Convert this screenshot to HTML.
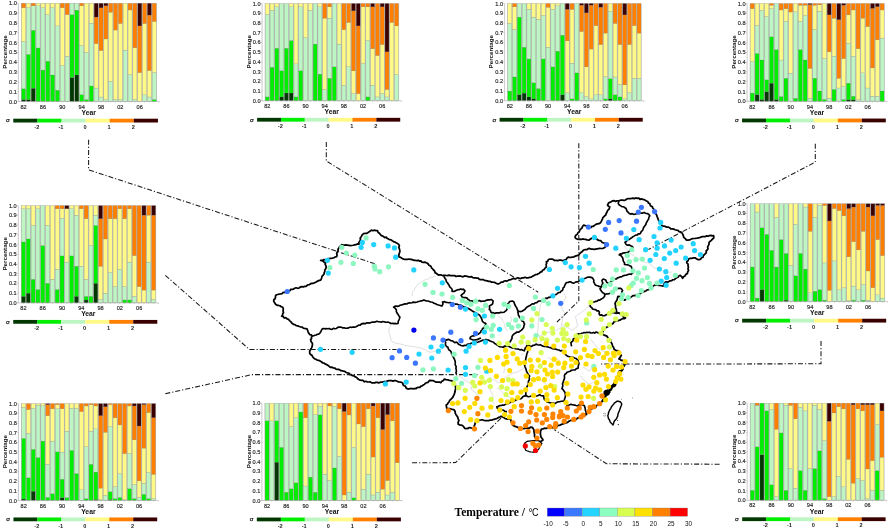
<!DOCTYPE html>
<html><head><meta charset="utf-8"><title>Temperature</title>
<style>html,body{margin:0;padding:0;background:#fff;width:890px;height:532px;overflow:hidden}svg{display:block;will-change:transform;filter:blur(0.3px)}</style>
</head><body>
<svg width="890" height="532" viewBox="0 0 890 532">
<rect width="890" height="532" fill="#fff"/>
<polygon points="273.7,301.1 273.83,299.71 275.05,298.76 275.47,297.49 275.45,296.04 276.2,294.9 277.63,294.5 279.05,294.05 280.54,293.86 282.02,293.61 283.25,292.47 284.8,292.5 285.83,291.5 287.42,291.79 288.48,290.86 289.86,290.67 290.77,289.37 292.2,289.29 293.56,289.05 294.7,288.3 296.1,287.76 297.68,288.28 299.13,287.99 300.41,286.79 301.86,286.54 303.4,286.8 304.65,286.41 306.04,286.38 307.07,285.36 308.25,284.76 309.56,284.53 310.65,283.69 311.96,283.45 313.3,283.3 314.51,282.7 315.76,282.23 316.88,281.43 318.12,280.89 319.34,280.35 320.7,280.1 321.29,278.85 321.74,277.54 322.11,276.19 323.2,275.2 324.03,274.09 324.22,272.74 324.79,271.54 324.8,270.12 325.6,269 326.14,267.45 326,265.9 325.18,264.35 325.6,262.8 324.29,262.34 323.26,261.33 322.03,260.72 320.7,260.3 322.23,260.49 323.55,259.65 325.07,259.81 326.47,259.35 327.82,258.67 329.3,258.6 330.81,258.29 332.37,258.21 333.84,257.77 335.22,257.01 336.7,256.6 337.06,255.14 336.72,253.55 337.2,252.11 338.06,250.74 338,249.2 338.85,248.02 339.57,246.72 340.82,245.86 341.7,244.7 343.1,245.04 344.51,245.12 345.95,244.91 347.36,245.09 348.77,245.28 350.16,245.69 351.6,245.5 353.08,245.26 354.54,244.86 356.04,244.71 357.43,243.95 359,244.2 358.81,242.58 359.82,241.19 360.42,239.73 360.2,238.1 361.12,236.92 361.77,235.57 362.7,234.4 363.8,233.56 365.18,233.4 366.62,233.39 367.77,232.68 368.9,231.9 370.17,231.09 371.4,230.2 372.89,230.72 374.47,230.16 375.97,230.59 377.5,230.7 378.03,232.22 379.28,233.2 380.31,234.35 381.2,235.6 382.54,235.89 383.65,236.7 384.72,237.64 386.36,237.2 387.27,238.51 388.49,239.07 389.7,239.67 391.1,239.8 392.22,240.76 393.43,241.56 394.84,242.02 396.07,242.79 397.39,243.4 398.6,244.2 399.38,245.66 398.8,247.38 399.42,248.86 399.8,250.4 399.82,252.01 399.19,253.5 398.92,255.05 398.6,256.6 399.9,257.08 401.13,257.7 402.26,258.51 403.5,259.1 404.83,259.34 406.18,259.44 407.54,259.38 408.92,259.02 410.25,259.35 411.6,259.4 412.91,259.96 414.23,260.37 415.58,260.41 416.93,260.52 418.3,260.3 419.42,261.09 420.87,260.97 421.88,262.04 423.18,262.33 424.65,262.18 425.91,262.58 427.15,263.04 428.2,264 428.87,265.19 430.17,265.82 431.17,266.72 431.63,268.09 432.74,268.89 433.5,270 434.71,271.17 435.1,272.8 436.44,273.26 437.35,274.36 438.5,275.1 439.82,274.81 441.11,274.99 442.39,275.55 443.7,275.34 445.01,275.26 446.3,275.5 447.6,275.6 449.03,275.15 450.41,275.63 451.8,275.74 453.22,275.56 454.62,275.55 455.98,276.49 457.4,276.14 458.8,276.2 460.23,275.96 461.62,276.47 463.02,276.77 464.48,275.97 465.89,276.05 467.3,276.26 468.67,276.97 470.1,276.8 471.53,276.69 472.78,277.54 474.14,277.77 475.53,277.89 476.9,278.1 478.27,278.18 479.33,279.35 480.67,279.53 482.04,279.6 483.41,279.66 484.57,280.49 485.9,280.7 487.28,280.89 488.6,281.38 490.02,281.41 491.31,282.04 492.7,282.2 494.36,282.28 495.77,283.06 497.2,283.8 498.72,283.78 500.02,283.19 501.15,282.1 502.7,282.17 503.9,281.3 505.21,280.76 506.74,281.09 508.05,280.54 509.32,279.85 510.7,279.6 512.12,279.01 513.53,278.42 515.21,279.03 516.6,278.3 517.94,277.69 519.38,278.45 520.76,278.51 522.1,277.9 523.59,277.84 525.03,277.27 526.59,277.9 528.08,277.89 529.54,277.46 531,277.1 532.2,276.55 533.34,275.86 534.53,275.28 535.66,274.58 537.08,274.49 538.17,273.69 539.4,273.2 540.42,272.16 541.8,271.7 542.61,270.25 544.18,269.53 545.01,268.09 546.3,267.1 546.3,265.75 546.11,264.4 546.71,263.05 546.3,261.7 547.79,261.16 548.45,259.47 550,259 551.64,259 553.19,259.46 554.62,260.5 556.3,260.3 557.8,260.63 559.3,260.16 560.8,260.04 562.3,260.57 563.8,260.4 565.19,259.88 566.42,259.14 567.23,257.78 568.5,257.1 570.35,257.52 572.2,257.1 573.83,256.83 575.33,256.15 576.9,255.7 578.6,255.19 579.7,253.8 580.46,252.66 581.81,252.11 582.6,251 583.83,250 585.26,249.51 586.97,249.69 588.2,248.7 589.7,248.46 591.14,249.14 592.63,249.05 594.1,249.39 595.6,249.1 597.01,248.81 598.43,248.63 599.85,248.42 601.3,248.5 603.12,248.33 604.7,247.4 605.88,246.33 606.9,245.1 606.04,243.95 604.86,243.28 603.5,242.9 602.17,242.46 601.33,241.32 600.2,240.6 598.83,240.39 597.63,239.85 596.7,238.8 595.33,238.96 594.26,237.81 592.9,237.9 591.47,238.4 590.18,239.12 589.1,240.2 587.21,239.92 585.4,239.3 584.08,239.17 582.76,238.99 581.44,239.43 580.12,239.22 578.8,239.3 577.06,239.09 575.5,238.3 575,236.9 575.85,235.2 577.4,234.1 577.95,232.7 579.3,231.79 579.7,230.3 580.71,229.07 581.97,228.03 582.51,226.45 583.5,225.2 585.4,225.6 586.88,225.84 588.1,226.85 589.48,227.37 591,227.5 591.89,226.34 593.43,226.26 594.5,225.4 595.84,224.41 597.35,223.87 599,223.7 600.45,222.85 601.3,221.4 602.4,219.2 602.75,217.78 603.7,216.77 604.7,215.8 605.88,214.96 606.09,213.49 606.9,212.4 607.32,211.03 608.13,209.93 609.2,209 609.7,206.8 608.43,206.18 607.5,205.1 608.6,202.8 610.42,202.19 612,201.1 613.67,200.56 615.43,201.35 617.1,200.8 619.3,200.5 620.89,200.22 622.5,200.2 624.05,200.38 625.48,200 626.77,199.02 628.2,198.66 629.7,198.6 631.24,198.53 632.77,198.08 634.32,198.65 635.85,197.93 637.4,198.4 638.83,198.11 639.99,199.4 641.46,198.9 642.74,199.46 644.1,199.6 645.27,200.33 646.5,200.99 647.79,201.54 648.4,203.1 649.8,203.5 650.06,204.88 650.76,205.98 652.26,206.57 652.6,207.9 653.6,208.86 653.96,210.24 654.8,211.3 655.18,213.24 656.5,214.7 657.06,216.37 657.7,218 658.28,219.59 659.07,221.08 660,222.5 660.96,223.49 661.43,224.79 662.2,225.9 663.75,226.1 665.27,226.43 666.7,227.1 668.23,227.08 669.57,227.72 670.75,228.88 672.3,228.8 673.74,229.14 675.1,229.76 676.53,230.15 678,230.4 679.08,231.64 680.73,231.96 682,232.9 682.8,234.32 683.38,235.83 683.8,237.4 685.29,238.61 686.5,240.1 688.07,240.17 689.58,239.92 691,239.2 692.4,238.73 693.85,238.5 695.33,238.47 696.78,238.25 698.2,237.9 699.66,237.72 701.03,237.06 702.42,236.54 703.91,236.5 705.4,236.5 706.72,235.88 708.14,236.26 709.45,235.58 710.82,235.44 712.25,235.9 713.6,235.6 713.83,236.95 713.6,238.3 712.23,239.2 711.31,240.56 709.87,241.39 709,242.8 709.01,244.33 708.28,245.68 707.61,247.04 708.01,248.67 707.2,250 706.16,250.98 706.32,252.56 705.4,253.6 704.35,254.63 703.36,255.7 703,257.2 701.6,257.71 700.71,258.96 699.4,259.6 697.78,259.56 696.4,258.68 695.03,257.81 693.4,257.8 691.64,258.32 689.8,258.4 688.49,259.09 688.08,260.68 686.8,261.4 686.77,262.92 688.1,264.06 688,265.6 688.4,267.21 687.96,268.92 688.6,270.5 687.69,271.88 687.4,273.5 685.88,274.38 685,275.9 683.53,276.83 682.6,278.3 681.61,276.63 680.2,275.3 678.88,275.93 678,277.19 676.6,277.7 675.41,278.51 674.35,279.52 672.8,279.75 671.7,280.7 670.16,280.82 668.75,281.57 667.29,282.07 665.7,281.9 664.46,283.05 663.81,284.53 663.3,286.1 661.51,285.75 659.7,285.5 658.4,285.35 657.13,284.91 655.8,285.25 654.5,285.1 653.34,286.12 652.14,287.11 650.8,287.9 649.76,288.83 648.72,289.75 647.19,289.86 646.1,290.7 644.57,291.42 642.94,291.89 641.4,292.6 640.24,293.59 638.77,293.83 637.52,294.6 636.18,295.15 634.79,295.56 633.21,295.52 632,296.4 630.66,297.39 629.2,298.2 627.84,298.8 626.4,299.2 624.5,300.1 623.4,299.17 621.98,298.69 620.66,298.07 619.8,296.8 617.9,296.4 617.42,298.24 617,300.1 616.05,301.5 615.1,302.9 615.14,304.22 615.57,305.49 615.5,306.83 615.65,308.14 616.38,309.36 616.31,310.7 616.5,312 617.71,312.58 619.04,312.93 620.14,313.71 621.3,314.4 622.31,315.35 623.11,316.54 624.15,317.45 625.5,318 624.17,318.67 622.65,318.71 621.3,319.3 619.82,320.18 618.21,320.56 616.5,320.5 615.29,321.39 613.85,321.97 613.12,323.5 611.7,324.1 610.32,324.6 609.03,325.24 608.13,326.53 606.8,327.1 605.45,328.15 604.13,329.23 603.2,330.7 602.73,332.25 602,333.7 603.1,334.5 604.28,335.13 605.55,335.59 606.8,336.1 607.76,337.58 608.96,338.81 610.5,339.7 610.47,341.35 611.32,342.72 612.19,344.1 612.3,345.7 613.15,346.78 613.78,347.96 614.1,349.3 615.27,349.97 616.37,350.75 617.92,350.66 618.9,351.7 619.53,353.04 620.3,354.3 621.3,355.4 620.64,356.69 619.69,357.79 618.9,359 620.26,359.27 621.19,360.43 622.73,360.35 623.7,361.4 623.93,362.95 625.1,364 623.9,365.8 623,366.85 622.57,368.14 622.33,369.51 621.5,370.6 620.35,371.73 619.56,373.05 619.6,374.84 618.5,376 617.59,377.31 616.89,378.71 616.6,380.3 615.65,381.4 614.82,382.58 614.2,383.9 613.45,385.13 612.21,386.04 611.8,387.5 610.2,388.68 609.4,390.5 608.28,391.5 607,392.3 606.19,393.41 606.07,394.79 605.5,396 604.6,398.3 603.69,400.03 602.2,401.3 601.34,402.44 600.49,403.59 599.2,404.3 597.68,404.86 596.4,405.74 595.7,407.41 594.2,408 592.56,408.5 591.04,409.29 589.4,409.8 588.5,411.3 587,412.2 586.39,413.52 585.63,414.75 584.6,415.8 583.07,416.02 581.89,417.28 580.39,417.56 578.86,417.78 577.4,418.2 576.44,419.27 574.94,419.27 573.8,420 572.17,420.29 570.51,420.44 569,421.2 567.95,422.12 566.71,422.68 565.4,423.1 563.54,423.66 561.7,424.3 559.98,425.14 558.1,425.5 556.84,426.43 555.88,427.71 554.5,428.5 552.76,427.71 550.9,427.3 549.22,427.39 547.62,427.77 546.1,428.5 544.44,428.18 542.89,428.85 541.3,429.1 541.04,430.4 540.38,431.62 540.5,433 540.37,434.37 540.76,435.68 541,437 542.11,438.43 543,440 541.61,440.96 540,441.5 538.31,441.14 537,440 536.45,438.49 534.98,437.56 534.5,436 534.6,434.47 534.22,432.99 534,431.5 533.91,429.91 533.13,428.59 532.3,427.3 530.78,427.02 529.5,428.16 528,428 526.67,428.12 525.34,428.17 524.04,428.58 522.7,428.5 521.07,428.1 519.4,427.85 517.8,427.3 516.01,426.67 514.2,426.1 512.57,424.94 511.8,423.1 511.14,421.27 510.6,419.4 509.19,419.23 507.77,419.16 506.38,418.83 505,418.5 503.81,417.52 502.43,416.92 501,416.4 499.8,417.01 498.53,417.45 497.4,418.2 495.64,418.93 493.8,419.4 492.05,420.02 490.2,420 488.67,420.74 487.03,420.64 485.4,420.6 483.78,420.29 482.18,419.78 480.5,420 478.97,420.46 477.79,421.54 476.18,421.86 475.1,423.1 474.84,424.61 474.14,426.03 474.3,427.62 473.9,429.1 472.5,428.25 470.9,427.9 469.35,427.52 467.92,428.41 466.44,428.71 464.9,428.5 463.8,426.92 462.5,425.5 461.11,425.07 459.66,424.85 458.3,424.3 458.06,422.36 458.9,420.6 458.18,418.84 457.7,417 456.83,415.85 456.01,414.66 455.3,413.4 455.08,411.47 454.1,409.8 452.66,409.47 451.22,409.07 449.79,408.65 448.3,408.57 446.8,408.6 446.49,406.8 446.2,405 447.34,404.24 448.1,403.1 449.13,401.68 449.9,400.1 451.02,399.22 452,398.2 452.9,397.1 453.41,395.85 454.1,394.7 454.64,393.13 455.04,391.54 455.3,389.9 455.71,388.4 455.46,386.93 455.46,385.46 455,384 454.18,382.56 452.9,381.5 451.21,380.57 449.3,380.3 447.69,379.79 445.99,379.66 444.4,379.1 443.38,380.48 441.84,381.34 440.8,382.7 439.38,382 437.81,382.05 436.22,382.18 434.8,381.5 433.29,380.74 431.6,380.72 430,380.3 428.9,381.13 428.06,382.31 426.64,382.69 425.38,383.28 424.47,384.37 423.3,385.1 422.17,385.84 420.82,386.15 419.94,387.37 418.5,387.49 417.08,387.66 416.1,388.7 414.6,388.49 413.1,388.81 411.6,388.49 410.1,388.58 408.6,389.02 407.1,388.7 405.94,387.86 405.59,386.32 404.16,385.72 403.08,384.81 402.79,383.21 401.6,382.4 400.17,382.02 398.68,381.82 397.28,381.31 395.9,380.71 394.4,380.6 392.99,381.06 391.51,380.63 390.06,380.67 388.62,380.65 387.2,381.1 385.81,381.61 384.3,381.5 382.93,382.17 381.43,382.07 380,382.4 378.68,382.88 377.27,382.33 375.91,382.37 374.6,382.9 373.14,382.91 371.68,382.84 370.34,381.85 368.87,381.95 367.4,382 366.05,381.27 364.39,381.78 363.19,380.49 361.67,380.43 360.2,380.2 358.74,379.47 357.46,378.46 356.31,377.26 354.8,376.6 353.74,375.72 352.25,375.71 351.26,374.68 349.84,374.53 349.03,373.13 347.6,373 346.28,372.54 345.17,371.55 343.79,371.22 342.44,370.83 341,370.67 339.81,369.89 338.5,369.4 337.1,369.4 335.81,369.01 334.71,368.02 333.31,368 332.15,367.21 330.7,367.36 329.5,366.7 328.28,365.6 326.93,364.7 325.33,364.18 324.1,363.1 322.55,362.78 321.35,361.8 320.05,361.01 318.7,360.3 317.15,360.02 315.85,359.26 314.43,358.71 313.3,357.6 312.48,356.41 311.83,355.08 310.36,354.42 309.7,353.1 309.65,351.18 310.6,349.5 311.41,348.08 312.12,346.63 312.4,345 312.43,343.49 311.62,342.26 310.89,341 310.6,339.6 311.53,338.57 311.42,337.01 312.4,336 311.33,334.93 309.73,334.56 308.8,333.3 308.1,331.84 307.59,330.3 307,328.8 305.7,328.57 304.38,328.43 303.14,328 302.06,327.02 300.7,327 299.23,326.5 297.81,325.84 296.21,325.68 294.94,324.62 293.4,324.3 291.92,323.08 290.7,321.6 289.56,320.62 288.57,319.44 287.1,318.9 285.99,317.74 284.18,318 283.2,316.58 281.7,316.2 282.65,315.14 282.72,313.65 283.5,312.5 283.15,311.17 283.14,309.79 283.28,308.37 282.6,307.1 281.22,306.75 280.03,305.8 278.64,305.48 277.2,305.3 275.58,304.22 274.5,302.6" fill="#fff"/>
<polyline points="412.2,296 412.2,293.7 412.68,292.17 413.57,290.84 414.47,289.51 415,288 415.94,287.04 416.78,286 417.44,284.82 418.3,283.8 419.55,283.32 420.59,282.5 421.57,281.57 422.84,281.13 424,280.5 425.21,279.63 426.8,279.62 428.14,279.05 429.31,278.07 430.7,277.6 431.99,277.07 433.4,276.98 434.62,276.2 436,276" fill="none" stroke="#c2c2c2" stroke-width="0.55" stroke-linejoin="round"/>
<polyline points="391.1,323.4 390.57,324.86 390.34,326.43 389.35,327.74 388.9,329.23 388.7,330.8 389.05,332.09 389.24,333.43 389.87,334.65 390,336 390.56,337.52 390.88,339.1 391.1,340.7 392.33,341.58 393.8,342.06 395,343 396.56,343.69 398.33,343.44 399.9,344.1 401.48,344.27 403.02,344.57 404.43,345.41 406,345.6 407.4,345.71 408.77,345.98 410.17,346.08 411.52,346.5 412.93,346.53 414.3,346.8 415.77,346.9 417.16,347.35 418.6,347.57 420,348 421.35,348.11 422.49,348.97 423.79,349.25 425.1,349.5 426.27,350.32 427.41,351.18 428.81,351.61 430,352.4 431.3,351.99 432.64,351.7 433.96,351.36 435.3,351.1 436.63,350.86 437.81,350.07 439.19,350.03 440.5,349.7 441.85,348.82 443.11,347.81 444.5,347" fill="none" stroke="#c2c2c2" stroke-width="0.55" stroke-linejoin="round"/>
<polyline points="542.9,300 542.52,301.31 541.63,302.36 541.31,303.7 540.5,304.8 540.11,306.22 539.95,307.67 539.86,309.13 539.46,310.55 539.3,312 539.13,313.46 539.38,314.95 538.92,316.38 538.74,317.83 538.7,319.3 538.57,320.74 538.2,322.16 538.18,323.61 538.31,325.07 538.1,326.5 538.06,328.13 537.89,329.74 537.4,331.3 537.83,332.98 538.54,334.55 539.3,336.1 539.83,337.73 540.54,339.29 541.1,340.9 540.02,341.8 539.07,342.85 537.86,343.58 536.8,344.5" fill="none" stroke="#c2c2c2" stroke-width="0.55" stroke-linejoin="round"/>
<polyline points="563.9,293.6 564.42,294.99 565.53,295.98 566.3,297.2 565.42,298.32 564.66,299.51 564.22,300.91 563.3,302 562.75,303.49 561.64,304.63 560.9,306 561.74,307.08 562.17,308.36 562.46,309.72 563.3,310.8 563.99,312.16 565.1,313.2 564.68,314.53 564.06,315.74 563.32,316.89 562.5,318 562.02,319.49 562.33,321.1 561.94,322.61 561.5,324.1 561.47,325.95 560.9,327.7 559.82,328.53 558.49,328.89 557.4,329.7 556.1,330.1 554.62,330.61 553.05,330.84 551.56,331.3 550.1,331.9 548.62,332.41 547.04,332.61 545.59,333.2 544.1,333.7 542.61,334.09 541.37,335.06 539.9,335.5" fill="none" stroke="#c2c2c2" stroke-width="0.55" stroke-linejoin="round"/>
<polyline points="561.5,324.1 562.45,325.1 563.61,325.77 564.79,326.41 566,327 567.48,327.45 568.85,328.13 570.14,329 571.51,329.68 573,330.1 573.98,328.8 575.25,327.82 576.78,327.16 577.8,325.9 577.2,324.67 577.22,323.27 576.66,322.03 576.53,320.67 576.33,319.34 575.8,318.09 575.4,316.8 576.55,315.84 577.73,314.9 579.05,314.17 580.2,313.2 581.45,312.37 582.56,311.35 583.79,310.48 585,309.6 586.22,308.42 587.4,307.2 588.14,306.03 588.96,304.93 590,304" fill="none" stroke="#c2c2c2" stroke-width="0.55" stroke-linejoin="round"/>
<polyline points="589.8,339.7 590.88,340.54 592.2,340.9 593.09,342.04 593.63,343.41 594.6,344.5 595.58,345.92 597.09,346.81 598.2,348.1 599.35,349.22 600.8,349.94 602,351 603.39,351.11 604.69,351.56 606,352" fill="none" stroke="#c2c2c2" stroke-width="0.55" stroke-linejoin="round"/>
<polyline points="497.7,315.3 498.82,316.22 499.94,317.13 501.3,317.7 502.2,318.75 502.22,320.24 502.9,321.4 503.7,322.5 504.43,323.91 504.36,325.56 505,327 505.48,328.43 506.53,329.57 507,331" fill="none" stroke="#c2c2c2" stroke-width="0.55" stroke-linejoin="round"/>
<polyline points="510.9,316.5 511.28,317.98 511.24,319.51 511.5,321 510.69,322.22 510.4,323.63 510,325" fill="none" stroke="#c2c2c2" stroke-width="0.55" stroke-linejoin="round"/>
<polyline points="456.3,374.7 457.74,375.14 458.85,376.25 460.15,376.96 461.6,377.4 462.96,378.64 464.2,380 465.54,380.53 466.83,381.14 468,382 469.21,382.6 470.18,383.49 471.21,384.31 472.1,385.3 471.43,386.52 471.44,387.97 470.8,389.2 472.22,389.89 473.23,391.18 474.7,391.8 475.84,393.36 477.4,394.5 478.49,395.5 479.23,396.76 480,398" fill="none" stroke="#c2c2c2" stroke-width="0.55" stroke-linejoin="round"/>
<polyline points="489.2,377.4 490.59,377.91 491.86,378.67 493.16,379.38 494.5,380 495.95,380.63 497.1,381.73 498.4,382.6 499.89,382.24 501.1,381.3 502.43,380.03 503.7,378.7 505.01,377.84 506.41,377.14 507.6,376.1 508.91,375.17 510.18,374.17 511.6,373.4 512.96,373.31 514.14,372.52 515.57,372.69 516.8,372.1 518.24,371.69 519.46,370.83 520.78,370.16 522.1,369.5 523.34,368.41 524.78,367.64 526.3,367" fill="none" stroke="#c2c2c2" stroke-width="0.55" stroke-linejoin="round"/>
<polyline points="487.9,386.6 488.51,388.07 489.7,389.16 490.5,390.5 490.97,391.93 492.01,393.07 492.54,394.47 493.2,395.8 492.95,397.24 492.37,398.59 492,400 492.93,401.2 493.39,402.64 494,404" fill="none" stroke="#c2c2c2" stroke-width="0.55" stroke-linejoin="round"/>
<polyline points="503.7,365.5 503.92,366.9 504.76,368.1 505,369.5 504.06,371.14 503.7,373" fill="none" stroke="#c2c2c2" stroke-width="0.55" stroke-linejoin="round"/>
<polyline points="520.8,355 522.14,354.24 523.5,353.5" fill="none" stroke="#c2c2c2" stroke-width="0.55" stroke-linejoin="round"/>
<polyline points="583,367 584.38,367.53 585.26,368.81 586.6,369.4 588.23,370.34 590,371 590.72,369.31 592,368 593.52,367.03 595,366" fill="none" stroke="#c2c2c2" stroke-width="0.55" stroke-linejoin="round"/>
<polyline points="580,376 581.13,376.87 582.2,377.8 582.92,379.08 584,380 585.08,380.85 585.84,382.01 587.02,382.76 587.8,383.9 589.27,383.93 590.63,383.42 592,383 593.27,382.2 594.53,381.39 596,381" fill="none" stroke="#c2c2c2" stroke-width="0.55" stroke-linejoin="round"/>
<polyline points="548,357 549.17,358.22 550.79,358.83 552,360 553.21,359.09 554.55,358.42 556,358 557.23,359.14 558.52,360.2 560,361" fill="none" stroke="#c2c2c2" stroke-width="0.55" stroke-linejoin="round"/>
<polyline points="540,380 541.13,380.94 542.46,381.56 543.67,382.38 545,383 546.04,384.07 546.41,385.55 547.11,386.84 548,388 547.35,389.34 546.68,390.67 546,392" fill="none" stroke="#c2c2c2" stroke-width="0.55" stroke-linejoin="round"/>
<polyline points="497,388 498.36,388.86 499.65,389.82 500.79,390.95 502,392 503.17,392.83 504.05,393.95 505.19,394.81 506,396 507.49,396.52 508.99,397.04 510.53,397.4 512,398" fill="none" stroke="#c2c2c2" stroke-width="0.55" stroke-linejoin="round"/>
<polyline points="624,246 624.68,247.28 625.78,248.28 626.63,249.44 627.28,250.75 628,252 629.15,252.91 630.57,253.38 631.61,254.48 633,255 634.2,256.06 635.5,257 636.7,258.06 638,259 639.18,259.64 640.39,260.21 641.5,261 642.74,261.52 644,262 645.5,262.51 647.11,262.67 648.56,263.31 650,264 651.41,264.8 652.33,266.21 653.55,267.25 655,268 656.28,268.42 657.43,269.17 658.86,269.22 660,270 661.42,270.73 663.1,270.71 664.43,271.71 666,272 667.5,272.1 669,272.26 670.5,272.19 672,272" fill="none" stroke="#c2c2c2" stroke-width="0.55" stroke-linejoin="round"/>
<polygon points="273.7,301.1 273.83,299.71 275.05,298.76 275.47,297.49 275.45,296.04 276.2,294.9 277.63,294.5 279.05,294.05 280.54,293.86 282.02,293.61 283.25,292.47 284.8,292.5 285.83,291.5 287.42,291.79 288.48,290.86 289.86,290.67 290.77,289.37 292.2,289.29 293.56,289.05 294.7,288.3 296.1,287.76 297.68,288.28 299.13,287.99 300.41,286.79 301.86,286.54 303.4,286.8 304.65,286.41 306.04,286.38 307.07,285.36 308.25,284.76 309.56,284.53 310.65,283.69 311.96,283.45 313.3,283.3 314.51,282.7 315.76,282.23 316.88,281.43 318.12,280.89 319.34,280.35 320.7,280.1 321.29,278.85 321.74,277.54 322.11,276.19 323.2,275.2 324.03,274.09 324.22,272.74 324.79,271.54 324.8,270.12 325.6,269 326.14,267.45 326,265.9 325.18,264.35 325.6,262.8 324.29,262.34 323.26,261.33 322.03,260.72 320.7,260.3 322.23,260.49 323.55,259.65 325.07,259.81 326.47,259.35 327.82,258.67 329.3,258.6 330.81,258.29 332.37,258.21 333.84,257.77 335.22,257.01 336.7,256.6 337.06,255.14 336.72,253.55 337.2,252.11 338.06,250.74 338,249.2 338.85,248.02 339.57,246.72 340.82,245.86 341.7,244.7 343.1,245.04 344.51,245.12 345.95,244.91 347.36,245.09 348.77,245.28 350.16,245.69 351.6,245.5 353.08,245.26 354.54,244.86 356.04,244.71 357.43,243.95 359,244.2 358.81,242.58 359.82,241.19 360.42,239.73 360.2,238.1 361.12,236.92 361.77,235.57 362.7,234.4 363.8,233.56 365.18,233.4 366.62,233.39 367.77,232.68 368.9,231.9 370.17,231.09 371.4,230.2 372.89,230.72 374.47,230.16 375.97,230.59 377.5,230.7 378.03,232.22 379.28,233.2 380.31,234.35 381.2,235.6 382.54,235.89 383.65,236.7 384.72,237.64 386.36,237.2 387.27,238.51 388.49,239.07 389.7,239.67 391.1,239.8 392.22,240.76 393.43,241.56 394.84,242.02 396.07,242.79 397.39,243.4 398.6,244.2 399.38,245.66 398.8,247.38 399.42,248.86 399.8,250.4 399.82,252.01 399.19,253.5 398.92,255.05 398.6,256.6 399.9,257.08 401.13,257.7 402.26,258.51 403.5,259.1 404.83,259.34 406.18,259.44 407.54,259.38 408.92,259.02 410.25,259.35 411.6,259.4 412.91,259.96 414.23,260.37 415.58,260.41 416.93,260.52 418.3,260.3 419.42,261.09 420.87,260.97 421.88,262.04 423.18,262.33 424.65,262.18 425.91,262.58 427.15,263.04 428.2,264 428.87,265.19 430.17,265.82 431.17,266.72 431.63,268.09 432.74,268.89 433.5,270 434.71,271.17 435.1,272.8 436.44,273.26 437.35,274.36 438.5,275.1 439.82,274.81 441.11,274.99 442.39,275.55 443.7,275.34 445.01,275.26 446.3,275.5 447.6,275.6 449.03,275.15 450.41,275.63 451.8,275.74 453.22,275.56 454.62,275.55 455.98,276.49 457.4,276.14 458.8,276.2 460.23,275.96 461.62,276.47 463.02,276.77 464.48,275.97 465.89,276.05 467.3,276.26 468.67,276.97 470.1,276.8 471.53,276.69 472.78,277.54 474.14,277.77 475.53,277.89 476.9,278.1 478.27,278.18 479.33,279.35 480.67,279.53 482.04,279.6 483.41,279.66 484.57,280.49 485.9,280.7 487.28,280.89 488.6,281.38 490.02,281.41 491.31,282.04 492.7,282.2 494.36,282.28 495.77,283.06 497.2,283.8 498.72,283.78 500.02,283.19 501.15,282.1 502.7,282.17 503.9,281.3 505.21,280.76 506.74,281.09 508.05,280.54 509.32,279.85 510.7,279.6 512.12,279.01 513.53,278.42 515.21,279.03 516.6,278.3 517.94,277.69 519.38,278.45 520.76,278.51 522.1,277.9 523.59,277.84 525.03,277.27 526.59,277.9 528.08,277.89 529.54,277.46 531,277.1 532.2,276.55 533.34,275.86 534.53,275.28 535.66,274.58 537.08,274.49 538.17,273.69 539.4,273.2 540.42,272.16 541.8,271.7 542.61,270.25 544.18,269.53 545.01,268.09 546.3,267.1 546.3,265.75 546.11,264.4 546.71,263.05 546.3,261.7 547.79,261.16 548.45,259.47 550,259 551.64,259 553.19,259.46 554.62,260.5 556.3,260.3 557.8,260.63 559.3,260.16 560.8,260.04 562.3,260.57 563.8,260.4 565.19,259.88 566.42,259.14 567.23,257.78 568.5,257.1 570.35,257.52 572.2,257.1 573.83,256.83 575.33,256.15 576.9,255.7 578.6,255.19 579.7,253.8 580.46,252.66 581.81,252.11 582.6,251 583.83,250 585.26,249.51 586.97,249.69 588.2,248.7 589.7,248.46 591.14,249.14 592.63,249.05 594.1,249.39 595.6,249.1 597.01,248.81 598.43,248.63 599.85,248.42 601.3,248.5 603.12,248.33 604.7,247.4 605.88,246.33 606.9,245.1 606.04,243.95 604.86,243.28 603.5,242.9 602.17,242.46 601.33,241.32 600.2,240.6 598.83,240.39 597.63,239.85 596.7,238.8 595.33,238.96 594.26,237.81 592.9,237.9 591.47,238.4 590.18,239.12 589.1,240.2 587.21,239.92 585.4,239.3 584.08,239.17 582.76,238.99 581.44,239.43 580.12,239.22 578.8,239.3 577.06,239.09 575.5,238.3 575,236.9 575.85,235.2 577.4,234.1 577.95,232.7 579.3,231.79 579.7,230.3 580.71,229.07 581.97,228.03 582.51,226.45 583.5,225.2 585.4,225.6 586.88,225.84 588.1,226.85 589.48,227.37 591,227.5 591.89,226.34 593.43,226.26 594.5,225.4 595.84,224.41 597.35,223.87 599,223.7 600.45,222.85 601.3,221.4 602.4,219.2 602.75,217.78 603.7,216.77 604.7,215.8 605.88,214.96 606.09,213.49 606.9,212.4 607.32,211.03 608.13,209.93 609.2,209 609.7,206.8 608.43,206.18 607.5,205.1 608.6,202.8 610.42,202.19 612,201.1 613.67,200.56 615.43,201.35 617.1,200.8 619.3,200.5 620.89,200.22 622.5,200.2 624.05,200.38 625.48,200 626.77,199.02 628.2,198.66 629.7,198.6 631.24,198.53 632.77,198.08 634.32,198.65 635.85,197.93 637.4,198.4 638.83,198.11 639.99,199.4 641.46,198.9 642.74,199.46 644.1,199.6 645.27,200.33 646.5,200.99 647.79,201.54 648.4,203.1 649.8,203.5 650.06,204.88 650.76,205.98 652.26,206.57 652.6,207.9 653.6,208.86 653.96,210.24 654.8,211.3 655.18,213.24 656.5,214.7 657.06,216.37 657.7,218 658.28,219.59 659.07,221.08 660,222.5 660.96,223.49 661.43,224.79 662.2,225.9 663.75,226.1 665.27,226.43 666.7,227.1 668.23,227.08 669.57,227.72 670.75,228.88 672.3,228.8 673.74,229.14 675.1,229.76 676.53,230.15 678,230.4 679.08,231.64 680.73,231.96 682,232.9 682.8,234.32 683.38,235.83 683.8,237.4 685.29,238.61 686.5,240.1 688.07,240.17 689.58,239.92 691,239.2 692.4,238.73 693.85,238.5 695.33,238.47 696.78,238.25 698.2,237.9 699.66,237.72 701.03,237.06 702.42,236.54 703.91,236.5 705.4,236.5 706.72,235.88 708.14,236.26 709.45,235.58 710.82,235.44 712.25,235.9 713.6,235.6 713.83,236.95 713.6,238.3 712.23,239.2 711.31,240.56 709.87,241.39 709,242.8 709.01,244.33 708.28,245.68 707.61,247.04 708.01,248.67 707.2,250 706.16,250.98 706.32,252.56 705.4,253.6 704.35,254.63 703.36,255.7 703,257.2 701.6,257.71 700.71,258.96 699.4,259.6 697.78,259.56 696.4,258.68 695.03,257.81 693.4,257.8 691.64,258.32 689.8,258.4 688.49,259.09 688.08,260.68 686.8,261.4 686.77,262.92 688.1,264.06 688,265.6 688.4,267.21 687.96,268.92 688.6,270.5 687.69,271.88 687.4,273.5 685.88,274.38 685,275.9 683.53,276.83 682.6,278.3 681.61,276.63 680.2,275.3 678.88,275.93 678,277.19 676.6,277.7 675.41,278.51 674.35,279.52 672.8,279.75 671.7,280.7 670.16,280.82 668.75,281.57 667.29,282.07 665.7,281.9 664.46,283.05 663.81,284.53 663.3,286.1 661.51,285.75 659.7,285.5 658.4,285.35 657.13,284.91 655.8,285.25 654.5,285.1 653.34,286.12 652.14,287.11 650.8,287.9 649.76,288.83 648.72,289.75 647.19,289.86 646.1,290.7 644.57,291.42 642.94,291.89 641.4,292.6 640.24,293.59 638.77,293.83 637.52,294.6 636.18,295.15 634.79,295.56 633.21,295.52 632,296.4 630.66,297.39 629.2,298.2 627.84,298.8 626.4,299.2 624.5,300.1 623.4,299.17 621.98,298.69 620.66,298.07 619.8,296.8 617.9,296.4 617.42,298.24 617,300.1 616.05,301.5 615.1,302.9 615.14,304.22 615.57,305.49 615.5,306.83 615.65,308.14 616.38,309.36 616.31,310.7 616.5,312 617.71,312.58 619.04,312.93 620.14,313.71 621.3,314.4 622.31,315.35 623.11,316.54 624.15,317.45 625.5,318 624.17,318.67 622.65,318.71 621.3,319.3 619.82,320.18 618.21,320.56 616.5,320.5 615.29,321.39 613.85,321.97 613.12,323.5 611.7,324.1 610.32,324.6 609.03,325.24 608.13,326.53 606.8,327.1 605.45,328.15 604.13,329.23 603.2,330.7 602.73,332.25 602,333.7 603.1,334.5 604.28,335.13 605.55,335.59 606.8,336.1 607.76,337.58 608.96,338.81 610.5,339.7 610.47,341.35 611.32,342.72 612.19,344.1 612.3,345.7 613.15,346.78 613.78,347.96 614.1,349.3 615.27,349.97 616.37,350.75 617.92,350.66 618.9,351.7 619.53,353.04 620.3,354.3 621.3,355.4 620.64,356.69 619.69,357.79 618.9,359 620.26,359.27 621.19,360.43 622.73,360.35 623.7,361.4 623.93,362.95 625.1,364 623.9,365.8 623,366.85 622.57,368.14 622.33,369.51 621.5,370.6 620.35,371.73 619.56,373.05 619.6,374.84 618.5,376 617.59,377.31 616.89,378.71 616.6,380.3 615.65,381.4 614.82,382.58 614.2,383.9 613.45,385.13 612.21,386.04 611.8,387.5 610.2,388.68 609.4,390.5 608.28,391.5 607,392.3 606.19,393.41 606.07,394.79 605.5,396 604.6,398.3 603.69,400.03 602.2,401.3 601.34,402.44 600.49,403.59 599.2,404.3 597.68,404.86 596.4,405.74 595.7,407.41 594.2,408 592.56,408.5 591.04,409.29 589.4,409.8 588.5,411.3 587,412.2 586.39,413.52 585.63,414.75 584.6,415.8 583.07,416.02 581.89,417.28 580.39,417.56 578.86,417.78 577.4,418.2 576.44,419.27 574.94,419.27 573.8,420 572.17,420.29 570.51,420.44 569,421.2 567.95,422.12 566.71,422.68 565.4,423.1 563.54,423.66 561.7,424.3 559.98,425.14 558.1,425.5 556.84,426.43 555.88,427.71 554.5,428.5 552.76,427.71 550.9,427.3 549.22,427.39 547.62,427.77 546.1,428.5 544.44,428.18 542.89,428.85 541.3,429.1 541.04,430.4 540.38,431.62 540.5,433 540.37,434.37 540.76,435.68 541,437 542.11,438.43 543,440 541.61,440.96 540,441.5 538.31,441.14 537,440 536.45,438.49 534.98,437.56 534.5,436 534.6,434.47 534.22,432.99 534,431.5 533.91,429.91 533.13,428.59 532.3,427.3 530.78,427.02 529.5,428.16 528,428 526.67,428.12 525.34,428.17 524.04,428.58 522.7,428.5 521.07,428.1 519.4,427.85 517.8,427.3 516.01,426.67 514.2,426.1 512.57,424.94 511.8,423.1 511.14,421.27 510.6,419.4 509.19,419.23 507.77,419.16 506.38,418.83 505,418.5 503.81,417.52 502.43,416.92 501,416.4 499.8,417.01 498.53,417.45 497.4,418.2 495.64,418.93 493.8,419.4 492.05,420.02 490.2,420 488.67,420.74 487.03,420.64 485.4,420.6 483.78,420.29 482.18,419.78 480.5,420 478.97,420.46 477.79,421.54 476.18,421.86 475.1,423.1 474.84,424.61 474.14,426.03 474.3,427.62 473.9,429.1 472.5,428.25 470.9,427.9 469.35,427.52 467.92,428.41 466.44,428.71 464.9,428.5 463.8,426.92 462.5,425.5 461.11,425.07 459.66,424.85 458.3,424.3 458.06,422.36 458.9,420.6 458.18,418.84 457.7,417 456.83,415.85 456.01,414.66 455.3,413.4 455.08,411.47 454.1,409.8 452.66,409.47 451.22,409.07 449.79,408.65 448.3,408.57 446.8,408.6 446.49,406.8 446.2,405 447.34,404.24 448.1,403.1 449.13,401.68 449.9,400.1 451.02,399.22 452,398.2 452.9,397.1 453.41,395.85 454.1,394.7 454.64,393.13 455.04,391.54 455.3,389.9 455.71,388.4 455.46,386.93 455.46,385.46 455,384 454.18,382.56 452.9,381.5 451.21,380.57 449.3,380.3 447.69,379.79 445.99,379.66 444.4,379.1 443.38,380.48 441.84,381.34 440.8,382.7 439.38,382 437.81,382.05 436.22,382.18 434.8,381.5 433.29,380.74 431.6,380.72 430,380.3 428.9,381.13 428.06,382.31 426.64,382.69 425.38,383.28 424.47,384.37 423.3,385.1 422.17,385.84 420.82,386.15 419.94,387.37 418.5,387.49 417.08,387.66 416.1,388.7 414.6,388.49 413.1,388.81 411.6,388.49 410.1,388.58 408.6,389.02 407.1,388.7 405.94,387.86 405.59,386.32 404.16,385.72 403.08,384.81 402.79,383.21 401.6,382.4 400.17,382.02 398.68,381.82 397.28,381.31 395.9,380.71 394.4,380.6 392.99,381.06 391.51,380.63 390.06,380.67 388.62,380.65 387.2,381.1 385.81,381.61 384.3,381.5 382.93,382.17 381.43,382.07 380,382.4 378.68,382.88 377.27,382.33 375.91,382.37 374.6,382.9 373.14,382.91 371.68,382.84 370.34,381.85 368.87,381.95 367.4,382 366.05,381.27 364.39,381.78 363.19,380.49 361.67,380.43 360.2,380.2 358.74,379.47 357.46,378.46 356.31,377.26 354.8,376.6 353.74,375.72 352.25,375.71 351.26,374.68 349.84,374.53 349.03,373.13 347.6,373 346.28,372.54 345.17,371.55 343.79,371.22 342.44,370.83 341,370.67 339.81,369.89 338.5,369.4 337.1,369.4 335.81,369.01 334.71,368.02 333.31,368 332.15,367.21 330.7,367.36 329.5,366.7 328.28,365.6 326.93,364.7 325.33,364.18 324.1,363.1 322.55,362.78 321.35,361.8 320.05,361.01 318.7,360.3 317.15,360.02 315.85,359.26 314.43,358.71 313.3,357.6 312.48,356.41 311.83,355.08 310.36,354.42 309.7,353.1 309.65,351.18 310.6,349.5 311.41,348.08 312.12,346.63 312.4,345 312.43,343.49 311.62,342.26 310.89,341 310.6,339.6 311.53,338.57 311.42,337.01 312.4,336 311.33,334.93 309.73,334.56 308.8,333.3 308.1,331.84 307.59,330.3 307,328.8 305.7,328.57 304.38,328.43 303.14,328 302.06,327.02 300.7,327 299.23,326.5 297.81,325.84 296.21,325.68 294.94,324.62 293.4,324.3 291.92,323.08 290.7,321.6 289.56,320.62 288.57,319.44 287.1,318.9 285.99,317.74 284.18,318 283.2,316.58 281.7,316.2 282.65,315.14 282.72,313.65 283.5,312.5 283.15,311.17 283.14,309.79 283.28,308.37 282.6,307.1 281.22,306.75 280.03,305.8 278.64,305.48 277.2,305.3 275.58,304.22 274.5,302.6" fill="none" stroke="#000" stroke-width="1.75" stroke-linejoin="round"/>
<polygon points="528,441.1 526.65,441.67 525.45,442.48 524.4,443.5 524.46,445.28 524,447 525.02,448.44 525.6,450.1 526.76,450.74 528,451.13 529.24,451.55 530.5,451.9 532.11,451.99 533.69,452.36 535.3,452.5 536.55,451.35 537.73,450.13 538.9,448.9 539.47,447.45 540.36,446.18 541.09,444.82 541.9,443.5 540.54,442.15 539,441 537.52,440.58 536.02,440.48 534.5,440.6 533,440.5 531.34,440.73 529.68,441.04" fill="#fff" stroke="#000" stroke-width="1.2" stroke-linejoin="round"/>
<polygon points="618.3,401.3 620.6,402 621.7,403.9 621.45,405.25 620.9,406.5 620.33,407.99 619.8,409.5 619.37,410.8 618.74,412.01 618.3,413.3 617.86,414.55 617.82,415.91 617.2,417.1 616.5,418.76 615.3,420.1 614.38,421.09 613.8,422.3 613.54,423.69 613,425 611.9,423.8 610.83,422.8 610,421.6 609.52,419.97 608.5,418.6 608.13,417.1 607.8,415.6 608.35,414.15 608.5,412.6 609.24,411.04 610,409.5 610.84,408.31 611.36,406.92 612.3,405.8 613.47,404.35 614.5,402.8 615.77,402.23 616.8,401.3" fill="#fff" stroke="#000" stroke-width="1.45" stroke-linejoin="round"/>
<polyline points="312.4,336 313.68,335.72 314.9,335.2 316.2,335 317.35,334.25 318.7,334.2 319.89,333.04 320.8,331.7 321.54,330.24 322.3,328.8 323.65,328.43 325,328.82 326.35,328.61 327.7,328.8 329.14,328.52 330.58,329.3 332.02,329.35 333.46,328.3 334.9,328.8 336.28,328.55 337.35,327.7 338.5,327 339.98,327.11 341.46,327.25 342.85,327.91 344.35,327.91 345.8,328.2 347.27,328.16 348.71,327.9 350.05,327.08 351.61,327.53 353,327 354.57,327.15 356.01,326.78 357.35,326.04 358.64,325.07 360.2,325.2 361.16,324.11 362.42,323.64 363.8,323.4 365.3,323.7 366.65,322.82 368.1,322.71 369.61,323.11 371,322.5 372.41,322.12 373.89,322.19 375.31,321.89 376.7,321.31 378.2,321.6 379.63,321.79 381.05,322.18 382.55,321.52 383.98,321.7 385.4,322.1 386.88,322.27 388.41,322.12 389.78,322.88 391.18,323.48 392.7,323.4 394.05,323.57 395.4,323.44 396.75,323.79 398.1,323.4 398.18,321.51 399,319.8 399.52,318.47 399.9,317.1 398.89,315.95 398.19,314.57 397.2,313.4 396.34,311.7 396.3,309.8 395.16,308.24 393.6,307.1 394.74,306.31 396.02,306.03 397.47,306.35 398.78,306.13 399.9,305.3 401.23,304.94 402.58,304.63 403.89,304.16 405.25,303.91 406.68,303.99 407.93,303.23 409.26,302.88 410.7,303 411.98,302.7 413.2,302.12 414.59,302.39 415.91,302.32 417.19,302.01 418.41,301.44 419.7,301.2 421,300.83 422.34,300.73 423.59,300.06 425,300.4 426.44,301.03 428.05,301.02 429.5,301.6 431.07,301.98 432.66,302.3 434,303.3 435.52,303.81 436.97,304.52 438.5,305 440.24,305.44 441.9,306.1 443,303.8 442.5,302.1 444.7,301.6 445.93,302.36 447.32,302.52 448.7,302.7 450.24,302.62 451.7,303.13 453.2,303.3 454.59,304.11 456.19,304.05 457.7,304.4 459.16,305.07 460.87,305.08 462.2,306.1 463.7,306.66 465.21,307.19 466.7,307.8 468.45,308.55 470.1,309.5 471.28,310.16 472.32,311.05 473.5,311.7 475.18,312.59 476.9,313.4 478.04,314.32 479.4,314.98 480.3,316.2 481.21,317.87 482,319.6 482.35,321.26 483.6,322.4 485.9,323.6 485.44,325.03 484.8,326.4 484,327.87 482.5,328.6 482.21,330.03 480.97,330.83 480.66,332.25 479.5,333.1 478.1,334.3 476.3,334.7 474.87,335.64 473.18,335.81 471.6,336.3 470.35,337.2 470,338.7 471.31,339.18 472.62,339.66 473.9,340.2 475.22,339.86 476.57,339.67 477.9,339.4 479.42,338.6 481,337.9" fill="none" stroke="#000" stroke-width="1.65" stroke-linejoin="round"/>
<polyline points="443.6,276.2 444.41,277.3 445.08,278.5 445.9,279.6 446.33,281.51 447.6,283 448.7,284.7 449.8,286.9 450.98,288.02 452.1,289.2 452.1,291.4 454.3,291.4 456,290.56 457.7,289.7 459.11,289.67 460.47,289.1 461.9,289.34 463.3,289.2 465,290.9 463.9,293.1 462.41,294.14 461.1,295.4 462.2,297.1 463.85,297.67 465.6,297.6 467.02,298.09 467.9,299.3 469.13,299.98 470.1,301 471.88,300.86 473.5,301.6 475.05,301.74 476.53,301.41 478,301 479.5,300.5 481,301.53 482.5,301 484.29,301.2 485.9,300.4 488.2,299.9 489.87,299.87 491.5,299.5 493.2,301 492.82,302.38 492.7,303.8 491,305 489.3,306.1 489.68,307.8 489.3,309.5 490.48,310.34 490.74,311.78 491.5,312.9 493.27,312.67 494.9,313.4 496.36,312.89 497.87,312.78 499.4,312.9 500.83,312.19 502.39,312.46 503.9,312.3 505.01,311.4 506.2,310.6 507.11,309.02 507.3,307.2 507.62,305.5 507.9,303.8 508.87,302.79 509.6,301.6 511,301.3 512.4,301 514.1,302.1 514.38,303.6 515,305 515.81,306.48 516.75,307.89 517.3,309.5 518.03,310.91 519.5,311.5 521.03,311.59 522.35,310.99 523.6,310.2 524.94,309.4 525.87,308.09 527.01,307.04 528.4,306.3 530,305.5 531.21,304.64 532.42,303.78 534.08,303.81 535.22,302.8 536.75,302.59 537.9,301.6 539.17,300.96 540.72,301.03 542,300.4 542.98,299.01 544.5,299 545.68,298.17 547.27,298.34 548.39,297.35 549.9,297.33 551,296.3 552.28,295.64 553.48,294.75 555.04,294.76 556.43,294.35 557.54,293.28 558.8,292.54 560.3,292.4 560.93,291.23 562.27,290.58 562.87,289.39 563.08,287.91 564.2,287.1 564.61,285.81 565.12,284.58 565.73,283.41 566.8,282.5 568.23,282.47 569.5,281.8 570.92,281.93 572.08,282.79 573.4,283.2 574.7,282.65 575.93,281.88 577.47,281.94 578.7,281.2 579.87,280.38 581.35,280.48 582.6,279.9 583.83,278.76 585.43,278.29 586.9,277.6 588.24,277.04 589.7,277.1 592,277.6 593.16,278.86 593.9,280.4 593.64,281.89 594.4,283.2 595.09,284.56 596.3,285.5 597.77,285.8 599.1,286.5 600.57,286.67 601.9,286 602.1,284.49 602.9,283.2 602.29,281.84 601.9,280.4 603.3,279 605.7,279.9 606.6,282.3 608.5,283.2 610.12,282.57 611.3,281.3 612.65,280.67 613.61,279.39 615.1,279 616.52,279.04 617.46,277.77 618.8,277.6 619.97,276.85 621.44,276.88 622.6,276.1 623.82,275.62 625.08,275.28 626.4,275.2 627.88,274.44 629.45,274.16 631.1,274.3 632.9,272.9 632.69,271.61 632.02,270.43 632,269.1 631.66,267.67 631.1,266.3 629.59,265.73 628.2,264.9 626.34,264.7 624.5,264.4 624.48,262.83 623.5,261.6 623.18,260.34 622.98,259.05 622.6,257.8 621.1,255.7 619.2,254.8 620.2,253.8 621.66,253.97 622.94,253.01 624.34,252.75 625.8,252.9 627.24,252.67 628.43,251.94 629.5,251 630.53,250.09 631.66,249.37 633,249 632.9,247.4 631.91,246.34 630.6,245.7 629.22,244.83 627.51,245.22 626.1,244.5 625,242.3 626.46,241.49 627.2,240 629.09,239.53 630.6,238.3 631.8,237.66 632.82,236.76 634,236.1 635.57,235.14 637.4,235 638.25,233.81 639.95,233.89 640.8,232.7 641.29,231.41 642.46,230.56 643,229.3 643.61,227.53 644.7,226 645.87,224.46 646.4,222.6 647.22,221.52 647.68,220.21 648.6,219.2 648.86,217.38 649.8,215.8 648.82,214.48 647.5,213.5 645.65,213.4 644.1,212.4 642.67,213.06 641.08,213.07 639.6,213.5 638.05,213.32 636.58,213.78 635.1,214.1 633.6,214.34 632.1,213.64 630.6,214.1 629.26,213.51 628.3,212.4 627.1,211.36 626.61,209.92 626.1,208.5 624.91,207.7 623.8,206.8 621.94,206.66 620.4,205.6 619.05,204.75 618.2,203.4 618.62,201.9 619.3,200.5" fill="none" stroke="#000" stroke-width="1.65" stroke-linejoin="round"/>
<polyline points="601.9,286 600.97,287.42 600,288.8 600.81,290.34 601.9,291.7 602.7,292.76 604.04,293.29 604.7,294.5 604.76,296.06 603.8,297.3 602.48,298.36 601,299.2 599.84,300.06 598.31,300.16 597.2,301.1 595.74,301.35 594.4,302 593.11,302.19 591.85,302.54 590.6,302.9 590.22,304.73 590.2,306.6 591.68,307.52 592.6,309 594.12,309.41 595.71,309.6 596.97,310.85 598.6,310.9 599.47,312.17 599.06,313.8 599.8,315.1 601.46,314.84 602.97,315.7 604.6,315.7 605.72,314.94 606.95,314.41 608.2,313.9 609.77,313.97 611.1,312.78 612.61,312.53 614.2,312.7 615.74,313.35 617.4,313.11 619,313.3" fill="none" stroke="#000" stroke-width="1.65" stroke-linejoin="round"/>
<polyline points="604.7,294.5 606.21,293.91 607.88,294.03 609.4,293.5 610.75,293.08 612.1,292.65 613.2,291.7 614.26,290.46 615.55,289.53 617,288.8 618.81,288.21 620.7,288.4 621.88,289.36 622.6,290.7 621.81,291.81 621.85,293.31 620.89,294.35 620.65,295.71 619.8,296.8" fill="none" stroke="#000" stroke-width="1.65" stroke-linejoin="round"/>
<polyline points="456.5,374.3 455.92,372.82 456.42,371.23 456.22,369.71 455.9,368.2 456.23,366.65 455.35,365.23 455.18,363.73 455.3,362.2 454.94,360.51 454.26,358.94 453.5,357.4 452.66,356.17 452.4,354.67 451.48,353.49 451.21,351.99 450.3,350.8 449.08,349.99 448.27,348.83 447.94,347.28 446.58,346.58 445.8,345.4 445.32,344.09 445.68,342.64 445.27,341.33 444.9,340" fill="none" stroke="#000" stroke-width="1.65" stroke-linejoin="round"/>
<polyline points="445.3,339.5 446.72,340.14 448.28,339.23 449.7,339.9 450.92,340.77 452.53,340.83 453.7,341.8 454.84,342.71 456.46,342.09 457.6,343 458.49,344.17 459.75,344.83 461,345.5 462.91,345.84 464.8,345.4 466.24,345.54 467.29,344.35 468.61,344.07 470.01,344.08 471.16,343.24 472.44,342.84 473.8,342.7 475.17,342.05 476.78,342.36 478.22,342.02 479.64,341.58 481,340.9 482.51,340.11 484.34,340.35 485.8,339.4 487.06,339.89 488.43,340.08 489.6,340.79 490.87,341.24 492.1,341.8 493.61,342.21 494.58,343.46 495.96,344.07 497.1,345.06 498.4,345.8 499.82,346.75 501.48,346.95 503.1,347.3 504.35,346.44 505.9,346.11 507,345 508.39,344.39 508.99,342.99 510,342 511.1,340 512.02,338.43 512,336.6 512.83,335.03 514.12,333.92 515.6,333 516.96,332.03 518.79,332.18 520.1,331.1 521.45,330.05 522.67,328.87 523.7,327.5 523.92,325.69 524.6,324 523.88,322.9 523.52,321.57 522.07,320.94 521.37,319.83 521,318.5 519.71,317.64 519.17,316.19 518.3,315 518.21,313.06 517.4,311.3" fill="none" stroke="#000" stroke-width="1.65" stroke-linejoin="round"/>
<polyline points="503.1,347.3 504.62,346.22 506.3,345.4 507.88,346.08 509.47,346.72 511,347.5 512.54,347.82 514.07,348.15 515.53,348.79 517.1,349 518.6,349.1 519.94,349.86 521.55,349.56 522.91,350.23 524.3,350.8 524.8,349.4 525.27,347.98 526.52,346.96 526.75,345.43 527.6,344.2 528.74,345.24 529.95,346.17 531.5,346.5 532.87,345.43 534.71,345.21 536,344 537.31,344.73 538.75,344.98 540.34,344.7 541.61,345.55 542.96,346.13 544.4,346.4 545.91,346.54 547.39,346.83 548.83,347.28 550.3,347.58 551.7,348.2 553.06,348.87 554.62,348.76 556.04,349.2 557.42,349.79 558.9,350 560.38,350.88 562.16,350.58 563.7,351.2 564.92,352.2 564.86,354.01 566.1,355 567.14,355.93 568.36,356.49 569.7,356.8 571.29,357.22 572.97,357.32 574.5,358 575.91,358.48 577.02,359.42 578.1,360.4 578.34,361.79 578.97,363.13 578.7,364.6 578.18,366.36 578.1,368.2 576.41,368.57 575.09,369.9 573.3,370 571.57,370.25 570.1,371.21 568.5,371.8 567.04,372.25 566.12,373.49 564.9,374.3 564.38,375.86 564.55,377.51 564.3,379.1 563.58,380.66 563.1,382.3 562.5,383.9 562.82,385.57 562.49,387.15 561.9,388.7 563.13,389.71 563.98,391.03 564.9,392.3 565.34,394.08 565.5,395.9 565.06,397.49 564.53,399.06 564.3,400.7 562.82,401.11 561.3,401.3 559.53,401.8 557.7,401.9 556.19,402.79 554.7,403.7 553.37,403.01 551.94,402.99 550.5,403.1 548.7,402.34 546.8,401.9 545.85,400.45 544.4,399.5 543.8,397.75 543.8,395.9 542.28,395.92 540.88,395.53 539.6,394.7 538.1,395.5 536.53,396.02 534.8,395.9 533.18,395.96 531.54,395.84 530,396.5 528.32,396.72 526.76,395.9 525.1,395.9 523.57,396.26 522.4,397.2 521.47,398.55 520,399 518.28,399.1 516.6,399.5 515.51,400.27 514.34,400.87 513.22,401.57 511.79,401.57 510.42,401.7 509.57,403.05 508.36,403.53 507,403.7 505.54,404.27 504.15,405.09 502.51,405.09 501,405.5 499.53,405.66 498.21,406.34 496.8,406.7 497.4,408.6 499.08,408.58 500.62,409.04 502,410 503.35,410.08 504.44,410.98 505.61,411.65 507,411.6" fill="none" stroke="#000" stroke-width="1.65" stroke-linejoin="round"/>
<polyline points="571.5,346.4 571.22,344.55 570.9,342.7 572.03,341.7 573.03,340.59 573.28,338.97 574.57,338.07 575.37,336.83 576.19,335.6 576.9,334.3 578.7,333.87 580.5,334.3 581.51,333.23 582.91,332.99 584.2,332.5 585.52,332.77 586.84,332.23 588.16,332.5 589.48,332.3 590.8,332.88 592.12,332.99 593.44,332.39 594.76,333.05 596.08,332.02 597.4,332.5 598.86,333.17 600.38,333.57 602,333.5" fill="none" stroke="#000" stroke-width="1.65" stroke-linejoin="round"/>
<polyline points="527.6,344.2 528.25,346.05 528.2,348 527.73,349.29 527.78,350.71 527.62,352.07 527.01,353.34 526.71,354.67 526.4,356 526.06,357.47 525.72,358.93 525.57,360.44 525.22,361.9 524.6,363.3 524.64,365.18 525.1,367 525.88,368.74 526.3,370.6 526.99,372.08 527.73,373.52 528.51,374.94 529.7,376.1 528.96,377.29 529.47,378.73 529.21,380.01 528.42,381.19 528.33,382.51 528.48,383.88 527.9,385.1 527.24,386.25 526.57,387.4 526.13,388.64 526,390 526.08,391.52 525.77,392.98 525.86,394.51 525.1,395.9" fill="none" stroke="#000" stroke-width="1.65" stroke-linejoin="round"/>
<polyline points="566.1,405.5 567.75,405.29 569.38,405 570.9,404.3 572.17,404.62 573.45,404.91 574.75,405.09 576,405.5 577.56,405.88 578.97,404.94 580.5,405 582.4,404.87 584.2,405.5 584.86,407.07 585.26,408.7 585.4,410.4 585.98,411.95 586.45,413.54 586.6,415.2" fill="none" stroke="#000" stroke-width="1.65" stroke-linejoin="round"/>
<polyline points="624.5,364.5 623.9,365.8 622.93,366.81 622.92,368.31 622.42,369.56 621.5,370.6 620.36,371.73 620.47,373.56 619.28,374.67 618.5,376 617.79,377.4 617.09,378.8 616.6,380.3 616.21,381.78 614.85,382.6 614.2,383.9 613.4,385.1 612.19,386.03 611.8,387.5 611.12,389.41 609.4,390.5 607.82,390.89 607,392.3 606.92,393.71 605.59,394.6 605.5,396 604.6,398.3 603.39,399.79 602.2,401.3" fill="none" stroke="#000" stroke-width="2.3" stroke-linejoin="round"/>
<path d="M603.5 391.5 Q605 389 608 389.5 Q611 390 610.5 392.5 Q609.5 395.5 607 396 Q604.5 396 603.5 394 Z" fill="#000"/>
<path d="M611.5 386.5 Q612.5 383 615 382.3 Q617 382.8 616.5 385 Q615.5 387.5 613 387.8 Z" fill="#000"/>
<path d="M617.2 374 L618.5 370.5 L620.5 370 L619.5 373.5 Z" fill="#000"/>
<g fill="#000"><circle cx="617.6" cy="420.5" r="0.5"/><circle cx="618.3" cy="424.6" r="0.6"/><circle cx="621.5" cy="399.3" r="0.4"/><circle cx="632.6" cy="397.9" r="0.4"/></g>
<path d="M603 414 q1 -1.5 2.5 -0.5 q-1 1.2 0.5 2.2 q-1.5 1 -3 -0.3" fill="none" stroke="#666" stroke-width="0.5"/>
<polyline points="88.6,139.7 88.6,169.8 375.5,264" fill="none" stroke="#1a1a1a" stroke-width="1.05" stroke-dasharray="5,2,1.2,2"/>
<polyline points="326.3,142.1 326.3,161 538.2,292.2" fill="none" stroke="#1a1a1a" stroke-width="1.05" stroke-dasharray="5,2,1.2,2"/>
<polyline points="578.8,143.2 578.8,300.9 557,322" fill="none" stroke="#1a1a1a" stroke-width="1.05" stroke-dasharray="5,2,1.2,2"/>
<polyline points="815.3,143.7 815.3,162.1 648.4,249.5" fill="none" stroke="#1a1a1a" stroke-width="1.05" stroke-dasharray="5,2,1.2,2"/>
<polyline points="165.3,275.3 249.5,349.5 396.5,349.5" fill="none" stroke="#1a1a1a" stroke-width="1.05" stroke-dasharray="5,2,1.2,2"/>
<polyline points="821,341 821,363.8 599.5,364.1" fill="none" stroke="#1a1a1a" stroke-width="1.05" stroke-dasharray="5,2,1.2,2"/>
<polyline points="165.3,393.7 252.1,374.6 478,374.6" fill="none" stroke="#1a1a1a" stroke-width="1.05" stroke-dasharray="5,2,1.2,2"/>
<polyline points="412.1,462.8 455.6,462.6 501,418.2" fill="none" stroke="#1a1a1a" stroke-width="1.05" stroke-dasharray="5,2,1.2,2"/>
<polyline points="719.6,464.2 606.5,463.8 554.5,429.7" fill="none" stroke="#1a1a1a" stroke-width="1.05" stroke-dasharray="5,2,1.2,2"/>
<g fill="#22d3ff"><circle cx="327.4" cy="260.3" r="2.6"/><circle cx="328.3" cy="273.1" r="2.6"/><circle cx="362.4" cy="242.4" r="2.6"/><circle cx="361.1" cy="247.3" r="2.6"/><circle cx="373.7" cy="244.6" r="2.6"/><circle cx="388.1" cy="245.9" r="2.6"/><circle cx="394.5" cy="247.9" r="2.6"/><circle cx="395.7" cy="257.2" r="2.6"/><circle cx="413.8" cy="269.9" r="2.6"/><circle cx="442.3" cy="282.8" r="2.6"/><circle cx="549.4" cy="269.5" r="2.6"/><circle cx="565.3" cy="262.6" r="2.6"/><circle cx="571.1" cy="266.8" r="2.6"/><circle cx="579.4" cy="267.5" r="2.6"/><circle cx="585.5" cy="256.3" r="2.6"/><circle cx="589.1" cy="263.2" r="2.6"/><circle cx="582.1" cy="280.1" r="2.6"/><circle cx="557.5" cy="288.3" r="2.6"/><circle cx="633.8" cy="229.6" r="2.6"/><circle cx="660.7" cy="222.4" r="2.6"/><circle cx="660" cy="228" r="2.6"/><circle cx="594.5" cy="237.4" r="2.6"/><circle cx="626.4" cy="238.3" r="2.6"/><circle cx="639.1" cy="239.7" r="2.6"/><circle cx="654" cy="236.5" r="2.6"/><circle cx="615.8" cy="248.2" r="2.6"/><circle cx="657.1" cy="242.8" r="2.6"/><circle cx="671.2" cy="240.1" r="2.6"/><circle cx="693.2" cy="243.7" r="2.6"/><circle cx="664.5" cy="245.9" r="2.6"/><circle cx="657.1" cy="248.2" r="2.6"/><circle cx="645.6" cy="249.7" r="2.6"/><circle cx="681.1" cy="247" r="2.6"/><circle cx="675.7" cy="250.6" r="2.6"/><circle cx="669.7" cy="253.1" r="2.6"/><circle cx="694.6" cy="250.6" r="2.6"/><circle cx="700.4" cy="254.5" r="2.6"/><circle cx="655.8" cy="254.5" r="2.6"/><circle cx="664.3" cy="258.5" r="2.6"/><circle cx="685.6" cy="258.1" r="2.6"/><circle cx="650.1" cy="260.3" r="2.6"/><circle cx="676.2" cy="263.2" r="2.6"/><circle cx="659.4" cy="269" r="2.6"/><circle cx="665.8" cy="271.7" r="2.6"/><circle cx="666.7" cy="277.6" r="2.6"/><circle cx="661.2" cy="281.2" r="2.6"/><circle cx="666.1" cy="285.2" r="2.6"/><circle cx="320.5" cy="349.3" r="2.6"/><circle cx="352.1" cy="352.3" r="2.6"/><circle cx="419" cy="354.1" r="2.6"/><circle cx="385.4" cy="383.9" r="2.6"/><circle cx="406.2" cy="382.1" r="2.6"/><circle cx="465.5" cy="309.1" r="2.6"/><circle cx="475.5" cy="314.5" r="2.6"/><circle cx="484.4" cy="316" r="2.6"/><circle cx="499.6" cy="329.3" r="2.6"/><circle cx="484.4" cy="331.9" r="2.6"/><circle cx="442" cy="346.1" r="2.6"/><circle cx="431" cy="347" r="2.6"/><circle cx="438.4" cy="351.2" r="2.6"/><circle cx="469.1" cy="346.6" r="2.6"/><circle cx="474.3" cy="343" r="2.6"/><circle cx="485.4" cy="342.1" r="2.6"/><circle cx="466.1" cy="351.2" r="2.6"/><circle cx="552.9" cy="295.8" r="2.6"/><circle cx="431.8" cy="358" r="2.6"/><circle cx="448.1" cy="370" r="2.6"/><circle cx="465.5" cy="367.6" r="2.6"/><circle cx="486.8" cy="371.2" r="2.6"/><circle cx="465.5" cy="374.3" r="2.6"/></g>
<g fill="#8cf7be"><circle cx="329.9" cy="267.5" r="2.6"/><circle cx="341.8" cy="247.3" r="2.6"/><circle cx="346.3" cy="253.1" r="2.6"/><circle cx="354.8" cy="255.1" r="2.6"/><circle cx="340.9" cy="262.3" r="2.6"/><circle cx="353.3" cy="263.5" r="2.6"/><circle cx="366.1" cy="237.9" r="2.6"/><circle cx="374.3" cy="266.2" r="2.6"/><circle cx="375" cy="269" r="2.6"/><circle cx="379.7" cy="271.7" r="2.6"/><circle cx="388.5" cy="266.8" r="2.6"/><circle cx="425.1" cy="284.3" r="2.6"/><circle cx="509.4" cy="285.5" r="2.6"/><circle cx="631.8" cy="249.7" r="2.6"/><circle cx="627.3" cy="255.4" r="2.6"/><circle cx="636" cy="259.6" r="2.6"/><circle cx="642.3" cy="259" r="2.6"/><circle cx="629.3" cy="261.7" r="2.6"/><circle cx="644.5" cy="268.1" r="2.6"/><circle cx="632.9" cy="270.8" r="2.6"/><circle cx="623.4" cy="269.9" r="2.6"/><circle cx="616.2" cy="269.9" r="2.6"/><circle cx="593.2" cy="269.5" r="2.6"/><circle cx="675.3" cy="275.3" r="2.6"/><circle cx="638.3" cy="272.9" r="2.6"/><circle cx="636.5" cy="278.3" r="2.6"/><circle cx="647.4" cy="277.6" r="2.6"/><circle cx="642" cy="280.7" r="2.6"/><circle cx="633.3" cy="283" r="2.6"/><circle cx="631.1" cy="285.5" r="2.6"/><circle cx="649.5" cy="283.4" r="2.6"/><circle cx="657.1" cy="283" r="2.6"/><circle cx="612.5" cy="278.9" r="2.6"/><circle cx="610.2" cy="284.3" r="2.6"/><circle cx="604.8" cy="286.1" r="2.6"/><circle cx="615.3" cy="288.8" r="2.6"/><circle cx="651" cy="287.9" r="2.6"/><circle cx="641.4" cy="290.7" r="2.6"/><circle cx="423" cy="369.8" r="2.6"/><circle cx="433" cy="292.4" r="2.6"/><circle cx="442" cy="294" r="2.6"/><circle cx="452.6" cy="297.3" r="2.6"/><circle cx="462.3" cy="300.4" r="2.6"/><circle cx="466.7" cy="302.8" r="2.6"/><circle cx="470.9" cy="304.2" r="2.6"/><circle cx="475.7" cy="301.2" r="2.6"/><circle cx="477.9" cy="308.8" r="2.6"/><circle cx="482.3" cy="310.3" r="2.6"/><circle cx="485.6" cy="305.4" r="2.6"/><circle cx="476.1" cy="319.6" r="2.6"/><circle cx="492.6" cy="316" r="2.6"/><circle cx="504" cy="304.2" r="2.6"/><circle cx="508.5" cy="306.4" r="2.6"/><circle cx="486.6" cy="327.1" r="2.6"/><circle cx="493.2" cy="325.3" r="2.6"/><circle cx="491.4" cy="329.3" r="2.6"/><circle cx="492.3" cy="335.8" r="2.6"/><circle cx="508.5" cy="324.5" r="2.6"/><circle cx="511.8" cy="327.7" r="2.6"/><circle cx="515.7" cy="320.1" r="2.6"/><circle cx="518.4" cy="326.1" r="2.6"/><circle cx="522.4" cy="318.1" r="2.6"/><circle cx="454.1" cy="354.2" r="2.6"/><circle cx="535.4" cy="297" r="2.6"/><circle cx="543.5" cy="300.4" r="2.6"/><circle cx="548.3" cy="303.6" r="2.6"/><circle cx="533.6" cy="308.4" r="2.6"/><circle cx="542" cy="319.6" r="2.6"/><circle cx="531.8" cy="325.9" r="2.6"/><circle cx="536" cy="335.5" r="2.6"/><circle cx="586.6" cy="322.9" r="2.6"/><circle cx="612.4" cy="292.2" r="2.6"/><circle cx="622.5" cy="294.8" r="2.6"/><circle cx="621.6" cy="298.5" r="2.6"/><circle cx="628.2" cy="297.7" r="2.6"/><circle cx="638.1" cy="295.5" r="2.6"/><circle cx="433.4" cy="368.8" r="2.6"/><circle cx="477.9" cy="367.3" r="2.6"/><circle cx="474.5" cy="375.5" r="2.6"/><circle cx="455.9" cy="378.5" r="2.6"/><circle cx="461.5" cy="383.3" r="2.6"/><circle cx="593.8" cy="366.4" r="2.6"/></g>
<g fill="#3a76ff"><circle cx="287.2" cy="291.5" r="2.6"/><circle cx="588.4" cy="227.1" r="2.6"/><circle cx="641.4" cy="207.3" r="2.6"/><circle cx="638.3" cy="212.1" r="2.6"/><circle cx="654.6" cy="211.6" r="2.6"/><circle cx="608.6" cy="222.4" r="2.6"/><circle cx="619.2" cy="220.6" r="2.6"/><circle cx="636.5" cy="221.2" r="2.6"/><circle cx="605.3" cy="229.3" r="2.6"/><circle cx="621" cy="232.9" r="2.6"/><circle cx="606.6" cy="244.6" r="2.6"/><circle cx="399.5" cy="350.9" r="2.6"/><circle cx="392.1" cy="357.7" r="2.6"/><circle cx="406.7" cy="357.4" r="2.6"/><circle cx="415.4" cy="363.2" r="2.6"/><circle cx="452.3" cy="304.5" r="2.6"/><circle cx="460.4" cy="307.2" r="2.6"/><circle cx="475.5" cy="333.4" r="2.6"/><circle cx="450.8" cy="332.2" r="2.6"/><circle cx="433.4" cy="337.9" r="2.6"/><circle cx="443" cy="340.1" r="2.6"/><circle cx="461" cy="340.7" r="2.6"/><circle cx="560.7" cy="303.3" r="2.6"/></g>
<g fill="#d9fb55"><circle cx="628.8" cy="287.9" r="2.6"/><circle cx="499.2" cy="343.3" r="2.6"/><circle cx="507.6" cy="343.7" r="2.6"/><circle cx="514.2" cy="345.8" r="2.6"/><circle cx="521.2" cy="342.1" r="2.6"/><circle cx="522.7" cy="337" r="2.6"/><circle cx="528.1" cy="342.7" r="2.6"/><circle cx="537" cy="313.6" r="2.6"/><circle cx="531.8" cy="319.9" r="2.6"/><circle cx="546.2" cy="324.5" r="2.6"/><circle cx="552.3" cy="328.3" r="2.6"/><circle cx="552.9" cy="333.1" r="2.6"/><circle cx="544.2" cy="333.1" r="2.6"/><circle cx="542" cy="338.5" r="2.6"/><circle cx="535.1" cy="339.7" r="2.6"/><circle cx="546.8" cy="340.1" r="2.6"/><circle cx="557.4" cy="340.1" r="2.6"/><circle cx="563.1" cy="329.5" r="2.6"/><circle cx="561.9" cy="333.4" r="2.6"/><circle cx="566.1" cy="333.7" r="2.6"/><circle cx="567.1" cy="324.5" r="2.6"/><circle cx="563.7" cy="338.5" r="2.6"/><circle cx="568.3" cy="340.3" r="2.6"/><circle cx="576" cy="335.8" r="2.6"/><circle cx="580.5" cy="336.5" r="2.6"/><circle cx="586.6" cy="336.7" r="2.6"/><circle cx="541.1" cy="352.6" r="2.6"/><circle cx="590.8" cy="302.4" r="2.6"/><circle cx="589.2" cy="313.9" r="2.6"/><circle cx="586.3" cy="319.9" r="2.6"/><circle cx="601.2" cy="319.3" r="2.6"/><circle cx="609.4" cy="313.3" r="2.6"/><circle cx="612.8" cy="310.3" r="2.6"/><circle cx="619" cy="303.6" r="2.6"/><circle cx="622.4" cy="313.9" r="2.6"/><circle cx="626.3" cy="314.5" r="2.6"/><circle cx="615.7" cy="318.9" r="2.6"/><circle cx="609.4" cy="324.5" r="2.6"/><circle cx="603.6" cy="328.5" r="2.6"/><circle cx="601" cy="333.1" r="2.6"/><circle cx="608.8" cy="340.3" r="2.6"/><circle cx="609.4" cy="347" r="2.6"/><circle cx="480.5" cy="360.4" r="2.6"/><circle cx="453.8" cy="383.6" r="2.6"/><circle cx="458.6" cy="387.7" r="2.6"/><circle cx="465.3" cy="390.3" r="2.6"/><circle cx="472.7" cy="382.4" r="2.6"/><circle cx="474.8" cy="386" r="2.6"/><circle cx="481.7" cy="377.3" r="2.6"/><circle cx="484.4" cy="382.1" r="2.6"/><circle cx="489.3" cy="380.3" r="2.6"/><circle cx="490.4" cy="386.5" r="2.6"/><circle cx="508.5" cy="379.7" r="2.6"/><circle cx="513" cy="380.5" r="2.6"/><circle cx="501.6" cy="386.9" r="2.6"/><circle cx="507" cy="388.7" r="2.6"/><circle cx="506" cy="394.5" r="2.6"/><circle cx="491.1" cy="399.3" r="2.6"/><circle cx="540.2" cy="366.1" r="2.6"/><circle cx="554.7" cy="386.5" r="2.6"/><circle cx="593.5" cy="398.3" r="2.6"/></g>
<g fill="#0000ee"><circle cx="413.9" cy="330.1" r="2.6"/></g>
<g fill="#ffdc00"><circle cx="505.6" cy="350.2" r="2.6"/><circle cx="513" cy="353.6" r="2.6"/><circle cx="528.7" cy="348.5" r="2.6"/><circle cx="546.2" cy="343.7" r="2.6"/><circle cx="553.8" cy="346.1" r="2.6"/><circle cx="564.3" cy="346.1" r="2.6"/><circle cx="576.7" cy="340.1" r="2.6"/><circle cx="585.6" cy="341.5" r="2.6"/><circle cx="584.4" cy="349.4" r="2.6"/><circle cx="575.7" cy="351.8" r="2.6"/><circle cx="564.3" cy="352.1" r="2.6"/><circle cx="603.2" cy="347.6" r="2.6"/><circle cx="595" cy="350.6" r="2.6"/><circle cx="607" cy="353.3" r="2.6"/><circle cx="598.4" cy="353.5" r="2.6"/><circle cx="613.5" cy="353.2" r="2.6"/><circle cx="618.9" cy="352.9" r="2.6"/><circle cx="489.9" cy="360.4" r="2.6"/><circle cx="485.4" cy="368" r="2.6"/><circle cx="490.5" cy="370.6" r="2.6"/><circle cx="480" cy="382.9" r="2.6"/><circle cx="496.4" cy="376.3" r="2.6"/><circle cx="497.4" cy="357.4" r="2.6"/><circle cx="506.1" cy="356.4" r="2.6"/><circle cx="503.6" cy="364" r="2.6"/><circle cx="507" cy="362.2" r="2.6"/><circle cx="509.7" cy="370.6" r="2.6"/><circle cx="517.2" cy="358.9" r="2.6"/><circle cx="519.7" cy="363.2" r="2.6"/><circle cx="524.5" cy="362.5" r="2.6"/><circle cx="530.3" cy="360.1" r="2.6"/><circle cx="526.3" cy="376.1" r="2.6"/><circle cx="502.6" cy="380.5" r="2.6"/><circle cx="513" cy="383.9" r="2.6"/><circle cx="517.2" cy="383.9" r="2.6"/><circle cx="530.3" cy="384.5" r="2.6"/><circle cx="511.8" cy="392.5" r="2.6"/><circle cx="520.9" cy="392.1" r="2.6"/><circle cx="525.7" cy="389.7" r="2.6"/><circle cx="480" cy="391.7" r="2.6"/><circle cx="465.1" cy="398.3" r="2.6"/><circle cx="452.6" cy="403.5" r="2.6"/><circle cx="457.9" cy="402.9" r="2.6"/><circle cx="474.8" cy="403.4" r="2.6"/><circle cx="469.7" cy="407.3" r="2.6"/><circle cx="482" cy="408.2" r="2.6"/><circle cx="490.8" cy="407" r="2.6"/><circle cx="501" cy="400.5" r="2.6"/><circle cx="507.4" cy="401.9" r="2.6"/><circle cx="512.4" cy="400.1" r="2.6"/><circle cx="517.8" cy="397.7" r="2.6"/><circle cx="499.8" cy="410.1" r="2.6"/><circle cx="514.2" cy="406.7" r="2.6"/><circle cx="464.3" cy="411.6" r="2.6"/><circle cx="487.8" cy="414.9" r="2.6"/><circle cx="504.6" cy="414.6" r="2.6"/><circle cx="538.2" cy="360.1" r="2.6"/><circle cx="544.4" cy="362.5" r="2.6"/><circle cx="554.1" cy="359.2" r="2.6"/><circle cx="558.3" cy="363.2" r="2.6"/><circle cx="551.1" cy="365.2" r="2.6"/><circle cx="564.9" cy="363.2" r="2.6"/><circle cx="571.5" cy="359.2" r="2.6"/><circle cx="576" cy="362.5" r="2.6"/><circle cx="571.5" cy="366.1" r="2.6"/><circle cx="563.7" cy="367.6" r="2.6"/><circle cx="580.5" cy="357.6" r="2.6"/><circle cx="587.8" cy="355.6" r="2.6"/><circle cx="592" cy="356.4" r="2.6"/><circle cx="586" cy="364" r="2.6"/><circle cx="531.8" cy="366.4" r="2.6"/><circle cx="531.2" cy="370.6" r="2.6"/><circle cx="537" cy="371.8" r="2.6"/><circle cx="545" cy="370" r="2.6"/><circle cx="547.4" cy="374" r="2.6"/><circle cx="552.3" cy="372.1" r="2.6"/><circle cx="552.6" cy="376.4" r="2.6"/><circle cx="557.7" cy="372.1" r="2.6"/><circle cx="533.6" cy="379.7" r="2.6"/><circle cx="538.4" cy="378.5" r="2.6"/><circle cx="544.4" cy="379.7" r="2.6"/><circle cx="545.9" cy="387.5" r="2.6"/><circle cx="550.7" cy="385.7" r="2.6"/><circle cx="554.1" cy="390.1" r="2.6"/><circle cx="540.2" cy="391.1" r="2.6"/><circle cx="533.6" cy="395.3" r="2.6"/><circle cx="546.8" cy="394.7" r="2.6"/><circle cx="547.1" cy="399.8" r="2.6"/><circle cx="557.4" cy="397.7" r="2.6"/><circle cx="537.5" cy="401.3" r="2.6"/><circle cx="531.2" cy="401.9" r="2.6"/><circle cx="552.6" cy="405" r="2.6"/><circle cx="566.1" cy="402.5" r="2.6"/><circle cx="566.7" cy="383.3" r="2.6"/><circle cx="567.9" cy="394.1" r="2.6"/><circle cx="539.6" cy="409.2" r="2.6"/><circle cx="605.6" cy="399.8" r="2.6"/><circle cx="581.1" cy="397.1" r="2.6"/><circle cx="588.1" cy="396.5" r="2.6"/><circle cx="586" cy="389.3" r="2.6"/><circle cx="589" cy="386.9" r="2.6"/><circle cx="593.8" cy="391.1" r="2.6"/><circle cx="595.6" cy="388.1" r="2.6"/><circle cx="599.8" cy="389.9" r="2.6"/><circle cx="583" cy="385.1" r="2.6"/><circle cx="593.8" cy="377.3" r="2.6"/><circle cx="596.8" cy="382.7" r="2.6"/><circle cx="599.6" cy="374.9" r="2.6"/><circle cx="604.6" cy="374.3" r="2.6"/><circle cx="606.4" cy="379.1" r="2.6"/><circle cx="608.5" cy="386.5" r="2.6"/><circle cx="594.7" cy="369.7" r="2.6"/><circle cx="603.6" cy="357.4" r="2.6"/><circle cx="610.4" cy="359.8" r="2.6"/><circle cx="608.2" cy="366.1" r="2.6"/><circle cx="613" cy="370" r="2.6"/><circle cx="616.6" cy="366.4" r="2.6"/><circle cx="621.5" cy="367" r="2.6"/><circle cx="619.7" cy="373.7" r="2.6"/><circle cx="617.2" cy="377.9" r="2.6"/><circle cx="620.9" cy="379.1" r="2.6"/><circle cx="615.7" cy="381.5" r="2.6"/><circle cx="625.1" cy="361.6" r="2.6"/><circle cx="614.2" cy="355.6" r="2.6"/><circle cx="470.7" cy="419.7" r="2.6"/><circle cx="476.9" cy="420.6" r="2.6"/><circle cx="509.4" cy="417" r="2.6"/></g>
<g fill="#ff8400"><circle cx="476.9" cy="398.3" r="2.6"/><circle cx="521.5" cy="405.5" r="2.6"/><circle cx="521.5" cy="411" r="2.6"/><circle cx="510.9" cy="411.3" r="2.6"/><circle cx="448.3" cy="410.6" r="2.6"/><circle cx="477.9" cy="413.7" r="2.6"/><circle cx="546.8" cy="408" r="2.6"/><circle cx="531.6" cy="407.8" r="2.6"/><circle cx="536" cy="414.6" r="2.6"/><circle cx="544.4" cy="414.6" r="2.6"/><circle cx="552.9" cy="414" r="2.6"/><circle cx="560.7" cy="411.6" r="2.6"/><circle cx="559.5" cy="415.8" r="2.6"/><circle cx="567.3" cy="408" r="2.6"/><circle cx="576.3" cy="411" r="2.6"/><circle cx="579.3" cy="408" r="2.6"/><circle cx="581.5" cy="403.1" r="2.6"/><circle cx="583" cy="415.2" r="2.6"/><circle cx="589" cy="411.6" r="2.6"/><circle cx="590.2" cy="407.3" r="2.6"/><circle cx="593.8" cy="406.7" r="2.6"/><circle cx="599.6" cy="403.7" r="2.6"/><circle cx="602" cy="395.9" r="2.6"/><circle cx="474.5" cy="428.8" r="2.6"/><circle cx="513" cy="422.8" r="2.6"/><circle cx="520.5" cy="428.5" r="2.6"/><circle cx="525.7" cy="425.5" r="2.6"/><circle cx="528.7" cy="421.8" r="2.6"/><circle cx="528.1" cy="431.5" r="2.6"/><circle cx="530.2" cy="412.3" r="2.6"/><circle cx="536.7" cy="420" r="2.6"/><circle cx="542.3" cy="422.8" r="2.6"/><circle cx="546.7" cy="419.4" r="2.6"/><circle cx="552.7" cy="417.6" r="2.6"/><circle cx="559.3" cy="416.8" r="2.6"/><circle cx="563" cy="415.6" r="2.6"/><circle cx="567.5" cy="417" r="2.6"/><circle cx="564.2" cy="421.2" r="2.6"/><circle cx="555.7" cy="423.7" r="2.6"/><circle cx="549.7" cy="426.7" r="2.6"/><circle cx="555.1" cy="426.7" r="2.6"/><circle cx="537.4" cy="431.2" r="2.6"/><circle cx="537" cy="438" r="2.6"/><circle cx="532.9" cy="443.3" r="2.6"/><circle cx="538.9" cy="445" r="2.6"/><circle cx="535.3" cy="445.9" r="2.6"/><circle cx="573.8" cy="419.4" r="2.6"/><circle cx="581" cy="417" r="2.6"/></g>
<g fill="#f50000"><circle cx="525.3" cy="445.9" r="2.6"/><circle cx="535.5" cy="450.5" r="2.6"/></g>
<text x="454.5" y="516.2" font-family="'Liberation Serif', serif" font-weight="bold" font-size="11.6" fill="#000">Temperature / </text>
<text x="528.6" y="516" font-family="'Liberation Sans', sans-serif" font-size="10" fill="#000">°</text><text transform="translate(532.1 516.3) scale(0.78 1)" font-family="'Liberation Sans', sans-serif" font-size="11.6" fill="#000">C</text>
<rect x="547.2" y="508" width="17.55" height="8.2" fill="#0000ff" stroke="#888" stroke-width="0.35"/>
<rect x="564.75" y="508" width="17.55" height="8.2" fill="#3a78ff" stroke="#888" stroke-width="0.35"/>
<rect x="582.3" y="508" width="17.55" height="8.2" fill="#22d4ff" stroke="#888" stroke-width="0.35"/>
<rect x="599.85" y="508" width="17.55" height="8.2" fill="#8cffc0" stroke="#888" stroke-width="0.35"/>
<rect x="617.4" y="508" width="17.55" height="8.2" fill="#d8ff50" stroke="#888" stroke-width="0.35"/>
<rect x="634.95" y="508" width="17.55" height="8.2" fill="#ffe000" stroke="#888" stroke-width="0.35"/>
<rect x="652.5" y="508" width="17.55" height="8.2" fill="#ff8000" stroke="#888" stroke-width="0.35"/>
<rect x="670.05" y="508" width="17.55" height="8.2" fill="#ff0000" stroke="#888" stroke-width="0.35"/>
<g font-family="'Liberation Sans', sans-serif" font-size="6.4" fill="#111" text-anchor="middle"><text x="548.1" y="525.8">-10</text><text x="565.65" y="525.8">-5</text><text x="583.2" y="525.8">0</text><text x="600.75" y="525.8">5</text><text x="618.3" y="525.8">10</text><text x="635.85" y="525.8">15</text><text x="653.4" y="525.8">20</text><text x="670.95" y="525.8">25</text><text x="688.5" y="525.8">30</text></g>
<rect x="21" y="3.3" width="135.82" height="98.2" fill="#c4c4c4"/>
<rect x="21.6" y="99.54" width="3.94" height="1.96" fill="#003800" stroke="#7a7a7a" stroke-width="0.3" stroke-opacity="0.6"/>
<rect x="21.6" y="88.73" width="3.94" height="10.8" fill="#00ee00" stroke="#7a7a7a" stroke-width="0.3" stroke-opacity="0.6"/>
<rect x="21.6" y="41.6" width="3.94" height="47.14" fill="#bdf5c3" stroke="#7a7a7a" stroke-width="0.3" stroke-opacity="0.6"/>
<rect x="21.6" y="7.72" width="3.94" height="33.88" fill="#fffa87" stroke="#7a7a7a" stroke-width="0.3" stroke-opacity="0.6"/>
<rect x="21.6" y="3.3" width="3.94" height="4.42" fill="#ff8000" stroke="#7a7a7a" stroke-width="0.3" stroke-opacity="0.6"/>
<rect x="26.44" y="99.54" width="3.94" height="1.96" fill="#003800" stroke="#7a7a7a" stroke-width="0.3" stroke-opacity="0.6"/>
<rect x="26.44" y="54.36" width="3.94" height="45.17" fill="#00ee00" stroke="#7a7a7a" stroke-width="0.3" stroke-opacity="0.6"/>
<rect x="26.44" y="7.72" width="3.94" height="46.64" fill="#bdf5c3" stroke="#7a7a7a" stroke-width="0.3" stroke-opacity="0.6"/>
<rect x="26.44" y="3.3" width="3.94" height="4.42" fill="#fffa87" stroke="#7a7a7a" stroke-width="0.3" stroke-opacity="0.6"/>
<rect x="31.28" y="88.24" width="3.94" height="13.26" fill="#003800" stroke="#7a7a7a" stroke-width="0.3" stroke-opacity="0.6"/>
<rect x="31.28" y="30.31" width="3.94" height="57.94" fill="#00ee00" stroke="#7a7a7a" stroke-width="0.3" stroke-opacity="0.6"/>
<rect x="31.28" y="5.75" width="3.94" height="24.55" fill="#bdf5c3" stroke="#7a7a7a" stroke-width="0.3" stroke-opacity="0.6"/>
<rect x="31.28" y="3.3" width="3.94" height="2.45" fill="#ff8000" stroke="#7a7a7a" stroke-width="0.3" stroke-opacity="0.6"/>
<rect x="36.12" y="47.98" width="3.94" height="53.52" fill="#00ee00" stroke="#7a7a7a" stroke-width="0.3" stroke-opacity="0.6"/>
<rect x="36.12" y="5.75" width="3.94" height="42.23" fill="#bdf5c3" stroke="#7a7a7a" stroke-width="0.3" stroke-opacity="0.6"/>
<rect x="36.12" y="3.3" width="3.94" height="2.45" fill="#fffa87" stroke="#7a7a7a" stroke-width="0.3" stroke-opacity="0.6"/>
<rect x="40.96" y="70.08" width="3.94" height="31.42" fill="#00ee00" stroke="#7a7a7a" stroke-width="0.3" stroke-opacity="0.6"/>
<rect x="40.96" y="7.72" width="3.94" height="62.36" fill="#bdf5c3" stroke="#7a7a7a" stroke-width="0.3" stroke-opacity="0.6"/>
<rect x="40.96" y="3.3" width="3.94" height="4.42" fill="#fffa87" stroke="#7a7a7a" stroke-width="0.3" stroke-opacity="0.6"/>
<rect x="45.8" y="61.24" width="3.94" height="40.26" fill="#00ee00" stroke="#7a7a7a" stroke-width="0.3" stroke-opacity="0.6"/>
<rect x="45.8" y="14.59" width="3.94" height="46.64" fill="#bdf5c3" stroke="#7a7a7a" stroke-width="0.3" stroke-opacity="0.6"/>
<rect x="45.8" y="3.3" width="3.94" height="11.29" fill="#fffa87" stroke="#7a7a7a" stroke-width="0.3" stroke-opacity="0.6"/>
<rect x="50.64" y="74.99" width="3.94" height="26.51" fill="#00ee00" stroke="#7a7a7a" stroke-width="0.3" stroke-opacity="0.6"/>
<rect x="50.64" y="7.72" width="3.94" height="67.27" fill="#bdf5c3" stroke="#7a7a7a" stroke-width="0.3" stroke-opacity="0.6"/>
<rect x="50.64" y="3.3" width="3.94" height="4.42" fill="#fffa87" stroke="#7a7a7a" stroke-width="0.3" stroke-opacity="0.6"/>
<rect x="55.48" y="90.21" width="3.94" height="11.29" fill="#00ee00" stroke="#7a7a7a" stroke-width="0.3" stroke-opacity="0.6"/>
<rect x="55.48" y="25.89" width="3.94" height="64.32" fill="#bdf5c3" stroke="#7a7a7a" stroke-width="0.3" stroke-opacity="0.6"/>
<rect x="55.48" y="3.3" width="3.94" height="22.59" fill="#fffa87" stroke="#7a7a7a" stroke-width="0.3" stroke-opacity="0.6"/>
<rect x="60.32" y="65.66" width="3.94" height="35.84" fill="#bdf5c3" stroke="#7a7a7a" stroke-width="0.3" stroke-opacity="0.6"/>
<rect x="60.32" y="7.72" width="3.94" height="57.94" fill="#fffa87" stroke="#7a7a7a" stroke-width="0.3" stroke-opacity="0.6"/>
<rect x="60.32" y="3.3" width="3.94" height="4.42" fill="#ff8000" stroke="#7a7a7a" stroke-width="0.3" stroke-opacity="0.6"/>
<rect x="65.16" y="56.33" width="3.94" height="45.17" fill="#bdf5c3" stroke="#7a7a7a" stroke-width="0.3" stroke-opacity="0.6"/>
<rect x="65.16" y="14.59" width="3.94" height="41.73" fill="#fffa87" stroke="#7a7a7a" stroke-width="0.3" stroke-opacity="0.6"/>
<rect x="65.16" y="3.3" width="3.94" height="11.29" fill="#ff8000" stroke="#7a7a7a" stroke-width="0.3" stroke-opacity="0.6"/>
<rect x="70" y="77.44" width="3.94" height="24.06" fill="#003800" stroke="#7a7a7a" stroke-width="0.3" stroke-opacity="0.6"/>
<rect x="70" y="14.59" width="3.94" height="62.85" fill="#00ee00" stroke="#7a7a7a" stroke-width="0.3" stroke-opacity="0.6"/>
<rect x="70" y="3.3" width="3.94" height="11.29" fill="#bdf5c3" stroke="#7a7a7a" stroke-width="0.3" stroke-opacity="0.6"/>
<rect x="74.84" y="74.99" width="3.94" height="26.51" fill="#003800" stroke="#7a7a7a" stroke-width="0.3" stroke-opacity="0.6"/>
<rect x="74.84" y="10.17" width="3.94" height="64.81" fill="#00ee00" stroke="#7a7a7a" stroke-width="0.3" stroke-opacity="0.6"/>
<rect x="74.84" y="3.3" width="3.94" height="6.87" fill="#bdf5c3" stroke="#7a7a7a" stroke-width="0.3" stroke-opacity="0.6"/>
<rect x="79.68" y="94.63" width="3.94" height="6.87" fill="#00ee00" stroke="#7a7a7a" stroke-width="0.3" stroke-opacity="0.6"/>
<rect x="79.68" y="45.53" width="3.94" height="49.1" fill="#bdf5c3" stroke="#7a7a7a" stroke-width="0.3" stroke-opacity="0.6"/>
<rect x="79.68" y="5.75" width="3.94" height="39.77" fill="#fffa87" stroke="#7a7a7a" stroke-width="0.3" stroke-opacity="0.6"/>
<rect x="79.68" y="3.3" width="3.94" height="2.45" fill="#ff8000" stroke="#7a7a7a" stroke-width="0.3" stroke-opacity="0.6"/>
<rect x="84.52" y="99.54" width="3.94" height="1.96" fill="#00ee00" stroke="#7a7a7a" stroke-width="0.3" stroke-opacity="0.6"/>
<rect x="84.52" y="52.4" width="3.94" height="47.14" fill="#bdf5c3" stroke="#7a7a7a" stroke-width="0.3" stroke-opacity="0.6"/>
<rect x="84.52" y="3.3" width="3.94" height="49.1" fill="#fffa87" stroke="#7a7a7a" stroke-width="0.3" stroke-opacity="0.6"/>
<rect x="89.36" y="85.98" width="3.94" height="15.52" fill="#00ee00" stroke="#7a7a7a" stroke-width="0.3" stroke-opacity="0.6"/>
<rect x="89.36" y="23.23" width="3.94" height="62.75" fill="#bdf5c3" stroke="#7a7a7a" stroke-width="0.3" stroke-opacity="0.6"/>
<rect x="89.36" y="3.3" width="3.94" height="19.93" fill="#fffa87" stroke="#7a7a7a" stroke-width="0.3" stroke-opacity="0.6"/>
<rect x="94.2" y="88.05" width="3.94" height="13.45" fill="#bdf5c3" stroke="#7a7a7a" stroke-width="0.3" stroke-opacity="0.6"/>
<rect x="94.2" y="43.56" width="3.94" height="44.48" fill="#fffa87" stroke="#7a7a7a" stroke-width="0.3" stroke-opacity="0.6"/>
<rect x="94.2" y="17.05" width="3.94" height="26.51" fill="#ff8000" stroke="#7a7a7a" stroke-width="0.3" stroke-opacity="0.6"/>
<rect x="94.2" y="3.3" width="3.94" height="13.75" fill="#3a0000" stroke="#7a7a7a" stroke-width="0.3" stroke-opacity="0.6"/>
<rect x="99.04" y="96.98" width="3.94" height="4.52" fill="#bdf5c3" stroke="#7a7a7a" stroke-width="0.3" stroke-opacity="0.6"/>
<rect x="99.04" y="50.44" width="3.94" height="46.55" fill="#fffa87" stroke="#7a7a7a" stroke-width="0.3" stroke-opacity="0.6"/>
<rect x="99.04" y="7.82" width="3.94" height="42.62" fill="#ff8000" stroke="#7a7a7a" stroke-width="0.3" stroke-opacity="0.6"/>
<rect x="99.04" y="3.3" width="3.94" height="4.52" fill="#3a0000" stroke="#7a7a7a" stroke-width="0.3" stroke-opacity="0.6"/>
<rect x="103.88" y="99.54" width="3.94" height="1.96" fill="#bdf5c3" stroke="#7a7a7a" stroke-width="0.3" stroke-opacity="0.6"/>
<rect x="103.88" y="38.95" width="3.94" height="60.59" fill="#fffa87" stroke="#7a7a7a" stroke-width="0.3" stroke-opacity="0.6"/>
<rect x="103.88" y="5.75" width="3.94" height="33.19" fill="#ff8000" stroke="#7a7a7a" stroke-width="0.3" stroke-opacity="0.6"/>
<rect x="103.88" y="3.3" width="3.94" height="2.45" fill="#3a0000" stroke="#7a7a7a" stroke-width="0.3" stroke-opacity="0.6"/>
<rect x="108.72" y="81.37" width="3.94" height="20.13" fill="#bdf5c3" stroke="#7a7a7a" stroke-width="0.3" stroke-opacity="0.6"/>
<rect x="108.72" y="12.14" width="3.94" height="69.23" fill="#fffa87" stroke="#7a7a7a" stroke-width="0.3" stroke-opacity="0.6"/>
<rect x="108.72" y="3.3" width="3.94" height="8.84" fill="#ff8000" stroke="#7a7a7a" stroke-width="0.3" stroke-opacity="0.6"/>
<rect x="113.56" y="99.54" width="3.94" height="1.96" fill="#bdf5c3" stroke="#7a7a7a" stroke-width="0.3" stroke-opacity="0.6"/>
<rect x="113.56" y="30.01" width="3.94" height="69.53" fill="#fffa87" stroke="#7a7a7a" stroke-width="0.3" stroke-opacity="0.6"/>
<rect x="113.56" y="3.3" width="3.94" height="26.71" fill="#ff8000" stroke="#7a7a7a" stroke-width="0.3" stroke-opacity="0.6"/>
<rect x="118.4" y="99.54" width="3.94" height="1.96" fill="#bdf5c3" stroke="#7a7a7a" stroke-width="0.3" stroke-opacity="0.6"/>
<rect x="118.4" y="23.43" width="3.94" height="76.11" fill="#fffa87" stroke="#7a7a7a" stroke-width="0.3" stroke-opacity="0.6"/>
<rect x="118.4" y="3.3" width="3.94" height="20.13" fill="#ff8000" stroke="#7a7a7a" stroke-width="0.3" stroke-opacity="0.6"/>
<rect x="123.24" y="50.14" width="3.94" height="51.36" fill="#bdf5c3" stroke="#7a7a7a" stroke-width="0.3" stroke-opacity="0.6"/>
<rect x="123.24" y="3.3" width="3.94" height="46.84" fill="#fffa87" stroke="#7a7a7a" stroke-width="0.3" stroke-opacity="0.6"/>
<rect x="128.08" y="74.59" width="3.94" height="26.91" fill="#bdf5c3" stroke="#7a7a7a" stroke-width="0.3" stroke-opacity="0.6"/>
<rect x="128.08" y="9.98" width="3.94" height="64.62" fill="#fffa87" stroke="#7a7a7a" stroke-width="0.3" stroke-opacity="0.6"/>
<rect x="128.08" y="3.3" width="3.94" height="6.68" fill="#ff8000" stroke="#7a7a7a" stroke-width="0.3" stroke-opacity="0.6"/>
<rect x="132.92" y="99.54" width="3.94" height="1.96" fill="#bdf5c3" stroke="#7a7a7a" stroke-width="0.3" stroke-opacity="0.6"/>
<rect x="132.92" y="47.69" width="3.94" height="51.85" fill="#fffa87" stroke="#7a7a7a" stroke-width="0.3" stroke-opacity="0.6"/>
<rect x="132.92" y="3.3" width="3.94" height="44.39" fill="#ff8000" stroke="#7a7a7a" stroke-width="0.3" stroke-opacity="0.6"/>
<rect x="137.76" y="72.53" width="3.94" height="28.97" fill="#fffa87" stroke="#7a7a7a" stroke-width="0.3" stroke-opacity="0.6"/>
<rect x="137.76" y="25.89" width="3.94" height="46.65" fill="#ff8000" stroke="#7a7a7a" stroke-width="0.3" stroke-opacity="0.6"/>
<rect x="137.76" y="3.3" width="3.94" height="22.59" fill="#3a0000" stroke="#7a7a7a" stroke-width="0.3" stroke-opacity="0.6"/>
<rect x="142.6" y="94.82" width="3.94" height="6.68" fill="#bdf5c3" stroke="#7a7a7a" stroke-width="0.3" stroke-opacity="0.6"/>
<rect x="142.6" y="23.43" width="3.94" height="71.39" fill="#fffa87" stroke="#7a7a7a" stroke-width="0.3" stroke-opacity="0.6"/>
<rect x="142.6" y="3.3" width="3.94" height="20.13" fill="#ff8000" stroke="#7a7a7a" stroke-width="0.3" stroke-opacity="0.6"/>
<rect x="147.44" y="96.98" width="3.94" height="4.52" fill="#bdf5c3" stroke="#7a7a7a" stroke-width="0.3" stroke-opacity="0.6"/>
<rect x="147.44" y="70.47" width="3.94" height="26.51" fill="#fffa87" stroke="#7a7a7a" stroke-width="0.3" stroke-opacity="0.6"/>
<rect x="147.44" y="15.08" width="3.94" height="55.38" fill="#ff8000" stroke="#7a7a7a" stroke-width="0.3" stroke-opacity="0.6"/>
<rect x="147.44" y="3.3" width="3.94" height="11.78" fill="#3a0000" stroke="#7a7a7a" stroke-width="0.3" stroke-opacity="0.6"/>
<rect x="152.28" y="99.54" width="3.94" height="1.96" fill="#00ee00" stroke="#7a7a7a" stroke-width="0.3" stroke-opacity="0.6"/>
<rect x="152.28" y="72.53" width="3.94" height="27" fill="#bdf5c3" stroke="#7a7a7a" stroke-width="0.3" stroke-opacity="0.6"/>
<rect x="152.28" y="21.37" width="3.94" height="51.16" fill="#fffa87" stroke="#7a7a7a" stroke-width="0.3" stroke-opacity="0.6"/>
<rect x="152.28" y="3.3" width="3.94" height="18.07" fill="#ff8000" stroke="#7a7a7a" stroke-width="0.3" stroke-opacity="0.6"/>
<path d="M18.4 3.3V101.5H159.32" fill="none" stroke="#a8a8a8" stroke-width="0.6"/>
<path d="M17.1 101.5h1.3M17.1 91.68h1.3M17.1 81.86h1.3M17.1 72.04h1.3M17.1 62.22h1.3M17.1 52.4h1.3M17.1 42.58h1.3M17.1 32.76h1.3M17.1 22.94h1.3M17.1 13.12h1.3M17.1 3.3h1.3M23.57 101.5v1M28.41 101.5v1M33.25 101.5v1M38.09 101.5v1M42.93 101.5v1M47.77 101.5v1M52.61 101.5v1M57.45 101.5v1M62.29 101.5v1M67.13 101.5v1M71.97 101.5v1M76.81 101.5v1M81.65 101.5v1M86.49 101.5v1M91.33 101.5v1M96.17 101.5v1M101.01 101.5v1M105.85 101.5v1M110.69 101.5v1M115.53 101.5v1M120.37 101.5v1M125.21 101.5v1M130.05 101.5v1M134.89 101.5v1M139.73 101.5v1M144.57 101.5v1M149.41 101.5v1M154.25 101.5v1M159.32 101.5v1" stroke="#a8a8a8" stroke-width="0.5"/>
<g font-family="'Liberation Sans', sans-serif" font-size="5.6" fill="#222" stroke="#222" stroke-width="0.14" text-anchor="end"><text x="16.8" y="103.5">0.0</text><text x="16.8" y="93.68">0.1</text><text x="16.8" y="83.86">0.2</text><text x="16.8" y="74.04">0.3</text><text x="16.8" y="64.22">0.4</text><text x="16.8" y="54.4">0.5</text><text x="16.8" y="44.58">0.6</text><text x="16.8" y="34.76">0.7</text><text x="16.8" y="24.94">0.8</text><text x="16.8" y="15.12">0.9</text><text x="16.8" y="5.3">1.0</text></g>
<g font-family="'Liberation Sans', sans-serif" font-size="5.6" fill="#222" stroke="#222" stroke-width="0.14" text-anchor="middle"><text x="23.57" y="108.7">82</text><text x="42.93" y="108.7">86</text><text x="62.29" y="108.7">90</text><text x="81.65" y="108.7">94</text><text x="101.01" y="108.7">98</text><text x="120.37" y="108.7">02</text><text x="139.73" y="108.7">06</text></g>
<text font-family="'Liberation Sans', sans-serif" font-size="6.8" font-weight="bold" fill="#111" text-anchor="middle" x="88.7" y="114.9">Year</text>
<text font-family="'Liberation Sans', sans-serif" font-size="6.2" font-weight="bold" fill="#111" text-anchor="middle" transform="translate(7.1 52) rotate(-90)">Percentage</text>
<rect x="13.3" y="118.7" width="24.15" height="3.8" fill="#003800"/>
<rect x="37.4" y="118.7" width="24.15" height="3.8" fill="#00ee00"/>
<rect x="61.5" y="118.7" width="24.15" height="3.8" fill="#bdf5c3"/>
<rect x="85.6" y="118.7" width="24.15" height="3.8" fill="#fffa87"/>
<rect x="109.7" y="118.7" width="24.15" height="3.8" fill="#ff8000"/>
<rect x="133.8" y="118.7" width="24.15" height="3.8" fill="#3a0000"/>
<text font-family="'Liberation Sans', sans-serif" font-size="6.1" fill="#222" stroke="#222" stroke-width="0.25" x="8" y="122.4" text-anchor="middle">σ</text>
<g font-family="'Liberation Sans', sans-serif" font-size="5.6" font-weight="bold" fill="#222" text-anchor="middle"><text x="36.8" y="128.8">-2</text><text x="60.9" y="128.8">-1</text><text x="85" y="128.8">0</text><text x="109.1" y="128.8">1</text><text x="133.2" y="128.8">2</text></g>
<rect x="264.7" y="3.5" width="134.42" height="97.3" fill="#c4c4c4"/>
<rect x="265.3" y="96.91" width="3.89" height="3.89" fill="#00ee00" stroke="#7a7a7a" stroke-width="0.3" stroke-opacity="0.6"/>
<rect x="265.3" y="14.49" width="3.89" height="82.41" fill="#bdf5c3" stroke="#7a7a7a" stroke-width="0.3" stroke-opacity="0.6"/>
<rect x="265.3" y="3.5" width="3.89" height="10.99" fill="#fffa87" stroke="#7a7a7a" stroke-width="0.3" stroke-opacity="0.6"/>
<rect x="270.09" y="67.23" width="3.89" height="33.57" fill="#00ee00" stroke="#7a7a7a" stroke-width="0.3" stroke-opacity="0.6"/>
<rect x="270.09" y="10.31" width="3.89" height="56.92" fill="#bdf5c3" stroke="#7a7a7a" stroke-width="0.3" stroke-opacity="0.6"/>
<rect x="270.09" y="3.5" width="3.89" height="6.81" fill="#fffa87" stroke="#7a7a7a" stroke-width="0.3" stroke-opacity="0.6"/>
<rect x="274.88" y="48.26" width="3.89" height="52.54" fill="#00ee00" stroke="#7a7a7a" stroke-width="0.3" stroke-opacity="0.6"/>
<rect x="274.88" y="6.81" width="3.89" height="41.45" fill="#bdf5c3" stroke="#7a7a7a" stroke-width="0.3" stroke-opacity="0.6"/>
<rect x="274.88" y="3.5" width="3.89" height="3.31" fill="#fffa87" stroke="#7a7a7a" stroke-width="0.3" stroke-opacity="0.6"/>
<rect x="279.67" y="96.91" width="3.89" height="3.89" fill="#003800" stroke="#7a7a7a" stroke-width="0.3" stroke-opacity="0.6"/>
<rect x="279.67" y="70.64" width="3.89" height="26.27" fill="#00ee00" stroke="#7a7a7a" stroke-width="0.3" stroke-opacity="0.6"/>
<rect x="279.67" y="3.5" width="3.89" height="67.14" fill="#bdf5c3" stroke="#7a7a7a" stroke-width="0.3" stroke-opacity="0.6"/>
<rect x="284.46" y="93.02" width="3.89" height="7.78" fill="#003800" stroke="#7a7a7a" stroke-width="0.3" stroke-opacity="0.6"/>
<rect x="284.46" y="48.26" width="3.89" height="44.76" fill="#00ee00" stroke="#7a7a7a" stroke-width="0.3" stroke-opacity="0.6"/>
<rect x="284.46" y="3.5" width="3.89" height="44.76" fill="#bdf5c3" stroke="#7a7a7a" stroke-width="0.3" stroke-opacity="0.6"/>
<rect x="289.25" y="93.02" width="3.89" height="7.78" fill="#003800" stroke="#7a7a7a" stroke-width="0.3" stroke-opacity="0.6"/>
<rect x="289.25" y="40.47" width="3.89" height="52.54" fill="#00ee00" stroke="#7a7a7a" stroke-width="0.3" stroke-opacity="0.6"/>
<rect x="289.25" y="6.81" width="3.89" height="33.67" fill="#bdf5c3" stroke="#7a7a7a" stroke-width="0.3" stroke-opacity="0.6"/>
<rect x="289.25" y="3.5" width="3.89" height="3.31" fill="#fffa87" stroke="#7a7a7a" stroke-width="0.3" stroke-opacity="0.6"/>
<rect x="294.04" y="96.91" width="3.89" height="3.89" fill="#00ee00" stroke="#7a7a7a" stroke-width="0.3" stroke-opacity="0.6"/>
<rect x="294.04" y="63.83" width="3.89" height="33.08" fill="#bdf5c3" stroke="#7a7a7a" stroke-width="0.3" stroke-opacity="0.6"/>
<rect x="294.04" y="3.5" width="3.89" height="60.33" fill="#fffa87" stroke="#7a7a7a" stroke-width="0.3" stroke-opacity="0.6"/>
<rect x="298.83" y="70.64" width="3.89" height="30.16" fill="#00ee00" stroke="#7a7a7a" stroke-width="0.3" stroke-opacity="0.6"/>
<rect x="298.83" y="6.81" width="3.89" height="63.83" fill="#bdf5c3" stroke="#7a7a7a" stroke-width="0.3" stroke-opacity="0.6"/>
<rect x="298.83" y="3.5" width="3.89" height="3.31" fill="#fffa87" stroke="#7a7a7a" stroke-width="0.3" stroke-opacity="0.6"/>
<rect x="303.62" y="37.55" width="3.89" height="63.24" fill="#bdf5c3" stroke="#7a7a7a" stroke-width="0.3" stroke-opacity="0.6"/>
<rect x="303.62" y="3.5" width="3.89" height="34.05" fill="#fffa87" stroke="#7a7a7a" stroke-width="0.3" stroke-opacity="0.6"/>
<rect x="308.41" y="10.31" width="3.89" height="90.49" fill="#bdf5c3" stroke="#7a7a7a" stroke-width="0.3" stroke-opacity="0.6"/>
<rect x="308.41" y="3.5" width="3.89" height="6.81" fill="#fffa87" stroke="#7a7a7a" stroke-width="0.3" stroke-opacity="0.6"/>
<rect x="313.2" y="44.07" width="3.89" height="56.73" fill="#00ee00" stroke="#7a7a7a" stroke-width="0.3" stroke-opacity="0.6"/>
<rect x="313.2" y="3.5" width="3.89" height="40.57" fill="#bdf5c3" stroke="#7a7a7a" stroke-width="0.3" stroke-opacity="0.6"/>
<rect x="317.99" y="74.14" width="3.89" height="26.66" fill="#00ee00" stroke="#7a7a7a" stroke-width="0.3" stroke-opacity="0.6"/>
<rect x="317.99" y="6.81" width="3.89" height="67.33" fill="#bdf5c3" stroke="#7a7a7a" stroke-width="0.3" stroke-opacity="0.6"/>
<rect x="317.99" y="3.5" width="3.89" height="3.31" fill="#fffa87" stroke="#7a7a7a" stroke-width="0.3" stroke-opacity="0.6"/>
<rect x="322.78" y="89.42" width="3.89" height="11.38" fill="#bdf5c3" stroke="#7a7a7a" stroke-width="0.3" stroke-opacity="0.6"/>
<rect x="322.78" y="18.19" width="3.89" height="71.22" fill="#fffa87" stroke="#7a7a7a" stroke-width="0.3" stroke-opacity="0.6"/>
<rect x="322.78" y="3.5" width="3.89" height="14.69" fill="#ff8000" stroke="#7a7a7a" stroke-width="0.3" stroke-opacity="0.6"/>
<rect x="327.57" y="78.23" width="3.89" height="22.57" fill="#00ee00" stroke="#7a7a7a" stroke-width="0.3" stroke-opacity="0.6"/>
<rect x="327.57" y="18.19" width="3.89" height="60.03" fill="#bdf5c3" stroke="#7a7a7a" stroke-width="0.3" stroke-opacity="0.6"/>
<rect x="327.57" y="6.81" width="3.89" height="11.38" fill="#fffa87" stroke="#7a7a7a" stroke-width="0.3" stroke-opacity="0.6"/>
<rect x="327.57" y="3.5" width="3.89" height="3.31" fill="#ff8000" stroke="#7a7a7a" stroke-width="0.3" stroke-opacity="0.6"/>
<rect x="332.36" y="66.84" width="3.89" height="33.96" fill="#00ee00" stroke="#7a7a7a" stroke-width="0.3" stroke-opacity="0.6"/>
<rect x="332.36" y="3.5" width="3.89" height="63.34" fill="#bdf5c3" stroke="#7a7a7a" stroke-width="0.3" stroke-opacity="0.6"/>
<rect x="337.15" y="44.07" width="3.89" height="56.73" fill="#bdf5c3" stroke="#7a7a7a" stroke-width="0.3" stroke-opacity="0.6"/>
<rect x="337.15" y="3.5" width="3.89" height="40.57" fill="#fffa87" stroke="#7a7a7a" stroke-width="0.3" stroke-opacity="0.6"/>
<rect x="341.94" y="85.23" width="3.89" height="15.57" fill="#bdf5c3" stroke="#7a7a7a" stroke-width="0.3" stroke-opacity="0.6"/>
<rect x="341.94" y="29.58" width="3.89" height="55.66" fill="#fffa87" stroke="#7a7a7a" stroke-width="0.3" stroke-opacity="0.6"/>
<rect x="341.94" y="3.5" width="3.89" height="26.08" fill="#ff8000" stroke="#7a7a7a" stroke-width="0.3" stroke-opacity="0.6"/>
<rect x="346.73" y="66.84" width="3.89" height="33.96" fill="#bdf5c3" stroke="#7a7a7a" stroke-width="0.3" stroke-opacity="0.6"/>
<rect x="346.73" y="22.38" width="3.89" height="44.47" fill="#fffa87" stroke="#7a7a7a" stroke-width="0.3" stroke-opacity="0.6"/>
<rect x="346.73" y="3.5" width="3.89" height="18.88" fill="#ff8000" stroke="#7a7a7a" stroke-width="0.3" stroke-opacity="0.6"/>
<rect x="351.52" y="93.6" width="3.89" height="7.2" fill="#bdf5c3" stroke="#7a7a7a" stroke-width="0.3" stroke-opacity="0.6"/>
<rect x="351.52" y="70.83" width="3.89" height="22.77" fill="#fffa87" stroke="#7a7a7a" stroke-width="0.3" stroke-opacity="0.6"/>
<rect x="351.52" y="10.8" width="3.89" height="60.03" fill="#ff8000" stroke="#7a7a7a" stroke-width="0.3" stroke-opacity="0.6"/>
<rect x="351.52" y="3.5" width="3.89" height="7.3" fill="#3a0000" stroke="#7a7a7a" stroke-width="0.3" stroke-opacity="0.6"/>
<rect x="356.31" y="93.6" width="3.89" height="7.2" fill="#fffa87" stroke="#7a7a7a" stroke-width="0.3" stroke-opacity="0.6"/>
<rect x="356.31" y="25.88" width="3.89" height="67.72" fill="#ff8000" stroke="#7a7a7a" stroke-width="0.3" stroke-opacity="0.6"/>
<rect x="356.31" y="3.5" width="3.89" height="22.38" fill="#3a0000" stroke="#7a7a7a" stroke-width="0.3" stroke-opacity="0.6"/>
<rect x="361.1" y="63.53" width="3.89" height="37.27" fill="#bdf5c3" stroke="#7a7a7a" stroke-width="0.3" stroke-opacity="0.6"/>
<rect x="361.1" y="6.81" width="3.89" height="56.73" fill="#fffa87" stroke="#7a7a7a" stroke-width="0.3" stroke-opacity="0.6"/>
<rect x="361.1" y="3.5" width="3.89" height="3.31" fill="#ff8000" stroke="#7a7a7a" stroke-width="0.3" stroke-opacity="0.6"/>
<rect x="365.89" y="96.91" width="3.89" height="3.89" fill="#00ee00" stroke="#7a7a7a" stroke-width="0.3" stroke-opacity="0.6"/>
<rect x="365.89" y="40.47" width="3.89" height="56.43" fill="#bdf5c3" stroke="#7a7a7a" stroke-width="0.3" stroke-opacity="0.6"/>
<rect x="365.89" y="6.81" width="3.89" height="33.67" fill="#fffa87" stroke="#7a7a7a" stroke-width="0.3" stroke-opacity="0.6"/>
<rect x="365.89" y="3.5" width="3.89" height="3.31" fill="#ff8000" stroke="#7a7a7a" stroke-width="0.3" stroke-opacity="0.6"/>
<rect x="370.68" y="85.23" width="3.89" height="15.57" fill="#bdf5c3" stroke="#7a7a7a" stroke-width="0.3" stroke-opacity="0.6"/>
<rect x="370.68" y="48.65" width="3.89" height="36.58" fill="#fffa87" stroke="#7a7a7a" stroke-width="0.3" stroke-opacity="0.6"/>
<rect x="370.68" y="6.81" width="3.89" height="41.84" fill="#ff8000" stroke="#7a7a7a" stroke-width="0.3" stroke-opacity="0.6"/>
<rect x="370.68" y="3.5" width="3.89" height="3.31" fill="#3a0000" stroke="#7a7a7a" stroke-width="0.3" stroke-opacity="0.6"/>
<rect x="375.47" y="96.91" width="3.89" height="3.89" fill="#bdf5c3" stroke="#7a7a7a" stroke-width="0.3" stroke-opacity="0.6"/>
<rect x="375.47" y="55.46" width="3.89" height="41.45" fill="#fffa87" stroke="#7a7a7a" stroke-width="0.3" stroke-opacity="0.6"/>
<rect x="375.47" y="3.5" width="3.89" height="51.96" fill="#ff8000" stroke="#7a7a7a" stroke-width="0.3" stroke-opacity="0.6"/>
<rect x="380.26" y="93.6" width="3.89" height="7.2" fill="#bdf5c3" stroke="#7a7a7a" stroke-width="0.3" stroke-opacity="0.6"/>
<rect x="380.26" y="44.46" width="3.89" height="49.14" fill="#fffa87" stroke="#7a7a7a" stroke-width="0.3" stroke-opacity="0.6"/>
<rect x="380.26" y="6.81" width="3.89" height="37.66" fill="#ff8000" stroke="#7a7a7a" stroke-width="0.3" stroke-opacity="0.6"/>
<rect x="380.26" y="3.5" width="3.89" height="3.31" fill="#3a0000" stroke="#7a7a7a" stroke-width="0.3" stroke-opacity="0.6"/>
<rect x="385.05" y="96.91" width="3.89" height="3.89" fill="#bdf5c3" stroke="#7a7a7a" stroke-width="0.3" stroke-opacity="0.6"/>
<rect x="385.05" y="89.42" width="3.89" height="7.49" fill="#fffa87" stroke="#7a7a7a" stroke-width="0.3" stroke-opacity="0.6"/>
<rect x="385.05" y="51.76" width="3.89" height="37.66" fill="#ff8000" stroke="#7a7a7a" stroke-width="0.3" stroke-opacity="0.6"/>
<rect x="385.05" y="3.5" width="3.89" height="48.26" fill="#3a0000" stroke="#7a7a7a" stroke-width="0.3" stroke-opacity="0.6"/>
<rect x="389.84" y="22.38" width="3.89" height="78.42" fill="#fffa87" stroke="#7a7a7a" stroke-width="0.3" stroke-opacity="0.6"/>
<rect x="389.84" y="3.5" width="3.89" height="18.88" fill="#ff8000" stroke="#7a7a7a" stroke-width="0.3" stroke-opacity="0.6"/>
<rect x="394.63" y="74.53" width="3.89" height="26.27" fill="#bdf5c3" stroke="#7a7a7a" stroke-width="0.3" stroke-opacity="0.6"/>
<rect x="394.63" y="25.88" width="3.89" height="48.65" fill="#fffa87" stroke="#7a7a7a" stroke-width="0.3" stroke-opacity="0.6"/>
<rect x="394.63" y="3.5" width="3.89" height="22.38" fill="#ff8000" stroke="#7a7a7a" stroke-width="0.3" stroke-opacity="0.6"/>
<path d="M262.1 3.5V100.8H401.6" fill="none" stroke="#a8a8a8" stroke-width="0.6"/>
<path d="M260.8 100.8h1.3M260.8 91.07h1.3M260.8 81.34h1.3M260.8 71.61h1.3M260.8 61.88h1.3M260.8 52.15h1.3M260.8 42.42h1.3M260.8 32.69h1.3M260.8 22.96h1.3M260.8 13.23h1.3M260.8 3.5h1.3M267.25 100.8v1M272.04 100.8v1M276.82 100.8v1M281.62 100.8v1M286.41 100.8v1M291.19 100.8v1M295.99 100.8v1M300.78 100.8v1M305.56 100.8v1M310.36 100.8v1M315.14 100.8v1M319.94 100.8v1M324.73 100.8v1M329.51 100.8v1M334.31 100.8v1M339.09 100.8v1M343.88 100.8v1M348.68 100.8v1M353.46 100.8v1M358.25 100.8v1M363.05 100.8v1M367.83 100.8v1M372.62 100.8v1M377.42 100.8v1M382.2 100.8v1M387 100.8v1M391.79 100.8v1M396.57 100.8v1M401.6 100.8v1" stroke="#a8a8a8" stroke-width="0.5"/>
<g font-family="'Liberation Sans', sans-serif" font-size="5.6" fill="#222" stroke="#222" stroke-width="0.14" text-anchor="end"><text x="260.5" y="102.8">0.0</text><text x="260.5" y="93.07">0.1</text><text x="260.5" y="83.34">0.2</text><text x="260.5" y="73.61">0.3</text><text x="260.5" y="63.88">0.4</text><text x="260.5" y="54.15">0.5</text><text x="260.5" y="44.42">0.6</text><text x="260.5" y="34.69">0.7</text><text x="260.5" y="24.96">0.8</text><text x="260.5" y="15.23">0.9</text><text x="260.5" y="5.5">1.0</text></g>
<g font-family="'Liberation Sans', sans-serif" font-size="5.6" fill="#222" stroke="#222" stroke-width="0.14" text-anchor="middle"><text x="267.25" y="107.93">82</text><text x="286.41" y="107.93">86</text><text x="305.56" y="107.93">90</text><text x="324.73" y="107.93">94</text><text x="343.88" y="107.93">98</text><text x="363.05" y="107.93">02</text><text x="382.2" y="107.93">06</text></g>
<text font-family="'Liberation Sans', sans-serif" font-size="6.8" font-weight="bold" fill="#111" text-anchor="middle" x="331.71" y="114.08">Year</text>
<text font-family="'Liberation Sans', sans-serif" font-size="6.2" font-weight="bold" fill="#111" text-anchor="middle" transform="translate(250.95 51.75) rotate(-90)">Percentage</text>
<rect x="257.09" y="117.84" width="23.9" height="3.8" fill="#003800"/>
<rect x="280.94" y="117.84" width="23.9" height="3.8" fill="#00ee00"/>
<rect x="304.79" y="117.84" width="23.9" height="3.8" fill="#bdf5c3"/>
<rect x="328.64" y="117.84" width="23.9" height="3.8" fill="#fffa87"/>
<rect x="352.49" y="117.84" width="23.9" height="3.8" fill="#ff8000"/>
<rect x="376.34" y="117.84" width="23.9" height="3.8" fill="#3a0000"/>
<text font-family="'Liberation Sans', sans-serif" font-size="6.1" fill="#222" stroke="#222" stroke-width="0.25" x="251.84" y="121.54" text-anchor="middle">σ</text>
<g font-family="'Liberation Sans', sans-serif" font-size="5.6" font-weight="bold" fill="#222" text-anchor="middle"><text x="280.34" y="127.94">-2</text><text x="304.19" y="127.94">-1</text><text x="328.04" y="127.94">0</text><text x="351.89" y="127.94">1</text><text x="375.74" y="127.94">2</text></g>
<rect x="507.2" y="3.5" width="134.42" height="97.3" fill="#c4c4c4"/>
<rect x="507.8" y="91.07" width="3.89" height="9.73" fill="#00ee00" stroke="#7a7a7a" stroke-width="0.3" stroke-opacity="0.6"/>
<rect x="507.8" y="23.35" width="3.89" height="67.72" fill="#bdf5c3" stroke="#7a7a7a" stroke-width="0.3" stroke-opacity="0.6"/>
<rect x="507.8" y="3.5" width="3.89" height="19.85" fill="#fffa87" stroke="#7a7a7a" stroke-width="0.3" stroke-opacity="0.6"/>
<rect x="512.59" y="76.96" width="3.89" height="23.84" fill="#00ee00" stroke="#7a7a7a" stroke-width="0.3" stroke-opacity="0.6"/>
<rect x="512.59" y="29.38" width="3.89" height="47.58" fill="#bdf5c3" stroke="#7a7a7a" stroke-width="0.3" stroke-opacity="0.6"/>
<rect x="512.59" y="6.81" width="3.89" height="22.57" fill="#fffa87" stroke="#7a7a7a" stroke-width="0.3" stroke-opacity="0.6"/>
<rect x="512.59" y="3.5" width="3.89" height="3.31" fill="#ff8000" stroke="#7a7a7a" stroke-width="0.3" stroke-opacity="0.6"/>
<rect x="517.38" y="94.77" width="3.89" height="6.03" fill="#003800" stroke="#7a7a7a" stroke-width="0.3" stroke-opacity="0.6"/>
<rect x="517.38" y="17.12" width="3.89" height="77.65" fill="#00ee00" stroke="#7a7a7a" stroke-width="0.3" stroke-opacity="0.6"/>
<rect x="517.38" y="3.5" width="3.89" height="13.62" fill="#bdf5c3" stroke="#7a7a7a" stroke-width="0.3" stroke-opacity="0.6"/>
<rect x="522.17" y="93.11" width="3.89" height="7.69" fill="#003800" stroke="#7a7a7a" stroke-width="0.3" stroke-opacity="0.6"/>
<rect x="522.17" y="47.19" width="3.89" height="45.93" fill="#00ee00" stroke="#7a7a7a" stroke-width="0.3" stroke-opacity="0.6"/>
<rect x="522.17" y="3.5" width="3.89" height="43.69" fill="#bdf5c3" stroke="#7a7a7a" stroke-width="0.3" stroke-opacity="0.6"/>
<rect x="526.96" y="96.91" width="3.89" height="3.89" fill="#003800" stroke="#7a7a7a" stroke-width="0.3" stroke-opacity="0.6"/>
<rect x="526.96" y="58.96" width="3.89" height="37.95" fill="#00ee00" stroke="#7a7a7a" stroke-width="0.3" stroke-opacity="0.6"/>
<rect x="526.96" y="9.34" width="3.89" height="49.62" fill="#bdf5c3" stroke="#7a7a7a" stroke-width="0.3" stroke-opacity="0.6"/>
<rect x="526.96" y="3.5" width="3.89" height="5.84" fill="#fffa87" stroke="#7a7a7a" stroke-width="0.3" stroke-opacity="0.6"/>
<rect x="531.75" y="98.85" width="3.89" height="1.95" fill="#003800" stroke="#7a7a7a" stroke-width="0.3" stroke-opacity="0.6"/>
<rect x="531.75" y="82.8" width="3.89" height="16.05" fill="#00ee00" stroke="#7a7a7a" stroke-width="0.3" stroke-opacity="0.6"/>
<rect x="531.75" y="17.12" width="3.89" height="65.68" fill="#bdf5c3" stroke="#7a7a7a" stroke-width="0.3" stroke-opacity="0.6"/>
<rect x="531.75" y="3.5" width="3.89" height="13.62" fill="#fffa87" stroke="#7a7a7a" stroke-width="0.3" stroke-opacity="0.6"/>
<rect x="536.54" y="88.54" width="3.89" height="12.26" fill="#00ee00" stroke="#7a7a7a" stroke-width="0.3" stroke-opacity="0.6"/>
<rect x="536.54" y="19.26" width="3.89" height="69.28" fill="#bdf5c3" stroke="#7a7a7a" stroke-width="0.3" stroke-opacity="0.6"/>
<rect x="536.54" y="3.5" width="3.89" height="15.76" fill="#fffa87" stroke="#7a7a7a" stroke-width="0.3" stroke-opacity="0.6"/>
<rect x="541.33" y="58.96" width="3.89" height="41.84" fill="#00ee00" stroke="#7a7a7a" stroke-width="0.3" stroke-opacity="0.6"/>
<rect x="541.33" y="15.47" width="3.89" height="43.49" fill="#bdf5c3" stroke="#7a7a7a" stroke-width="0.3" stroke-opacity="0.6"/>
<rect x="541.33" y="3.5" width="3.89" height="11.97" fill="#fffa87" stroke="#7a7a7a" stroke-width="0.3" stroke-opacity="0.6"/>
<rect x="546.12" y="47.19" width="3.89" height="53.61" fill="#bdf5c3" stroke="#7a7a7a" stroke-width="0.3" stroke-opacity="0.6"/>
<rect x="546.12" y="7.2" width="3.89" height="39.99" fill="#fffa87" stroke="#7a7a7a" stroke-width="0.3" stroke-opacity="0.6"/>
<rect x="546.12" y="3.5" width="3.89" height="3.7" fill="#ff8000" stroke="#7a7a7a" stroke-width="0.3" stroke-opacity="0.6"/>
<rect x="550.91" y="66.84" width="3.89" height="33.96" fill="#00ee00" stroke="#7a7a7a" stroke-width="0.3" stroke-opacity="0.6"/>
<rect x="550.91" y="9.34" width="3.89" height="57.5" fill="#bdf5c3" stroke="#7a7a7a" stroke-width="0.3" stroke-opacity="0.6"/>
<rect x="550.91" y="3.5" width="3.89" height="5.84" fill="#fffa87" stroke="#7a7a7a" stroke-width="0.3" stroke-opacity="0.6"/>
<rect x="555.7" y="51.18" width="3.89" height="49.62" fill="#00ee00" stroke="#7a7a7a" stroke-width="0.3" stroke-opacity="0.6"/>
<rect x="555.7" y="5.74" width="3.89" height="45.44" fill="#bdf5c3" stroke="#7a7a7a" stroke-width="0.3" stroke-opacity="0.6"/>
<rect x="555.7" y="3.5" width="3.89" height="2.24" fill="#fffa87" stroke="#7a7a7a" stroke-width="0.3" stroke-opacity="0.6"/>
<rect x="560.49" y="94.77" width="3.89" height="6.03" fill="#003800" stroke="#7a7a7a" stroke-width="0.3" stroke-opacity="0.6"/>
<rect x="560.49" y="35.22" width="3.89" height="59.55" fill="#00ee00" stroke="#7a7a7a" stroke-width="0.3" stroke-opacity="0.6"/>
<rect x="560.49" y="3.5" width="3.89" height="31.72" fill="#bdf5c3" stroke="#7a7a7a" stroke-width="0.3" stroke-opacity="0.6"/>
<rect x="565.28" y="92.72" width="3.89" height="8.08" fill="#bdf5c3" stroke="#7a7a7a" stroke-width="0.3" stroke-opacity="0.6"/>
<rect x="565.28" y="40.77" width="3.89" height="51.96" fill="#fffa87" stroke="#7a7a7a" stroke-width="0.3" stroke-opacity="0.6"/>
<rect x="565.28" y="9.34" width="3.89" height="31.43" fill="#ff8000" stroke="#7a7a7a" stroke-width="0.3" stroke-opacity="0.6"/>
<rect x="565.28" y="3.5" width="3.89" height="5.84" fill="#3a0000" stroke="#7a7a7a" stroke-width="0.3" stroke-opacity="0.6"/>
<rect x="570.07" y="98.85" width="3.89" height="1.95" fill="#00ee00" stroke="#7a7a7a" stroke-width="0.3" stroke-opacity="0.6"/>
<rect x="570.07" y="63.14" width="3.89" height="35.71" fill="#bdf5c3" stroke="#7a7a7a" stroke-width="0.3" stroke-opacity="0.6"/>
<rect x="570.07" y="9.34" width="3.89" height="53.81" fill="#fffa87" stroke="#7a7a7a" stroke-width="0.3" stroke-opacity="0.6"/>
<rect x="570.07" y="3.5" width="3.89" height="5.84" fill="#ff8000" stroke="#7a7a7a" stroke-width="0.3" stroke-opacity="0.6"/>
<rect x="574.86" y="72.87" width="3.89" height="27.93" fill="#00ee00" stroke="#7a7a7a" stroke-width="0.3" stroke-opacity="0.6"/>
<rect x="574.86" y="3.5" width="3.89" height="69.37" fill="#bdf5c3" stroke="#7a7a7a" stroke-width="0.3" stroke-opacity="0.6"/>
<rect x="579.65" y="92.72" width="3.89" height="8.08" fill="#bdf5c3" stroke="#7a7a7a" stroke-width="0.3" stroke-opacity="0.6"/>
<rect x="579.65" y="31.43" width="3.89" height="61.3" fill="#fffa87" stroke="#7a7a7a" stroke-width="0.3" stroke-opacity="0.6"/>
<rect x="579.65" y="5.15" width="3.89" height="26.27" fill="#ff8000" stroke="#7a7a7a" stroke-width="0.3" stroke-opacity="0.6"/>
<rect x="579.65" y="3.5" width="3.89" height="1.65" fill="#3a0000" stroke="#7a7a7a" stroke-width="0.3" stroke-opacity="0.6"/>
<rect x="584.44" y="96.62" width="3.89" height="4.18" fill="#bdf5c3" stroke="#7a7a7a" stroke-width="0.3" stroke-opacity="0.6"/>
<rect x="584.44" y="66.84" width="3.89" height="29.77" fill="#fffa87" stroke="#7a7a7a" stroke-width="0.3" stroke-opacity="0.6"/>
<rect x="584.44" y="12.84" width="3.89" height="54" fill="#ff8000" stroke="#7a7a7a" stroke-width="0.3" stroke-opacity="0.6"/>
<rect x="584.44" y="3.5" width="3.89" height="9.34" fill="#3a0000" stroke="#7a7a7a" stroke-width="0.3" stroke-opacity="0.6"/>
<rect x="589.23" y="98.85" width="3.89" height="1.95" fill="#bdf5c3" stroke="#7a7a7a" stroke-width="0.3" stroke-opacity="0.6"/>
<rect x="589.23" y="49.04" width="3.89" height="49.82" fill="#fffa87" stroke="#7a7a7a" stroke-width="0.3" stroke-opacity="0.6"/>
<rect x="589.23" y="5.15" width="3.89" height="43.88" fill="#ff8000" stroke="#7a7a7a" stroke-width="0.3" stroke-opacity="0.6"/>
<rect x="589.23" y="3.5" width="3.89" height="1.65" fill="#3a0000" stroke="#7a7a7a" stroke-width="0.3" stroke-opacity="0.6"/>
<rect x="594.02" y="94.77" width="3.89" height="6.03" fill="#bdf5c3" stroke="#7a7a7a" stroke-width="0.3" stroke-opacity="0.6"/>
<rect x="594.02" y="25.49" width="3.89" height="69.28" fill="#fffa87" stroke="#7a7a7a" stroke-width="0.3" stroke-opacity="0.6"/>
<rect x="594.02" y="3.5" width="3.89" height="21.99" fill="#ff8000" stroke="#7a7a7a" stroke-width="0.3" stroke-opacity="0.6"/>
<rect x="598.81" y="94.77" width="3.89" height="6.03" fill="#bdf5c3" stroke="#7a7a7a" stroke-width="0.3" stroke-opacity="0.6"/>
<rect x="598.81" y="44.46" width="3.89" height="50.3" fill="#fffa87" stroke="#7a7a7a" stroke-width="0.3" stroke-opacity="0.6"/>
<rect x="598.81" y="7.2" width="3.89" height="37.27" fill="#ff8000" stroke="#7a7a7a" stroke-width="0.3" stroke-opacity="0.6"/>
<rect x="598.81" y="3.5" width="3.89" height="3.7" fill="#3a0000" stroke="#7a7a7a" stroke-width="0.3" stroke-opacity="0.6"/>
<rect x="603.6" y="98.85" width="3.89" height="1.95" fill="#00ee00" stroke="#7a7a7a" stroke-width="0.3" stroke-opacity="0.6"/>
<rect x="603.6" y="76.57" width="3.89" height="22.28" fill="#bdf5c3" stroke="#7a7a7a" stroke-width="0.3" stroke-opacity="0.6"/>
<rect x="603.6" y="33.08" width="3.89" height="43.49" fill="#fffa87" stroke="#7a7a7a" stroke-width="0.3" stroke-opacity="0.6"/>
<rect x="603.6" y="3.5" width="3.89" height="29.58" fill="#ff8000" stroke="#7a7a7a" stroke-width="0.3" stroke-opacity="0.6"/>
<rect x="608.39" y="98.85" width="3.89" height="1.95" fill="#003800" stroke="#7a7a7a" stroke-width="0.3" stroke-opacity="0.6"/>
<rect x="608.39" y="78.62" width="3.89" height="20.24" fill="#00ee00" stroke="#7a7a7a" stroke-width="0.3" stroke-opacity="0.6"/>
<rect x="608.39" y="11.38" width="3.89" height="67.23" fill="#bdf5c3" stroke="#7a7a7a" stroke-width="0.3" stroke-opacity="0.6"/>
<rect x="608.39" y="3.5" width="3.89" height="7.88" fill="#fffa87" stroke="#7a7a7a" stroke-width="0.3" stroke-opacity="0.6"/>
<rect x="613.18" y="94.77" width="3.89" height="6.03" fill="#00ee00" stroke="#7a7a7a" stroke-width="0.3" stroke-opacity="0.6"/>
<rect x="613.18" y="76.96" width="3.89" height="17.81" fill="#bdf5c3" stroke="#7a7a7a" stroke-width="0.3" stroke-opacity="0.6"/>
<rect x="613.18" y="23.35" width="3.89" height="53.61" fill="#fffa87" stroke="#7a7a7a" stroke-width="0.3" stroke-opacity="0.6"/>
<rect x="613.18" y="3.5" width="3.89" height="19.85" fill="#ff8000" stroke="#7a7a7a" stroke-width="0.3" stroke-opacity="0.6"/>
<rect x="617.97" y="96.91" width="3.89" height="3.89" fill="#00ee00" stroke="#7a7a7a" stroke-width="0.3" stroke-opacity="0.6"/>
<rect x="617.97" y="84.45" width="3.89" height="12.45" fill="#bdf5c3" stroke="#7a7a7a" stroke-width="0.3" stroke-opacity="0.6"/>
<rect x="617.97" y="44.46" width="3.89" height="39.99" fill="#fffa87" stroke="#7a7a7a" stroke-width="0.3" stroke-opacity="0.6"/>
<rect x="617.97" y="3.5" width="3.89" height="40.96" fill="#ff8000" stroke="#7a7a7a" stroke-width="0.3" stroke-opacity="0.6"/>
<rect x="622.76" y="98.85" width="3.89" height="1.95" fill="#bdf5c3" stroke="#7a7a7a" stroke-width="0.3" stroke-opacity="0.6"/>
<rect x="622.76" y="84.84" width="3.89" height="14.01" fill="#fffa87" stroke="#7a7a7a" stroke-width="0.3" stroke-opacity="0.6"/>
<rect x="622.76" y="14.88" width="3.89" height="69.96" fill="#ff8000" stroke="#7a7a7a" stroke-width="0.3" stroke-opacity="0.6"/>
<rect x="622.76" y="3.5" width="3.89" height="11.38" fill="#3a0000" stroke="#7a7a7a" stroke-width="0.3" stroke-opacity="0.6"/>
<rect x="627.55" y="92.72" width="3.89" height="8.08" fill="#bdf5c3" stroke="#7a7a7a" stroke-width="0.3" stroke-opacity="0.6"/>
<rect x="627.55" y="44.46" width="3.89" height="48.26" fill="#fffa87" stroke="#7a7a7a" stroke-width="0.3" stroke-opacity="0.6"/>
<rect x="627.55" y="3.5" width="3.89" height="40.96" fill="#ff8000" stroke="#7a7a7a" stroke-width="0.3" stroke-opacity="0.6"/>
<rect x="632.34" y="78.23" width="3.89" height="22.57" fill="#bdf5c3" stroke="#7a7a7a" stroke-width="0.3" stroke-opacity="0.6"/>
<rect x="632.34" y="25.49" width="3.89" height="52.74" fill="#fffa87" stroke="#7a7a7a" stroke-width="0.3" stroke-opacity="0.6"/>
<rect x="632.34" y="3.5" width="3.89" height="21.99" fill="#ff8000" stroke="#7a7a7a" stroke-width="0.3" stroke-opacity="0.6"/>
<rect x="637.13" y="78.23" width="3.89" height="22.57" fill="#bdf5c3" stroke="#7a7a7a" stroke-width="0.3" stroke-opacity="0.6"/>
<rect x="637.13" y="33.08" width="3.89" height="45.15" fill="#fffa87" stroke="#7a7a7a" stroke-width="0.3" stroke-opacity="0.6"/>
<rect x="637.13" y="3.5" width="3.89" height="29.58" fill="#ff8000" stroke="#7a7a7a" stroke-width="0.3" stroke-opacity="0.6"/>
<path d="M504.6 3.5V100.8H644.1" fill="none" stroke="#a8a8a8" stroke-width="0.6"/>
<path d="M503.3 100.8h1.3M503.3 91.07h1.3M503.3 81.34h1.3M503.3 71.61h1.3M503.3 61.88h1.3M503.3 52.15h1.3M503.3 42.42h1.3M503.3 32.69h1.3M503.3 22.96h1.3M503.3 13.23h1.3M503.3 3.5h1.3M509.75 100.8v1M514.54 100.8v1M519.33 100.8v1M524.12 100.8v1M528.91 100.8v1M533.7 100.8v1M538.49 100.8v1M543.28 100.8v1M548.07 100.8v1M552.86 100.8v1M557.65 100.8v1M562.44 100.8v1M567.23 100.8v1M572.02 100.8v1M576.81 100.8v1M581.6 100.8v1M586.39 100.8v1M591.18 100.8v1M595.97 100.8v1M600.76 100.8v1M605.55 100.8v1M610.34 100.8v1M615.13 100.8v1M619.92 100.8v1M624.71 100.8v1M629.5 100.8v1M634.29 100.8v1M639.08 100.8v1M644.1 100.8v1" stroke="#a8a8a8" stroke-width="0.5"/>
<g font-family="'Liberation Sans', sans-serif" font-size="5.6" fill="#222" stroke="#222" stroke-width="0.14" text-anchor="end"><text x="503" y="102.8">0.0</text><text x="503" y="93.07">0.1</text><text x="503" y="83.34">0.2</text><text x="503" y="73.61">0.3</text><text x="503" y="63.88">0.4</text><text x="503" y="54.15">0.5</text><text x="503" y="44.42">0.6</text><text x="503" y="34.69">0.7</text><text x="503" y="24.96">0.8</text><text x="503" y="15.23">0.9</text><text x="503" y="5.5">1.0</text></g>
<g font-family="'Liberation Sans', sans-serif" font-size="5.6" fill="#222" stroke="#222" stroke-width="0.14" text-anchor="middle"><text x="509.75" y="107.93">82</text><text x="528.91" y="107.93">86</text><text x="548.07" y="107.93">90</text><text x="567.23" y="107.93">94</text><text x="586.39" y="107.93">98</text><text x="605.55" y="107.93">02</text><text x="624.71" y="107.93">06</text></g>
<text font-family="'Liberation Sans', sans-serif" font-size="6.8" font-weight="bold" fill="#111" text-anchor="middle" x="574.21" y="114.08">Year</text>
<text font-family="'Liberation Sans', sans-serif" font-size="6.2" font-weight="bold" fill="#111" text-anchor="middle" transform="translate(493.45 51.75) rotate(-90)">Percentage</text>
<rect x="499.59" y="117.84" width="23.9" height="3.8" fill="#003800"/>
<rect x="523.44" y="117.84" width="23.9" height="3.8" fill="#00ee00"/>
<rect x="547.29" y="117.84" width="23.9" height="3.8" fill="#bdf5c3"/>
<rect x="571.14" y="117.84" width="23.9" height="3.8" fill="#fffa87"/>
<rect x="594.99" y="117.84" width="23.9" height="3.8" fill="#ff8000"/>
<rect x="618.84" y="117.84" width="23.9" height="3.8" fill="#3a0000"/>
<text font-family="'Liberation Sans', sans-serif" font-size="6.1" fill="#222" stroke="#222" stroke-width="0.25" x="494.34" y="121.54" text-anchor="middle">σ</text>
<g font-family="'Liberation Sans', sans-serif" font-size="5.6" font-weight="bold" fill="#222" text-anchor="middle"><text x="522.84" y="127.94">-2</text><text x="546.69" y="127.94">-1</text><text x="570.54" y="127.94">0</text><text x="594.39" y="127.94">1</text><text x="618.24" y="127.94">2</text></g>
<rect x="749.7" y="3.5" width="134.98" height="97.9" fill="#c4c4c4"/>
<rect x="750.3" y="93.08" width="3.91" height="8.32" fill="#00ee00" stroke="#7a7a7a" stroke-width="0.3" stroke-opacity="0.6"/>
<rect x="750.3" y="61.65" width="3.91" height="31.43" fill="#bdf5c3" stroke="#7a7a7a" stroke-width="0.3" stroke-opacity="0.6"/>
<rect x="750.3" y="8.69" width="3.91" height="52.96" fill="#fffa87" stroke="#7a7a7a" stroke-width="0.3" stroke-opacity="0.6"/>
<rect x="750.3" y="3.5" width="3.91" height="5.19" fill="#ff8000" stroke="#7a7a7a" stroke-width="0.3" stroke-opacity="0.6"/>
<rect x="755.11" y="94.55" width="3.91" height="6.85" fill="#003800" stroke="#7a7a7a" stroke-width="0.3" stroke-opacity="0.6"/>
<rect x="755.11" y="53.43" width="3.91" height="41.12" fill="#00ee00" stroke="#7a7a7a" stroke-width="0.3" stroke-opacity="0.6"/>
<rect x="755.11" y="25.43" width="3.91" height="28" fill="#bdf5c3" stroke="#7a7a7a" stroke-width="0.3" stroke-opacity="0.6"/>
<rect x="755.11" y="3.5" width="3.91" height="21.93" fill="#fffa87" stroke="#7a7a7a" stroke-width="0.3" stroke-opacity="0.6"/>
<rect x="759.92" y="99.44" width="3.91" height="1.96" fill="#003800" stroke="#7a7a7a" stroke-width="0.3" stroke-opacity="0.6"/>
<rect x="759.92" y="59.99" width="3.91" height="39.45" fill="#00ee00" stroke="#7a7a7a" stroke-width="0.3" stroke-opacity="0.6"/>
<rect x="759.92" y="10.35" width="3.91" height="49.64" fill="#bdf5c3" stroke="#7a7a7a" stroke-width="0.3" stroke-opacity="0.6"/>
<rect x="759.92" y="3.5" width="3.91" height="6.85" fill="#fffa87" stroke="#7a7a7a" stroke-width="0.3" stroke-opacity="0.6"/>
<rect x="764.73" y="91.61" width="3.91" height="9.79" fill="#003800" stroke="#7a7a7a" stroke-width="0.3" stroke-opacity="0.6"/>
<rect x="764.73" y="79.86" width="3.91" height="11.75" fill="#00ee00" stroke="#7a7a7a" stroke-width="0.3" stroke-opacity="0.6"/>
<rect x="764.73" y="16.52" width="3.91" height="63.34" fill="#bdf5c3" stroke="#7a7a7a" stroke-width="0.3" stroke-opacity="0.6"/>
<rect x="764.73" y="3.5" width="3.91" height="13.02" fill="#fffa87" stroke="#7a7a7a" stroke-width="0.3" stroke-opacity="0.6"/>
<rect x="769.54" y="83.19" width="3.91" height="18.21" fill="#003800" stroke="#7a7a7a" stroke-width="0.3" stroke-opacity="0.6"/>
<rect x="769.54" y="36.79" width="3.91" height="46.4" fill="#00ee00" stroke="#7a7a7a" stroke-width="0.3" stroke-opacity="0.6"/>
<rect x="769.54" y="8.69" width="3.91" height="28.1" fill="#bdf5c3" stroke="#7a7a7a" stroke-width="0.3" stroke-opacity="0.6"/>
<rect x="769.54" y="5.16" width="3.91" height="3.52" fill="#fffa87" stroke="#7a7a7a" stroke-width="0.3" stroke-opacity="0.6"/>
<rect x="769.54" y="3.5" width="3.91" height="1.66" fill="#ff8000" stroke="#7a7a7a" stroke-width="0.3" stroke-opacity="0.6"/>
<rect x="774.35" y="99.44" width="3.91" height="1.96" fill="#003800" stroke="#7a7a7a" stroke-width="0.3" stroke-opacity="0.6"/>
<rect x="774.35" y="49.61" width="3.91" height="49.83" fill="#00ee00" stroke="#7a7a7a" stroke-width="0.3" stroke-opacity="0.6"/>
<rect x="774.35" y="3.5" width="3.91" height="46.11" fill="#bdf5c3" stroke="#7a7a7a" stroke-width="0.3" stroke-opacity="0.6"/>
<rect x="779.16" y="96.51" width="3.91" height="4.89" fill="#00ee00" stroke="#7a7a7a" stroke-width="0.3" stroke-opacity="0.6"/>
<rect x="779.16" y="59.99" width="3.91" height="36.52" fill="#bdf5c3" stroke="#7a7a7a" stroke-width="0.3" stroke-opacity="0.6"/>
<rect x="779.16" y="9.96" width="3.91" height="50.03" fill="#fffa87" stroke="#7a7a7a" stroke-width="0.3" stroke-opacity="0.6"/>
<rect x="779.16" y="3.5" width="3.91" height="6.46" fill="#ff8000" stroke="#7a7a7a" stroke-width="0.3" stroke-opacity="0.6"/>
<rect x="783.97" y="78.2" width="3.91" height="23.2" fill="#00ee00" stroke="#7a7a7a" stroke-width="0.3" stroke-opacity="0.6"/>
<rect x="783.97" y="21.32" width="3.91" height="56.88" fill="#bdf5c3" stroke="#7a7a7a" stroke-width="0.3" stroke-opacity="0.6"/>
<rect x="783.97" y="8.69" width="3.91" height="12.63" fill="#fffa87" stroke="#7a7a7a" stroke-width="0.3" stroke-opacity="0.6"/>
<rect x="783.97" y="3.5" width="3.91" height="5.19" fill="#ff8000" stroke="#7a7a7a" stroke-width="0.3" stroke-opacity="0.6"/>
<rect x="788.78" y="73.2" width="3.91" height="28.2" fill="#bdf5c3" stroke="#7a7a7a" stroke-width="0.3" stroke-opacity="0.6"/>
<rect x="788.78" y="12.02" width="3.91" height="61.19" fill="#fffa87" stroke="#7a7a7a" stroke-width="0.3" stroke-opacity="0.6"/>
<rect x="788.78" y="3.5" width="3.91" height="8.52" fill="#ff8000" stroke="#7a7a7a" stroke-width="0.3" stroke-opacity="0.6"/>
<rect x="793.59" y="98.27" width="3.91" height="3.13" fill="#00ee00" stroke="#7a7a7a" stroke-width="0.3" stroke-opacity="0.6"/>
<rect x="793.59" y="11.82" width="3.91" height="86.45" fill="#bdf5c3" stroke="#7a7a7a" stroke-width="0.3" stroke-opacity="0.6"/>
<rect x="793.59" y="3.5" width="3.91" height="8.32" fill="#fffa87" stroke="#7a7a7a" stroke-width="0.3" stroke-opacity="0.6"/>
<rect x="798.4" y="49.61" width="3.91" height="51.79" fill="#00ee00" stroke="#7a7a7a" stroke-width="0.3" stroke-opacity="0.6"/>
<rect x="798.4" y="21.32" width="3.91" height="28.29" fill="#bdf5c3" stroke="#7a7a7a" stroke-width="0.3" stroke-opacity="0.6"/>
<rect x="798.4" y="5.16" width="3.91" height="16.15" fill="#fffa87" stroke="#7a7a7a" stroke-width="0.3" stroke-opacity="0.6"/>
<rect x="798.4" y="3.5" width="3.91" height="1.66" fill="#ff8000" stroke="#7a7a7a" stroke-width="0.3" stroke-opacity="0.6"/>
<rect x="803.21" y="59.99" width="3.91" height="41.41" fill="#00ee00" stroke="#7a7a7a" stroke-width="0.3" stroke-opacity="0.6"/>
<rect x="803.21" y="15.54" width="3.91" height="44.45" fill="#bdf5c3" stroke="#7a7a7a" stroke-width="0.3" stroke-opacity="0.6"/>
<rect x="803.21" y="5.16" width="3.91" height="10.38" fill="#fffa87" stroke="#7a7a7a" stroke-width="0.3" stroke-opacity="0.6"/>
<rect x="803.21" y="3.5" width="3.91" height="1.66" fill="#ff8000" stroke="#7a7a7a" stroke-width="0.3" stroke-opacity="0.6"/>
<rect x="808.02" y="98.27" width="3.91" height="3.13" fill="#bdf5c3" stroke="#7a7a7a" stroke-width="0.3" stroke-opacity="0.6"/>
<rect x="808.02" y="68.31" width="3.91" height="29.96" fill="#fffa87" stroke="#7a7a7a" stroke-width="0.3" stroke-opacity="0.6"/>
<rect x="808.02" y="4.48" width="3.91" height="63.83" fill="#ff8000" stroke="#7a7a7a" stroke-width="0.3" stroke-opacity="0.6"/>
<rect x="808.02" y="3.5" width="3.91" height="0.98" fill="#3a0000" stroke="#7a7a7a" stroke-width="0.3" stroke-opacity="0.6"/>
<rect x="812.83" y="78.2" width="3.91" height="23.2" fill="#00ee00" stroke="#7a7a7a" stroke-width="0.3" stroke-opacity="0.6"/>
<rect x="812.83" y="29.54" width="3.91" height="48.66" fill="#bdf5c3" stroke="#7a7a7a" stroke-width="0.3" stroke-opacity="0.6"/>
<rect x="812.83" y="5.16" width="3.91" height="24.38" fill="#fffa87" stroke="#7a7a7a" stroke-width="0.3" stroke-opacity="0.6"/>
<rect x="812.83" y="3.5" width="3.91" height="1.66" fill="#ff8000" stroke="#7a7a7a" stroke-width="0.3" stroke-opacity="0.6"/>
<rect x="817.64" y="91.02" width="3.91" height="10.38" fill="#00ee00" stroke="#7a7a7a" stroke-width="0.3" stroke-opacity="0.6"/>
<rect x="817.64" y="11.33" width="3.91" height="79.69" fill="#bdf5c3" stroke="#7a7a7a" stroke-width="0.3" stroke-opacity="0.6"/>
<rect x="817.64" y="4.77" width="3.91" height="6.56" fill="#fffa87" stroke="#7a7a7a" stroke-width="0.3" stroke-opacity="0.6"/>
<rect x="817.64" y="3.5" width="3.91" height="1.27" fill="#ff8000" stroke="#7a7a7a" stroke-width="0.3" stroke-opacity="0.6"/>
<rect x="822.45" y="99.44" width="3.91" height="1.96" fill="#00ee00" stroke="#7a7a7a" stroke-width="0.3" stroke-opacity="0.6"/>
<rect x="822.45" y="58.52" width="3.91" height="40.92" fill="#bdf5c3" stroke="#7a7a7a" stroke-width="0.3" stroke-opacity="0.6"/>
<rect x="822.45" y="3.5" width="3.91" height="55.02" fill="#fffa87" stroke="#7a7a7a" stroke-width="0.3" stroke-opacity="0.6"/>
<rect x="827.26" y="98.27" width="3.91" height="3.13" fill="#bdf5c3" stroke="#7a7a7a" stroke-width="0.3" stroke-opacity="0.6"/>
<rect x="827.26" y="51.76" width="3.91" height="46.5" fill="#fffa87" stroke="#7a7a7a" stroke-width="0.3" stroke-opacity="0.6"/>
<rect x="827.26" y="14.86" width="3.91" height="36.91" fill="#ff8000" stroke="#7a7a7a" stroke-width="0.3" stroke-opacity="0.6"/>
<rect x="827.26" y="3.5" width="3.91" height="11.36" fill="#3a0000" stroke="#7a7a7a" stroke-width="0.3" stroke-opacity="0.6"/>
<rect x="832.07" y="89.36" width="3.91" height="12.04" fill="#00ee00" stroke="#7a7a7a" stroke-width="0.3" stroke-opacity="0.6"/>
<rect x="832.07" y="56.27" width="3.91" height="33.09" fill="#bdf5c3" stroke="#7a7a7a" stroke-width="0.3" stroke-opacity="0.6"/>
<rect x="832.07" y="18.19" width="3.91" height="38.08" fill="#fffa87" stroke="#7a7a7a" stroke-width="0.3" stroke-opacity="0.6"/>
<rect x="832.07" y="3.5" width="3.91" height="14.69" fill="#ff8000" stroke="#7a7a7a" stroke-width="0.3" stroke-opacity="0.6"/>
<rect x="836.88" y="87.99" width="3.91" height="13.41" fill="#bdf5c3" stroke="#7a7a7a" stroke-width="0.3" stroke-opacity="0.6"/>
<rect x="836.88" y="78.2" width="3.91" height="9.79" fill="#fffa87" stroke="#7a7a7a" stroke-width="0.3" stroke-opacity="0.6"/>
<rect x="836.88" y="19.65" width="3.91" height="58.54" fill="#ff8000" stroke="#7a7a7a" stroke-width="0.3" stroke-opacity="0.6"/>
<rect x="836.88" y="3.5" width="3.91" height="16.15" fill="#3a0000" stroke="#7a7a7a" stroke-width="0.3" stroke-opacity="0.6"/>
<rect x="841.69" y="99.44" width="3.91" height="1.96" fill="#00ee00" stroke="#7a7a7a" stroke-width="0.3" stroke-opacity="0.6"/>
<rect x="841.69" y="86.52" width="3.91" height="12.92" fill="#bdf5c3" stroke="#7a7a7a" stroke-width="0.3" stroke-opacity="0.6"/>
<rect x="841.69" y="58.52" width="3.91" height="28" fill="#fffa87" stroke="#7a7a7a" stroke-width="0.3" stroke-opacity="0.6"/>
<rect x="841.69" y="5.16" width="3.91" height="53.36" fill="#ff8000" stroke="#7a7a7a" stroke-width="0.3" stroke-opacity="0.6"/>
<rect x="841.69" y="3.5" width="3.91" height="1.66" fill="#3a0000" stroke="#7a7a7a" stroke-width="0.3" stroke-opacity="0.6"/>
<rect x="846.5" y="99.74" width="3.91" height="1.66" fill="#003800" stroke="#7a7a7a" stroke-width="0.3" stroke-opacity="0.6"/>
<rect x="846.5" y="83.19" width="3.91" height="16.55" fill="#00ee00" stroke="#7a7a7a" stroke-width="0.3" stroke-opacity="0.6"/>
<rect x="846.5" y="43.44" width="3.91" height="39.75" fill="#bdf5c3" stroke="#7a7a7a" stroke-width="0.3" stroke-opacity="0.6"/>
<rect x="846.5" y="14.86" width="3.91" height="28.59" fill="#fffa87" stroke="#7a7a7a" stroke-width="0.3" stroke-opacity="0.6"/>
<rect x="846.5" y="3.5" width="3.91" height="11.36" fill="#ff8000" stroke="#7a7a7a" stroke-width="0.3" stroke-opacity="0.6"/>
<rect x="851.31" y="99.74" width="3.91" height="1.66" fill="#003800" stroke="#7a7a7a" stroke-width="0.3" stroke-opacity="0.6"/>
<rect x="851.31" y="96.21" width="3.91" height="3.52" fill="#00ee00" stroke="#7a7a7a" stroke-width="0.3" stroke-opacity="0.6"/>
<rect x="851.31" y="56.27" width="3.91" height="39.94" fill="#bdf5c3" stroke="#7a7a7a" stroke-width="0.3" stroke-opacity="0.6"/>
<rect x="851.31" y="9.96" width="3.91" height="46.31" fill="#fffa87" stroke="#7a7a7a" stroke-width="0.3" stroke-opacity="0.6"/>
<rect x="851.31" y="3.5" width="3.91" height="6.46" fill="#ff8000" stroke="#7a7a7a" stroke-width="0.3" stroke-opacity="0.6"/>
<rect x="856.12" y="99.74" width="3.91" height="1.66" fill="#bdf5c3" stroke="#7a7a7a" stroke-width="0.3" stroke-opacity="0.6"/>
<rect x="856.12" y="48.63" width="3.91" height="51.1" fill="#fffa87" stroke="#7a7a7a" stroke-width="0.3" stroke-opacity="0.6"/>
<rect x="856.12" y="3.5" width="3.91" height="45.13" fill="#ff8000" stroke="#7a7a7a" stroke-width="0.3" stroke-opacity="0.6"/>
<rect x="860.93" y="72.81" width="3.91" height="28.59" fill="#bdf5c3" stroke="#7a7a7a" stroke-width="0.3" stroke-opacity="0.6"/>
<rect x="860.93" y="18.19" width="3.91" height="54.63" fill="#fffa87" stroke="#7a7a7a" stroke-width="0.3" stroke-opacity="0.6"/>
<rect x="860.93" y="3.5" width="3.91" height="14.69" fill="#ff8000" stroke="#7a7a7a" stroke-width="0.3" stroke-opacity="0.6"/>
<rect x="865.74" y="87.99" width="3.91" height="13.41" fill="#bdf5c3" stroke="#7a7a7a" stroke-width="0.3" stroke-opacity="0.6"/>
<rect x="865.74" y="26.51" width="3.91" height="61.48" fill="#fffa87" stroke="#7a7a7a" stroke-width="0.3" stroke-opacity="0.6"/>
<rect x="865.74" y="3.5" width="3.91" height="23.01" fill="#ff8000" stroke="#7a7a7a" stroke-width="0.3" stroke-opacity="0.6"/>
<rect x="870.55" y="96.21" width="3.91" height="5.19" fill="#bdf5c3" stroke="#7a7a7a" stroke-width="0.3" stroke-opacity="0.6"/>
<rect x="870.55" y="67.92" width="3.91" height="28.29" fill="#fffa87" stroke="#7a7a7a" stroke-width="0.3" stroke-opacity="0.6"/>
<rect x="870.55" y="8.3" width="3.91" height="59.62" fill="#ff8000" stroke="#7a7a7a" stroke-width="0.3" stroke-opacity="0.6"/>
<rect x="870.55" y="3.5" width="3.91" height="4.8" fill="#3a0000" stroke="#7a7a7a" stroke-width="0.3" stroke-opacity="0.6"/>
<rect x="875.36" y="96.21" width="3.91" height="5.19" fill="#bdf5c3" stroke="#7a7a7a" stroke-width="0.3" stroke-opacity="0.6"/>
<rect x="875.36" y="39.72" width="3.91" height="56.49" fill="#fffa87" stroke="#7a7a7a" stroke-width="0.3" stroke-opacity="0.6"/>
<rect x="875.36" y="6.63" width="3.91" height="33.09" fill="#ff8000" stroke="#7a7a7a" stroke-width="0.3" stroke-opacity="0.6"/>
<rect x="875.36" y="3.5" width="3.91" height="3.13" fill="#3a0000" stroke="#7a7a7a" stroke-width="0.3" stroke-opacity="0.6"/>
<rect x="880.17" y="91.02" width="3.91" height="10.38" fill="#00ee00" stroke="#7a7a7a" stroke-width="0.3" stroke-opacity="0.6"/>
<rect x="880.17" y="38.25" width="3.91" height="52.77" fill="#bdf5c3" stroke="#7a7a7a" stroke-width="0.3" stroke-opacity="0.6"/>
<rect x="880.17" y="9.96" width="3.91" height="28.29" fill="#fffa87" stroke="#7a7a7a" stroke-width="0.3" stroke-opacity="0.6"/>
<rect x="880.17" y="3.5" width="3.91" height="6.46" fill="#ff8000" stroke="#7a7a7a" stroke-width="0.3" stroke-opacity="0.6"/>
<path d="M747.1 3.5V101.4H887.17" fill="none" stroke="#a8a8a8" stroke-width="0.6"/>
<path d="M745.8 101.4h1.3M745.8 91.61h1.3M745.8 81.82h1.3M745.8 72.03h1.3M745.8 62.24h1.3M745.8 52.45h1.3M745.8 42.66h1.3M745.8 32.87h1.3M745.8 23.08h1.3M745.8 13.29h1.3M745.8 3.5h1.3M752.25 101.4v1M757.06 101.4v1M761.88 101.4v1M766.68 101.4v1M771.5 101.4v1M776.3 101.4v1M781.12 101.4v1M785.92 101.4v1M790.74 101.4v1M795.54 101.4v1M800.36 101.4v1M805.16 101.4v1M809.98 101.4v1M814.78 101.4v1M819.6 101.4v1M824.4 101.4v1M829.22 101.4v1M834.02 101.4v1M838.84 101.4v1M843.64 101.4v1M848.46 101.4v1M853.26 101.4v1M858.07 101.4v1M862.88 101.4v1M867.7 101.4v1M872.5 101.4v1M877.31 101.4v1M882.12 101.4v1M887.17 101.4v1" stroke="#a8a8a8" stroke-width="0.5"/>
<g font-family="'Liberation Sans', sans-serif" font-size="5.6" fill="#222" stroke="#222" stroke-width="0.14" text-anchor="end"><text x="745.5" y="103.4">0.0</text><text x="745.5" y="93.61">0.1</text><text x="745.5" y="83.82">0.2</text><text x="745.5" y="74.03">0.3</text><text x="745.5" y="64.24">0.4</text><text x="745.5" y="54.45">0.5</text><text x="745.5" y="44.66">0.6</text><text x="745.5" y="34.87">0.7</text><text x="745.5" y="25.08">0.8</text><text x="745.5" y="15.29">0.9</text><text x="745.5" y="5.5">1.0</text></g>
<g font-family="'Liberation Sans', sans-serif" font-size="5.6" fill="#222" stroke="#222" stroke-width="0.14" text-anchor="middle"><text x="752.25" y="108.58">82</text><text x="771.5" y="108.58">86</text><text x="790.74" y="108.58">90</text><text x="809.98" y="108.58">94</text><text x="829.22" y="108.58">98</text><text x="848.46" y="108.58">02</text><text x="867.7" y="108.58">06</text></g>
<text font-family="'Liberation Sans', sans-serif" font-size="6.8" font-weight="bold" fill="#111" text-anchor="middle" x="816.98" y="114.76">Year</text>
<text font-family="'Liberation Sans', sans-serif" font-size="6.2" font-weight="bold" fill="#111" text-anchor="middle" transform="translate(735.89 52.05) rotate(-90)">Percentage</text>
<rect x="742.05" y="118.55" width="24" height="3.8" fill="#003800"/>
<rect x="766" y="118.55" width="24" height="3.8" fill="#00ee00"/>
<rect x="789.95" y="118.55" width="24" height="3.8" fill="#bdf5c3"/>
<rect x="813.9" y="118.55" width="24" height="3.8" fill="#fffa87"/>
<rect x="837.85" y="118.55" width="24" height="3.8" fill="#ff8000"/>
<rect x="861.8" y="118.55" width="24" height="3.8" fill="#3a0000"/>
<text font-family="'Liberation Sans', sans-serif" font-size="6.1" fill="#222" stroke="#222" stroke-width="0.25" x="736.78" y="122.25" text-anchor="middle">σ</text>
<g font-family="'Liberation Sans', sans-serif" font-size="5.6" font-weight="bold" fill="#222" text-anchor="middle"><text x="765.4" y="128.65">-2</text><text x="789.35" y="128.65">-1</text><text x="813.3" y="128.65">0</text><text x="837.25" y="128.65">1</text><text x="861.2" y="128.65">2</text></g>
<rect x="20.9" y="205.6" width="135.26" height="97.3" fill="#c4c4c4"/>
<rect x="21.5" y="296.28" width="3.92" height="6.62" fill="#003800" stroke="#7a7a7a" stroke-width="0.3" stroke-opacity="0.6"/>
<rect x="21.5" y="241.99" width="3.92" height="54.29" fill="#00ee00" stroke="#7a7a7a" stroke-width="0.3" stroke-opacity="0.6"/>
<rect x="21.5" y="208.71" width="3.92" height="33.28" fill="#bdf5c3" stroke="#7a7a7a" stroke-width="0.3" stroke-opacity="0.6"/>
<rect x="21.5" y="205.6" width="3.92" height="3.11" fill="#fffa87" stroke="#7a7a7a" stroke-width="0.3" stroke-opacity="0.6"/>
<rect x="26.32" y="293.17" width="3.92" height="9.73" fill="#003800" stroke="#7a7a7a" stroke-width="0.3" stroke-opacity="0.6"/>
<rect x="26.32" y="238.97" width="3.92" height="54.2" fill="#00ee00" stroke="#7a7a7a" stroke-width="0.3" stroke-opacity="0.6"/>
<rect x="26.32" y="208.71" width="3.92" height="30.26" fill="#bdf5c3" stroke="#7a7a7a" stroke-width="0.3" stroke-opacity="0.6"/>
<rect x="26.32" y="205.6" width="3.92" height="3.11" fill="#fffa87" stroke="#7a7a7a" stroke-width="0.3" stroke-opacity="0.6"/>
<rect x="31.14" y="279.26" width="3.92" height="23.64" fill="#00ee00" stroke="#7a7a7a" stroke-width="0.3" stroke-opacity="0.6"/>
<rect x="31.14" y="225.45" width="3.92" height="53.81" fill="#bdf5c3" stroke="#7a7a7a" stroke-width="0.3" stroke-opacity="0.6"/>
<rect x="31.14" y="205.6" width="3.92" height="19.85" fill="#fffa87" stroke="#7a7a7a" stroke-width="0.3" stroke-opacity="0.6"/>
<rect x="35.96" y="289.47" width="3.92" height="13.43" fill="#00ee00" stroke="#7a7a7a" stroke-width="0.3" stroke-opacity="0.6"/>
<rect x="35.96" y="208.71" width="3.92" height="80.76" fill="#bdf5c3" stroke="#7a7a7a" stroke-width="0.3" stroke-opacity="0.6"/>
<rect x="35.96" y="205.6" width="3.92" height="3.11" fill="#fffa87" stroke="#7a7a7a" stroke-width="0.3" stroke-opacity="0.6"/>
<rect x="40.78" y="245.59" width="3.92" height="57.31" fill="#00ee00" stroke="#7a7a7a" stroke-width="0.3" stroke-opacity="0.6"/>
<rect x="40.78" y="205.6" width="3.92" height="39.99" fill="#bdf5c3" stroke="#7a7a7a" stroke-width="0.3" stroke-opacity="0.6"/>
<rect x="45.6" y="283.25" width="3.92" height="19.65" fill="#00ee00" stroke="#7a7a7a" stroke-width="0.3" stroke-opacity="0.6"/>
<rect x="45.6" y="225.45" width="3.92" height="57.8" fill="#bdf5c3" stroke="#7a7a7a" stroke-width="0.3" stroke-opacity="0.6"/>
<rect x="45.6" y="205.6" width="3.92" height="19.85" fill="#fffa87" stroke="#7a7a7a" stroke-width="0.3" stroke-opacity="0.6"/>
<rect x="50.42" y="279.26" width="3.92" height="23.64" fill="#bdf5c3" stroke="#7a7a7a" stroke-width="0.3" stroke-opacity="0.6"/>
<rect x="50.42" y="205.6" width="3.92" height="73.66" fill="#fffa87" stroke="#7a7a7a" stroke-width="0.3" stroke-opacity="0.6"/>
<rect x="55.24" y="289.47" width="3.92" height="13.43" fill="#00ee00" stroke="#7a7a7a" stroke-width="0.3" stroke-opacity="0.6"/>
<rect x="55.24" y="269.33" width="3.92" height="20.14" fill="#bdf5c3" stroke="#7a7a7a" stroke-width="0.3" stroke-opacity="0.6"/>
<rect x="55.24" y="208.71" width="3.92" height="60.62" fill="#fffa87" stroke="#7a7a7a" stroke-width="0.3" stroke-opacity="0.6"/>
<rect x="55.24" y="205.6" width="3.92" height="3.11" fill="#ff8000" stroke="#7a7a7a" stroke-width="0.3" stroke-opacity="0.6"/>
<rect x="60.06" y="255.9" width="3.92" height="47" fill="#00ee00" stroke="#7a7a7a" stroke-width="0.3" stroke-opacity="0.6"/>
<rect x="60.06" y="218.25" width="3.92" height="37.66" fill="#bdf5c3" stroke="#7a7a7a" stroke-width="0.3" stroke-opacity="0.6"/>
<rect x="60.06" y="208.71" width="3.92" height="9.54" fill="#fffa87" stroke="#7a7a7a" stroke-width="0.3" stroke-opacity="0.6"/>
<rect x="60.06" y="205.6" width="3.92" height="3.11" fill="#ff8000" stroke="#7a7a7a" stroke-width="0.3" stroke-opacity="0.6"/>
<rect x="64.88" y="262.13" width="3.92" height="40.77" fill="#bdf5c3" stroke="#7a7a7a" stroke-width="0.3" stroke-opacity="0.6"/>
<rect x="64.88" y="208.71" width="3.92" height="53.42" fill="#fffa87" stroke="#7a7a7a" stroke-width="0.3" stroke-opacity="0.6"/>
<rect x="64.88" y="205.6" width="3.92" height="3.11" fill="#3a0000" stroke="#7a7a7a" stroke-width="0.3" stroke-opacity="0.6"/>
<rect x="69.7" y="255.9" width="3.92" height="47" fill="#00ee00" stroke="#7a7a7a" stroke-width="0.3" stroke-opacity="0.6"/>
<rect x="69.7" y="208.71" width="3.92" height="47.19" fill="#bdf5c3" stroke="#7a7a7a" stroke-width="0.3" stroke-opacity="0.6"/>
<rect x="69.7" y="205.6" width="3.92" height="3.11" fill="#fffa87" stroke="#7a7a7a" stroke-width="0.3" stroke-opacity="0.6"/>
<rect x="74.52" y="296.28" width="3.92" height="6.62" fill="#003800" stroke="#7a7a7a" stroke-width="0.3" stroke-opacity="0.6"/>
<rect x="74.52" y="266.22" width="3.92" height="30.07" fill="#00ee00" stroke="#7a7a7a" stroke-width="0.3" stroke-opacity="0.6"/>
<rect x="74.52" y="215.14" width="3.92" height="51.08" fill="#bdf5c3" stroke="#7a7a7a" stroke-width="0.3" stroke-opacity="0.6"/>
<rect x="74.52" y="205.6" width="3.92" height="9.54" fill="#fffa87" stroke="#7a7a7a" stroke-width="0.3" stroke-opacity="0.6"/>
<rect x="79.34" y="266.22" width="3.92" height="36.68" fill="#bdf5c3" stroke="#7a7a7a" stroke-width="0.3" stroke-opacity="0.6"/>
<rect x="79.34" y="208.71" width="3.92" height="57.5" fill="#fffa87" stroke="#7a7a7a" stroke-width="0.3" stroke-opacity="0.6"/>
<rect x="79.34" y="205.6" width="3.92" height="3.11" fill="#ff8000" stroke="#7a7a7a" stroke-width="0.3" stroke-opacity="0.6"/>
<rect x="84.16" y="299.98" width="3.92" height="2.92" fill="#003800" stroke="#7a7a7a" stroke-width="0.3" stroke-opacity="0.6"/>
<rect x="84.16" y="296.28" width="3.92" height="3.7" fill="#00ee00" stroke="#7a7a7a" stroke-width="0.3" stroke-opacity="0.6"/>
<rect x="84.16" y="279.26" width="3.92" height="17.03" fill="#bdf5c3" stroke="#7a7a7a" stroke-width="0.3" stroke-opacity="0.6"/>
<rect x="84.16" y="218.64" width="3.92" height="60.62" fill="#fffa87" stroke="#7a7a7a" stroke-width="0.3" stroke-opacity="0.6"/>
<rect x="84.16" y="205.6" width="3.92" height="13.04" fill="#ff8000" stroke="#7a7a7a" stroke-width="0.3" stroke-opacity="0.6"/>
<rect x="88.98" y="296.28" width="3.92" height="6.62" fill="#00ee00" stroke="#7a7a7a" stroke-width="0.3" stroke-opacity="0.6"/>
<rect x="88.98" y="245.59" width="3.92" height="50.69" fill="#bdf5c3" stroke="#7a7a7a" stroke-width="0.3" stroke-opacity="0.6"/>
<rect x="88.98" y="205.6" width="3.92" height="39.99" fill="#fffa87" stroke="#7a7a7a" stroke-width="0.3" stroke-opacity="0.6"/>
<rect x="93.8" y="283.25" width="3.92" height="19.65" fill="#003800" stroke="#7a7a7a" stroke-width="0.3" stroke-opacity="0.6"/>
<rect x="93.8" y="225.45" width="3.92" height="57.8" fill="#00ee00" stroke="#7a7a7a" stroke-width="0.3" stroke-opacity="0.6"/>
<rect x="93.8" y="215.14" width="3.92" height="10.31" fill="#bdf5c3" stroke="#7a7a7a" stroke-width="0.3" stroke-opacity="0.6"/>
<rect x="93.8" y="205.6" width="3.92" height="9.54" fill="#fffa87" stroke="#7a7a7a" stroke-width="0.3" stroke-opacity="0.6"/>
<rect x="98.62" y="299.4" width="3.92" height="3.5" fill="#bdf5c3" stroke="#7a7a7a" stroke-width="0.3" stroke-opacity="0.6"/>
<rect x="98.62" y="266.22" width="3.92" height="33.18" fill="#fffa87" stroke="#7a7a7a" stroke-width="0.3" stroke-opacity="0.6"/>
<rect x="98.62" y="218.64" width="3.92" height="47.58" fill="#ff8000" stroke="#7a7a7a" stroke-width="0.3" stroke-opacity="0.6"/>
<rect x="98.62" y="205.6" width="3.92" height="13.04" fill="#3a0000" stroke="#7a7a7a" stroke-width="0.3" stroke-opacity="0.6"/>
<rect x="103.44" y="293.17" width="3.92" height="9.73" fill="#bdf5c3" stroke="#7a7a7a" stroke-width="0.3" stroke-opacity="0.6"/>
<rect x="103.44" y="238.97" width="3.92" height="54.2" fill="#fffa87" stroke="#7a7a7a" stroke-width="0.3" stroke-opacity="0.6"/>
<rect x="103.44" y="205.6" width="3.92" height="33.37" fill="#ff8000" stroke="#7a7a7a" stroke-width="0.3" stroke-opacity="0.6"/>
<rect x="108.26" y="272.45" width="3.92" height="30.45" fill="#bdf5c3" stroke="#7a7a7a" stroke-width="0.3" stroke-opacity="0.6"/>
<rect x="108.26" y="218.64" width="3.92" height="53.81" fill="#fffa87" stroke="#7a7a7a" stroke-width="0.3" stroke-opacity="0.6"/>
<rect x="108.26" y="205.6" width="3.92" height="13.04" fill="#ff8000" stroke="#7a7a7a" stroke-width="0.3" stroke-opacity="0.6"/>
<rect x="113.08" y="286.55" width="3.92" height="16.35" fill="#bdf5c3" stroke="#7a7a7a" stroke-width="0.3" stroke-opacity="0.6"/>
<rect x="113.08" y="218.64" width="3.92" height="67.92" fill="#fffa87" stroke="#7a7a7a" stroke-width="0.3" stroke-opacity="0.6"/>
<rect x="113.08" y="205.6" width="3.92" height="13.04" fill="#ff8000" stroke="#7a7a7a" stroke-width="0.3" stroke-opacity="0.6"/>
<rect x="117.9" y="269.33" width="3.92" height="33.57" fill="#bdf5c3" stroke="#7a7a7a" stroke-width="0.3" stroke-opacity="0.6"/>
<rect x="117.9" y="208.71" width="3.92" height="60.62" fill="#fffa87" stroke="#7a7a7a" stroke-width="0.3" stroke-opacity="0.6"/>
<rect x="117.9" y="205.6" width="3.92" height="3.11" fill="#ff8000" stroke="#7a7a7a" stroke-width="0.3" stroke-opacity="0.6"/>
<rect x="122.72" y="299.98" width="3.92" height="2.92" fill="#00ee00" stroke="#7a7a7a" stroke-width="0.3" stroke-opacity="0.6"/>
<rect x="122.72" y="286.55" width="3.92" height="13.43" fill="#bdf5c3" stroke="#7a7a7a" stroke-width="0.3" stroke-opacity="0.6"/>
<rect x="122.72" y="218.64" width="3.92" height="67.92" fill="#fffa87" stroke="#7a7a7a" stroke-width="0.3" stroke-opacity="0.6"/>
<rect x="122.72" y="205.6" width="3.92" height="13.04" fill="#ff8000" stroke="#7a7a7a" stroke-width="0.3" stroke-opacity="0.6"/>
<rect x="127.54" y="299.98" width="3.92" height="2.92" fill="#00ee00" stroke="#7a7a7a" stroke-width="0.3" stroke-opacity="0.6"/>
<rect x="127.54" y="262.13" width="3.92" height="37.85" fill="#bdf5c3" stroke="#7a7a7a" stroke-width="0.3" stroke-opacity="0.6"/>
<rect x="127.54" y="208.71" width="3.92" height="53.42" fill="#fffa87" stroke="#7a7a7a" stroke-width="0.3" stroke-opacity="0.6"/>
<rect x="127.54" y="205.6" width="3.92" height="3.11" fill="#ff8000" stroke="#7a7a7a" stroke-width="0.3" stroke-opacity="0.6"/>
<rect x="132.36" y="296.28" width="3.92" height="6.62" fill="#bdf5c3" stroke="#7a7a7a" stroke-width="0.3" stroke-opacity="0.6"/>
<rect x="132.36" y="255.51" width="3.92" height="40.77" fill="#fffa87" stroke="#7a7a7a" stroke-width="0.3" stroke-opacity="0.6"/>
<rect x="132.36" y="205.6" width="3.92" height="49.91" fill="#ff8000" stroke="#7a7a7a" stroke-width="0.3" stroke-opacity="0.6"/>
<rect x="137.18" y="286.55" width="3.92" height="16.35" fill="#fffa87" stroke="#7a7a7a" stroke-width="0.3" stroke-opacity="0.6"/>
<rect x="137.18" y="205.6" width="3.92" height="80.95" fill="#ff8000" stroke="#7a7a7a" stroke-width="0.3" stroke-opacity="0.6"/>
<rect x="142" y="290.06" width="3.92" height="12.84" fill="#fffa87" stroke="#7a7a7a" stroke-width="0.3" stroke-opacity="0.6"/>
<rect x="142" y="215.14" width="3.92" height="74.92" fill="#ff8000" stroke="#7a7a7a" stroke-width="0.3" stroke-opacity="0.6"/>
<rect x="142" y="205.6" width="3.92" height="9.54" fill="#3a0000" stroke="#7a7a7a" stroke-width="0.3" stroke-opacity="0.6"/>
<rect x="146.82" y="262.13" width="3.92" height="40.77" fill="#bdf5c3" stroke="#7a7a7a" stroke-width="0.3" stroke-opacity="0.6"/>
<rect x="146.82" y="215.14" width="3.92" height="47" fill="#fffa87" stroke="#7a7a7a" stroke-width="0.3" stroke-opacity="0.6"/>
<rect x="146.82" y="205.6" width="3.92" height="9.54" fill="#ff8000" stroke="#7a7a7a" stroke-width="0.3" stroke-opacity="0.6"/>
<rect x="151.64" y="299.4" width="3.92" height="3.5" fill="#bdf5c3" stroke="#7a7a7a" stroke-width="0.3" stroke-opacity="0.6"/>
<rect x="151.64" y="290.06" width="3.92" height="9.34" fill="#fffa87" stroke="#7a7a7a" stroke-width="0.3" stroke-opacity="0.6"/>
<rect x="151.64" y="215.14" width="3.92" height="74.92" fill="#ff8000" stroke="#7a7a7a" stroke-width="0.3" stroke-opacity="0.6"/>
<rect x="151.64" y="205.6" width="3.92" height="9.54" fill="#3a0000" stroke="#7a7a7a" stroke-width="0.3" stroke-opacity="0.6"/>
<path d="M18.3 205.6V302.9H158.65" fill="none" stroke="#a8a8a8" stroke-width="0.6"/>
<path d="M17 302.9h1.3M17 293.17h1.3M17 283.44h1.3M17 273.71h1.3M17 263.98h1.3M17 254.25h1.3M17 244.52h1.3M17 234.79h1.3M17 225.06h1.3M17 215.33h1.3M17 205.6h1.3M23.46 302.9v1M28.28 302.9v1M33.1 302.9v1M37.92 302.9v1M42.74 302.9v1M47.56 302.9v1M52.38 302.9v1M57.2 302.9v1M62.02 302.9v1M66.84 302.9v1M71.66 302.9v1M76.48 302.9v1M81.3 302.9v1M86.12 302.9v1M90.94 302.9v1M95.76 302.9v1M100.58 302.9v1M105.4 302.9v1M110.22 302.9v1M115.04 302.9v1M119.86 302.9v1M124.68 302.9v1M129.5 302.9v1M134.32 302.9v1M139.14 302.9v1M143.96 302.9v1M148.78 302.9v1M153.6 302.9v1M158.65 302.9v1" stroke="#a8a8a8" stroke-width="0.5"/>
<g font-family="'Liberation Sans', sans-serif" font-size="5.6" fill="#222" stroke="#222" stroke-width="0.14" text-anchor="end"><text x="16.7" y="304.9">0.0</text><text x="16.7" y="295.17">0.1</text><text x="16.7" y="285.44">0.2</text><text x="16.7" y="275.71">0.3</text><text x="16.7" y="265.98">0.4</text><text x="16.7" y="256.25">0.5</text><text x="16.7" y="246.52">0.6</text><text x="16.7" y="236.79">0.7</text><text x="16.7" y="227.06">0.8</text><text x="16.7" y="217.33">0.9</text><text x="16.7" y="207.6">1.0</text></g>
<g font-family="'Liberation Sans', sans-serif" font-size="5.6" fill="#222" stroke="#222" stroke-width="0.14" text-anchor="middle"><text x="23.46" y="310.03">82</text><text x="42.74" y="310.03">86</text><text x="62.02" y="310.03">90</text><text x="81.3" y="310.03">94</text><text x="100.58" y="310.03">98</text><text x="119.86" y="310.03">02</text><text x="139.14" y="310.03">06</text></g>
<text font-family="'Liberation Sans', sans-serif" font-size="6.8" font-weight="bold" fill="#111" text-anchor="middle" x="88.32" y="316.18">Year</text>
<text font-family="'Liberation Sans', sans-serif" font-size="6.2" font-weight="bold" fill="#111" text-anchor="middle" transform="translate(7.06 253.85) rotate(-90)">Percentage</text>
<rect x="13.23" y="319.94" width="24.05" height="3.8" fill="#003800"/>
<rect x="37.23" y="319.94" width="24.05" height="3.8" fill="#00ee00"/>
<rect x="61.24" y="319.94" width="24.05" height="3.8" fill="#bdf5c3"/>
<rect x="85.24" y="319.94" width="24.05" height="3.8" fill="#fffa87"/>
<rect x="109.24" y="319.94" width="24.05" height="3.8" fill="#ff8000"/>
<rect x="133.24" y="319.94" width="24.05" height="3.8" fill="#3a0000"/>
<text font-family="'Liberation Sans', sans-serif" font-size="6.1" fill="#222" stroke="#222" stroke-width="0.25" x="7.96" y="323.64" text-anchor="middle">σ</text>
<g font-family="'Liberation Sans', sans-serif" font-size="5.6" font-weight="bold" fill="#222" text-anchor="middle"><text x="36.63" y="330.04">-2</text><text x="60.64" y="330.04">-1</text><text x="84.64" y="330.04">0</text><text x="108.64" y="330.04">1</text><text x="132.64" y="330.04">2</text></g>
<rect x="749.8" y="203.7" width="135.26" height="97.9" fill="#c4c4c4"/>
<rect x="750.4" y="267.04" width="3.92" height="34.56" fill="#00ee00" stroke="#7a7a7a" stroke-width="0.3" stroke-opacity="0.6"/>
<rect x="750.4" y="203.7" width="3.92" height="63.34" fill="#bdf5c3" stroke="#7a7a7a" stroke-width="0.3" stroke-opacity="0.6"/>
<rect x="755.22" y="298.08" width="3.92" height="3.52" fill="#00ee00" stroke="#7a7a7a" stroke-width="0.3" stroke-opacity="0.6"/>
<rect x="755.22" y="212.02" width="3.92" height="86.05" fill="#bdf5c3" stroke="#7a7a7a" stroke-width="0.3" stroke-opacity="0.6"/>
<rect x="755.22" y="203.7" width="3.92" height="8.32" fill="#fffa87" stroke="#7a7a7a" stroke-width="0.3" stroke-opacity="0.6"/>
<rect x="760.04" y="289.56" width="3.92" height="12.04" fill="#003800" stroke="#7a7a7a" stroke-width="0.3" stroke-opacity="0.6"/>
<rect x="760.04" y="227.69" width="3.92" height="61.87" fill="#00ee00" stroke="#7a7a7a" stroke-width="0.3" stroke-opacity="0.6"/>
<rect x="760.04" y="203.7" width="3.92" height="23.99" fill="#bdf5c3" stroke="#7a7a7a" stroke-width="0.3" stroke-opacity="0.6"/>
<rect x="764.86" y="234.34" width="3.92" height="67.26" fill="#00ee00" stroke="#7a7a7a" stroke-width="0.3" stroke-opacity="0.6"/>
<rect x="764.86" y="203.7" width="3.92" height="30.64" fill="#bdf5c3" stroke="#7a7a7a" stroke-width="0.3" stroke-opacity="0.6"/>
<rect x="769.68" y="250.3" width="3.92" height="51.3" fill="#00ee00" stroke="#7a7a7a" stroke-width="0.3" stroke-opacity="0.6"/>
<rect x="769.68" y="203.7" width="3.92" height="46.6" fill="#bdf5c3" stroke="#7a7a7a" stroke-width="0.3" stroke-opacity="0.6"/>
<rect x="774.5" y="267.04" width="3.92" height="34.56" fill="#00ee00" stroke="#7a7a7a" stroke-width="0.3" stroke-opacity="0.6"/>
<rect x="774.5" y="217.41" width="3.92" height="49.64" fill="#bdf5c3" stroke="#7a7a7a" stroke-width="0.3" stroke-opacity="0.6"/>
<rect x="774.5" y="203.7" width="3.92" height="13.71" fill="#fffa87" stroke="#7a7a7a" stroke-width="0.3" stroke-opacity="0.6"/>
<rect x="779.32" y="239.53" width="3.92" height="62.07" fill="#00ee00" stroke="#7a7a7a" stroke-width="0.3" stroke-opacity="0.6"/>
<rect x="779.32" y="203.7" width="3.92" height="35.83" fill="#bdf5c3" stroke="#7a7a7a" stroke-width="0.3" stroke-opacity="0.6"/>
<rect x="784.14" y="300.13" width="3.92" height="1.47" fill="#003800" stroke="#7a7a7a" stroke-width="0.3" stroke-opacity="0.6"/>
<rect x="784.14" y="253.34" width="3.92" height="46.8" fill="#00ee00" stroke="#7a7a7a" stroke-width="0.3" stroke-opacity="0.6"/>
<rect x="784.14" y="203.7" width="3.92" height="49.64" fill="#bdf5c3" stroke="#7a7a7a" stroke-width="0.3" stroke-opacity="0.6"/>
<rect x="788.96" y="265.38" width="3.92" height="36.22" fill="#bdf5c3" stroke="#7a7a7a" stroke-width="0.3" stroke-opacity="0.6"/>
<rect x="788.96" y="203.7" width="3.92" height="61.68" fill="#fffa87" stroke="#7a7a7a" stroke-width="0.3" stroke-opacity="0.6"/>
<rect x="793.78" y="275.75" width="3.92" height="25.85" fill="#00ee00" stroke="#7a7a7a" stroke-width="0.3" stroke-opacity="0.6"/>
<rect x="793.78" y="224.36" width="3.92" height="51.4" fill="#bdf5c3" stroke="#7a7a7a" stroke-width="0.3" stroke-opacity="0.6"/>
<rect x="793.78" y="203.7" width="3.92" height="20.66" fill="#fffa87" stroke="#7a7a7a" stroke-width="0.3" stroke-opacity="0.6"/>
<rect x="798.6" y="253.34" width="3.92" height="48.26" fill="#00ee00" stroke="#7a7a7a" stroke-width="0.3" stroke-opacity="0.6"/>
<rect x="798.6" y="203.7" width="3.92" height="49.64" fill="#bdf5c3" stroke="#7a7a7a" stroke-width="0.3" stroke-opacity="0.6"/>
<rect x="803.42" y="269.1" width="3.92" height="32.5" fill="#00ee00" stroke="#7a7a7a" stroke-width="0.3" stroke-opacity="0.6"/>
<rect x="803.42" y="207.03" width="3.92" height="62.07" fill="#bdf5c3" stroke="#7a7a7a" stroke-width="0.3" stroke-opacity="0.6"/>
<rect x="803.42" y="203.7" width="3.92" height="3.33" fill="#fffa87" stroke="#7a7a7a" stroke-width="0.3" stroke-opacity="0.6"/>
<rect x="808.24" y="292.79" width="3.92" height="8.81" fill="#bdf5c3" stroke="#7a7a7a" stroke-width="0.3" stroke-opacity="0.6"/>
<rect x="808.24" y="231.21" width="3.92" height="61.58" fill="#fffa87" stroke="#7a7a7a" stroke-width="0.3" stroke-opacity="0.6"/>
<rect x="808.24" y="203.7" width="3.92" height="27.51" fill="#ff8000" stroke="#7a7a7a" stroke-width="0.3" stroke-opacity="0.6"/>
<rect x="813.06" y="291.22" width="3.92" height="10.38" fill="#00ee00" stroke="#7a7a7a" stroke-width="0.3" stroke-opacity="0.6"/>
<rect x="813.06" y="217.41" width="3.92" height="73.82" fill="#bdf5c3" stroke="#7a7a7a" stroke-width="0.3" stroke-opacity="0.6"/>
<rect x="813.06" y="203.7" width="3.92" height="13.71" fill="#fffa87" stroke="#7a7a7a" stroke-width="0.3" stroke-opacity="0.6"/>
<rect x="817.88" y="289.56" width="3.92" height="12.04" fill="#00ee00" stroke="#7a7a7a" stroke-width="0.3" stroke-opacity="0.6"/>
<rect x="817.88" y="205.36" width="3.92" height="84.19" fill="#bdf5c3" stroke="#7a7a7a" stroke-width="0.3" stroke-opacity="0.6"/>
<rect x="817.88" y="203.7" width="3.92" height="1.66" fill="#fffa87" stroke="#7a7a7a" stroke-width="0.3" stroke-opacity="0.6"/>
<rect x="822.7" y="300.13" width="3.92" height="1.47" fill="#00ee00" stroke="#7a7a7a" stroke-width="0.3" stroke-opacity="0.6"/>
<rect x="822.7" y="262.93" width="3.92" height="37.2" fill="#bdf5c3" stroke="#7a7a7a" stroke-width="0.3" stroke-opacity="0.6"/>
<rect x="822.7" y="205.36" width="3.92" height="57.57" fill="#fffa87" stroke="#7a7a7a" stroke-width="0.3" stroke-opacity="0.6"/>
<rect x="822.7" y="203.7" width="3.92" height="1.66" fill="#ff8000" stroke="#7a7a7a" stroke-width="0.3" stroke-opacity="0.6"/>
<rect x="827.52" y="290.24" width="3.92" height="11.36" fill="#fffa87" stroke="#7a7a7a" stroke-width="0.3" stroke-opacity="0.6"/>
<rect x="827.52" y="220.93" width="3.92" height="69.31" fill="#ff8000" stroke="#7a7a7a" stroke-width="0.3" stroke-opacity="0.6"/>
<rect x="827.52" y="203.7" width="3.92" height="17.23" fill="#3a0000" stroke="#7a7a7a" stroke-width="0.3" stroke-opacity="0.6"/>
<rect x="832.34" y="260.87" width="3.92" height="40.73" fill="#bdf5c3" stroke="#7a7a7a" stroke-width="0.3" stroke-opacity="0.6"/>
<rect x="832.34" y="208.5" width="3.92" height="52.38" fill="#fffa87" stroke="#7a7a7a" stroke-width="0.3" stroke-opacity="0.6"/>
<rect x="832.34" y="203.7" width="3.92" height="4.8" fill="#ff8000" stroke="#7a7a7a" stroke-width="0.3" stroke-opacity="0.6"/>
<rect x="837.16" y="289.85" width="3.92" height="11.75" fill="#bdf5c3" stroke="#7a7a7a" stroke-width="0.3" stroke-opacity="0.6"/>
<rect x="837.16" y="210.55" width="3.92" height="79.3" fill="#fffa87" stroke="#7a7a7a" stroke-width="0.3" stroke-opacity="0.6"/>
<rect x="837.16" y="203.7" width="3.92" height="6.85" fill="#ff8000" stroke="#7a7a7a" stroke-width="0.3" stroke-opacity="0.6"/>
<rect x="841.98" y="287.7" width="3.92" height="13.9" fill="#bdf5c3" stroke="#7a7a7a" stroke-width="0.3" stroke-opacity="0.6"/>
<rect x="841.98" y="215.74" width="3.92" height="71.96" fill="#fffa87" stroke="#7a7a7a" stroke-width="0.3" stroke-opacity="0.6"/>
<rect x="841.98" y="203.7" width="3.92" height="12.04" fill="#ff8000" stroke="#7a7a7a" stroke-width="0.3" stroke-opacity="0.6"/>
<rect x="846.8" y="300.62" width="3.92" height="0.98" fill="#bdf5c3" stroke="#7a7a7a" stroke-width="0.3" stroke-opacity="0.6"/>
<rect x="846.8" y="256.66" width="3.92" height="43.96" fill="#fffa87" stroke="#7a7a7a" stroke-width="0.3" stroke-opacity="0.6"/>
<rect x="846.8" y="208.5" width="3.92" height="48.17" fill="#ff8000" stroke="#7a7a7a" stroke-width="0.3" stroke-opacity="0.6"/>
<rect x="846.8" y="203.7" width="3.92" height="4.8" fill="#3a0000" stroke="#7a7a7a" stroke-width="0.3" stroke-opacity="0.6"/>
<rect x="851.62" y="300.13" width="3.92" height="1.47" fill="#00ee00" stroke="#7a7a7a" stroke-width="0.3" stroke-opacity="0.6"/>
<rect x="851.62" y="286.03" width="3.92" height="14.1" fill="#bdf5c3" stroke="#7a7a7a" stroke-width="0.3" stroke-opacity="0.6"/>
<rect x="851.62" y="241.59" width="3.92" height="44.45" fill="#fffa87" stroke="#7a7a7a" stroke-width="0.3" stroke-opacity="0.6"/>
<rect x="851.62" y="207.03" width="3.92" height="34.56" fill="#ff8000" stroke="#7a7a7a" stroke-width="0.3" stroke-opacity="0.6"/>
<rect x="851.62" y="203.7" width="3.92" height="3.33" fill="#3a0000" stroke="#7a7a7a" stroke-width="0.3" stroke-opacity="0.6"/>
<rect x="856.44" y="289.85" width="3.92" height="11.75" fill="#bdf5c3" stroke="#7a7a7a" stroke-width="0.3" stroke-opacity="0.6"/>
<rect x="856.44" y="249.81" width="3.92" height="40.04" fill="#fffa87" stroke="#7a7a7a" stroke-width="0.3" stroke-opacity="0.6"/>
<rect x="856.44" y="203.7" width="3.92" height="46.11" fill="#ff8000" stroke="#7a7a7a" stroke-width="0.3" stroke-opacity="0.6"/>
<rect x="861.26" y="300.13" width="3.92" height="1.47" fill="#00ee00" stroke="#7a7a7a" stroke-width="0.3" stroke-opacity="0.6"/>
<rect x="861.26" y="284.47" width="3.92" height="15.66" fill="#bdf5c3" stroke="#7a7a7a" stroke-width="0.3" stroke-opacity="0.6"/>
<rect x="861.26" y="231.21" width="3.92" height="53.26" fill="#fffa87" stroke="#7a7a7a" stroke-width="0.3" stroke-opacity="0.6"/>
<rect x="861.26" y="203.7" width="3.92" height="27.51" fill="#ff8000" stroke="#7a7a7a" stroke-width="0.3" stroke-opacity="0.6"/>
<rect x="866.08" y="300.13" width="3.92" height="1.47" fill="#bdf5c3" stroke="#7a7a7a" stroke-width="0.3" stroke-opacity="0.6"/>
<rect x="866.08" y="270.96" width="3.92" height="29.17" fill="#fffa87" stroke="#7a7a7a" stroke-width="0.3" stroke-opacity="0.6"/>
<rect x="866.08" y="207.03" width="3.92" height="63.93" fill="#ff8000" stroke="#7a7a7a" stroke-width="0.3" stroke-opacity="0.6"/>
<rect x="866.08" y="203.7" width="3.92" height="3.33" fill="#3a0000" stroke="#7a7a7a" stroke-width="0.3" stroke-opacity="0.6"/>
<rect x="870.9" y="287.7" width="3.92" height="13.9" fill="#fffa87" stroke="#7a7a7a" stroke-width="0.3" stroke-opacity="0.6"/>
<rect x="870.9" y="215.74" width="3.92" height="71.96" fill="#ff8000" stroke="#7a7a7a" stroke-width="0.3" stroke-opacity="0.6"/>
<rect x="870.9" y="203.7" width="3.92" height="12.04" fill="#3a0000" stroke="#7a7a7a" stroke-width="0.3" stroke-opacity="0.6"/>
<rect x="875.72" y="294.75" width="3.92" height="6.85" fill="#bdf5c3" stroke="#7a7a7a" stroke-width="0.3" stroke-opacity="0.6"/>
<rect x="875.72" y="239.53" width="3.92" height="55.22" fill="#fffa87" stroke="#7a7a7a" stroke-width="0.3" stroke-opacity="0.6"/>
<rect x="875.72" y="205.36" width="3.92" height="34.17" fill="#ff8000" stroke="#7a7a7a" stroke-width="0.3" stroke-opacity="0.6"/>
<rect x="875.72" y="203.7" width="3.92" height="1.66" fill="#3a0000" stroke="#7a7a7a" stroke-width="0.3" stroke-opacity="0.6"/>
<rect x="880.54" y="298.08" width="3.92" height="3.52" fill="#bdf5c3" stroke="#7a7a7a" stroke-width="0.3" stroke-opacity="0.6"/>
<rect x="880.54" y="255.49" width="3.92" height="42.59" fill="#fffa87" stroke="#7a7a7a" stroke-width="0.3" stroke-opacity="0.6"/>
<rect x="880.54" y="205.36" width="3.92" height="50.12" fill="#ff8000" stroke="#7a7a7a" stroke-width="0.3" stroke-opacity="0.6"/>
<rect x="880.54" y="203.7" width="3.92" height="1.66" fill="#3a0000" stroke="#7a7a7a" stroke-width="0.3" stroke-opacity="0.6"/>
<path d="M747.2 203.7V301.6H887.55" fill="none" stroke="#a8a8a8" stroke-width="0.6"/>
<path d="M745.9 301.6h1.3M745.9 291.81h1.3M745.9 282.02h1.3M745.9 272.23h1.3M745.9 262.44h1.3M745.9 252.65h1.3M745.9 242.86h1.3M745.9 233.07h1.3M745.9 223.28h1.3M745.9 213.49h1.3M745.9 203.7h1.3M752.36 301.6v1M757.18 301.6v1M762 301.6v1M766.82 301.6v1M771.64 301.6v1M776.46 301.6v1M781.28 301.6v1M786.1 301.6v1M790.92 301.6v1M795.74 301.6v1M800.56 301.6v1M805.38 301.6v1M810.2 301.6v1M815.02 301.6v1M819.84 301.6v1M824.66 301.6v1M829.48 301.6v1M834.3 301.6v1M839.12 301.6v1M843.94 301.6v1M848.76 301.6v1M853.58 301.6v1M858.4 301.6v1M863.22 301.6v1M868.04 301.6v1M872.86 301.6v1M877.68 301.6v1M882.5 301.6v1M887.55 301.6v1" stroke="#a8a8a8" stroke-width="0.5"/>
<g font-family="'Liberation Sans', sans-serif" font-size="5.6" fill="#222" stroke="#222" stroke-width="0.14" text-anchor="end"><text x="745.6" y="303.6">0.0</text><text x="745.6" y="293.81">0.1</text><text x="745.6" y="284.02">0.2</text><text x="745.6" y="274.23">0.3</text><text x="745.6" y="264.44">0.4</text><text x="745.6" y="254.65">0.5</text><text x="745.6" y="244.86">0.6</text><text x="745.6" y="235.07">0.7</text><text x="745.6" y="225.28">0.8</text><text x="745.6" y="215.49">0.9</text><text x="745.6" y="205.7">1.0</text></g>
<g font-family="'Liberation Sans', sans-serif" font-size="5.6" fill="#222" stroke="#222" stroke-width="0.14" text-anchor="middle"><text x="752.36" y="308.78">82</text><text x="771.64" y="308.78">86</text><text x="790.92" y="308.78">90</text><text x="810.2" y="308.78">94</text><text x="829.48" y="308.78">98</text><text x="848.76" y="308.78">02</text><text x="868.04" y="308.78">06</text></g>
<text font-family="'Liberation Sans', sans-serif" font-size="6.8" font-weight="bold" fill="#111" text-anchor="middle" x="817.22" y="314.96">Year</text>
<text font-family="'Liberation Sans', sans-serif" font-size="6.2" font-weight="bold" fill="#111" text-anchor="middle" transform="translate(735.96 252.25) rotate(-90)">Percentage</text>
<rect x="742.13" y="318.75" width="24.05" height="3.8" fill="#003800"/>
<rect x="766.13" y="318.75" width="24.05" height="3.8" fill="#00ee00"/>
<rect x="790.14" y="318.75" width="24.05" height="3.8" fill="#bdf5c3"/>
<rect x="814.14" y="318.75" width="24.05" height="3.8" fill="#fffa87"/>
<rect x="838.14" y="318.75" width="24.05" height="3.8" fill="#ff8000"/>
<rect x="862.14" y="318.75" width="24.05" height="3.8" fill="#3a0000"/>
<text font-family="'Liberation Sans', sans-serif" font-size="6.1" fill="#222" stroke="#222" stroke-width="0.25" x="736.86" y="322.45" text-anchor="middle">σ</text>
<g font-family="'Liberation Sans', sans-serif" font-size="5.6" font-weight="bold" fill="#222" text-anchor="middle"><text x="765.53" y="328.85">-2</text><text x="789.54" y="328.85">-1</text><text x="813.54" y="328.85">0</text><text x="837.54" y="328.85">1</text><text x="861.54" y="328.85">2</text></g>
<rect x="21.1" y="403.6" width="134.98" height="96.9" fill="#c4c4c4"/>
<rect x="21.7" y="499.05" width="3.91" height="1.45" fill="#003800" stroke="#7a7a7a" stroke-width="0.3" stroke-opacity="0.6"/>
<rect x="21.7" y="438.39" width="3.91" height="60.66" fill="#00ee00" stroke="#7a7a7a" stroke-width="0.3" stroke-opacity="0.6"/>
<rect x="21.7" y="407.28" width="3.91" height="31.1" fill="#bdf5c3" stroke="#7a7a7a" stroke-width="0.3" stroke-opacity="0.6"/>
<rect x="21.7" y="403.6" width="3.91" height="3.68" fill="#fffa87" stroke="#7a7a7a" stroke-width="0.3" stroke-opacity="0.6"/>
<rect x="26.51" y="477.73" width="3.91" height="22.77" fill="#00ee00" stroke="#7a7a7a" stroke-width="0.3" stroke-opacity="0.6"/>
<rect x="26.51" y="433.25" width="3.91" height="44.48" fill="#bdf5c3" stroke="#7a7a7a" stroke-width="0.3" stroke-opacity="0.6"/>
<rect x="26.51" y="409.41" width="3.91" height="23.84" fill="#fffa87" stroke="#7a7a7a" stroke-width="0.3" stroke-opacity="0.6"/>
<rect x="26.51" y="403.6" width="3.91" height="5.81" fill="#ff8000" stroke="#7a7a7a" stroke-width="0.3" stroke-opacity="0.6"/>
<rect x="31.32" y="491.2" width="3.91" height="9.3" fill="#003800" stroke="#7a7a7a" stroke-width="0.3" stroke-opacity="0.6"/>
<rect x="31.32" y="449.34" width="3.91" height="41.86" fill="#00ee00" stroke="#7a7a7a" stroke-width="0.3" stroke-opacity="0.6"/>
<rect x="31.32" y="408.35" width="3.91" height="40.99" fill="#bdf5c3" stroke="#7a7a7a" stroke-width="0.3" stroke-opacity="0.6"/>
<rect x="31.32" y="403.6" width="3.91" height="4.75" fill="#fffa87" stroke="#7a7a7a" stroke-width="0.3" stroke-opacity="0.6"/>
<rect x="36.13" y="457.48" width="3.91" height="43.02" fill="#00ee00" stroke="#7a7a7a" stroke-width="0.3" stroke-opacity="0.6"/>
<rect x="36.13" y="405.05" width="3.91" height="52.42" fill="#bdf5c3" stroke="#7a7a7a" stroke-width="0.3" stroke-opacity="0.6"/>
<rect x="36.13" y="403.6" width="3.91" height="1.45" fill="#fffa87" stroke="#7a7a7a" stroke-width="0.3" stroke-opacity="0.6"/>
<rect x="40.94" y="441.1" width="3.91" height="59.4" fill="#00ee00" stroke="#7a7a7a" stroke-width="0.3" stroke-opacity="0.6"/>
<rect x="40.94" y="405.63" width="3.91" height="35.47" fill="#bdf5c3" stroke="#7a7a7a" stroke-width="0.3" stroke-opacity="0.6"/>
<rect x="40.94" y="403.6" width="3.91" height="2.03" fill="#fffa87" stroke="#7a7a7a" stroke-width="0.3" stroke-opacity="0.6"/>
<rect x="45.75" y="497.4" width="3.91" height="3.1" fill="#00ee00" stroke="#7a7a7a" stroke-width="0.3" stroke-opacity="0.6"/>
<rect x="45.75" y="464.26" width="3.91" height="33.14" fill="#bdf5c3" stroke="#7a7a7a" stroke-width="0.3" stroke-opacity="0.6"/>
<rect x="45.75" y="415.62" width="3.91" height="48.64" fill="#fffa87" stroke="#7a7a7a" stroke-width="0.3" stroke-opacity="0.6"/>
<rect x="45.75" y="404.57" width="3.91" height="11.05" fill="#ff8000" stroke="#7a7a7a" stroke-width="0.3" stroke-opacity="0.6"/>
<rect x="45.75" y="403.6" width="3.91" height="0.97" fill="#3a0000" stroke="#7a7a7a" stroke-width="0.3" stroke-opacity="0.6"/>
<rect x="50.56" y="493.72" width="3.91" height="6.78" fill="#00ee00" stroke="#7a7a7a" stroke-width="0.3" stroke-opacity="0.6"/>
<rect x="50.56" y="441.1" width="3.91" height="52.62" fill="#bdf5c3" stroke="#7a7a7a" stroke-width="0.3" stroke-opacity="0.6"/>
<rect x="50.56" y="408.74" width="3.91" height="32.36" fill="#fffa87" stroke="#7a7a7a" stroke-width="0.3" stroke-opacity="0.6"/>
<rect x="50.56" y="403.6" width="3.91" height="5.14" fill="#ff8000" stroke="#7a7a7a" stroke-width="0.3" stroke-opacity="0.6"/>
<rect x="55.37" y="451.86" width="3.91" height="48.64" fill="#00ee00" stroke="#7a7a7a" stroke-width="0.3" stroke-opacity="0.6"/>
<rect x="55.37" y="408.74" width="3.91" height="43.12" fill="#bdf5c3" stroke="#7a7a7a" stroke-width="0.3" stroke-opacity="0.6"/>
<rect x="55.37" y="404.57" width="3.91" height="4.17" fill="#fffa87" stroke="#7a7a7a" stroke-width="0.3" stroke-opacity="0.6"/>
<rect x="55.37" y="403.6" width="3.91" height="0.97" fill="#ff8000" stroke="#7a7a7a" stroke-width="0.3" stroke-opacity="0.6"/>
<rect x="60.18" y="497.59" width="3.91" height="2.91" fill="#003800" stroke="#7a7a7a" stroke-width="0.3" stroke-opacity="0.6"/>
<rect x="60.18" y="479.18" width="3.91" height="18.41" fill="#00ee00" stroke="#7a7a7a" stroke-width="0.3" stroke-opacity="0.6"/>
<rect x="60.18" y="452.05" width="3.91" height="27.13" fill="#bdf5c3" stroke="#7a7a7a" stroke-width="0.3" stroke-opacity="0.6"/>
<rect x="60.18" y="408.74" width="3.91" height="43.31" fill="#fffa87" stroke="#7a7a7a" stroke-width="0.3" stroke-opacity="0.6"/>
<rect x="60.18" y="403.6" width="3.91" height="5.14" fill="#ff8000" stroke="#7a7a7a" stroke-width="0.3" stroke-opacity="0.6"/>
<rect x="64.99" y="497.59" width="3.91" height="2.91" fill="#00ee00" stroke="#7a7a7a" stroke-width="0.3" stroke-opacity="0.6"/>
<rect x="64.99" y="431.12" width="3.91" height="66.47" fill="#bdf5c3" stroke="#7a7a7a" stroke-width="0.3" stroke-opacity="0.6"/>
<rect x="64.99" y="403.6" width="3.91" height="27.52" fill="#fffa87" stroke="#7a7a7a" stroke-width="0.3" stroke-opacity="0.6"/>
<rect x="69.8" y="450.4" width="3.91" height="50.1" fill="#00ee00" stroke="#7a7a7a" stroke-width="0.3" stroke-opacity="0.6"/>
<rect x="69.8" y="408.35" width="3.91" height="42.05" fill="#bdf5c3" stroke="#7a7a7a" stroke-width="0.3" stroke-opacity="0.6"/>
<rect x="69.8" y="403.6" width="3.91" height="4.75" fill="#fffa87" stroke="#7a7a7a" stroke-width="0.3" stroke-opacity="0.6"/>
<rect x="74.61" y="473.56" width="3.91" height="26.94" fill="#00ee00" stroke="#7a7a7a" stroke-width="0.3" stroke-opacity="0.6"/>
<rect x="74.61" y="408.35" width="3.91" height="65.21" fill="#bdf5c3" stroke="#7a7a7a" stroke-width="0.3" stroke-opacity="0.6"/>
<rect x="74.61" y="403.6" width="3.91" height="4.75" fill="#fffa87" stroke="#7a7a7a" stroke-width="0.3" stroke-opacity="0.6"/>
<rect x="79.42" y="489.74" width="3.91" height="10.76" fill="#bdf5c3" stroke="#7a7a7a" stroke-width="0.3" stroke-opacity="0.6"/>
<rect x="79.42" y="411.45" width="3.91" height="78.3" fill="#fffa87" stroke="#7a7a7a" stroke-width="0.3" stroke-opacity="0.6"/>
<rect x="79.42" y="403.6" width="3.91" height="7.85" fill="#ff8000" stroke="#7a7a7a" stroke-width="0.3" stroke-opacity="0.6"/>
<rect x="84.23" y="498.56" width="3.91" height="1.94" fill="#00ee00" stroke="#7a7a7a" stroke-width="0.3" stroke-opacity="0.6"/>
<rect x="84.23" y="446.62" width="3.91" height="51.94" fill="#bdf5c3" stroke="#7a7a7a" stroke-width="0.3" stroke-opacity="0.6"/>
<rect x="84.23" y="405.93" width="3.91" height="40.7" fill="#fffa87" stroke="#7a7a7a" stroke-width="0.3" stroke-opacity="0.6"/>
<rect x="84.23" y="403.6" width="3.91" height="2.33" fill="#ff8000" stroke="#7a7a7a" stroke-width="0.3" stroke-opacity="0.6"/>
<rect x="89.04" y="464.26" width="3.91" height="36.24" fill="#00ee00" stroke="#7a7a7a" stroke-width="0.3" stroke-opacity="0.6"/>
<rect x="89.04" y="431.12" width="3.91" height="33.14" fill="#bdf5c3" stroke="#7a7a7a" stroke-width="0.3" stroke-opacity="0.6"/>
<rect x="89.04" y="404.57" width="3.91" height="26.55" fill="#fffa87" stroke="#7a7a7a" stroke-width="0.3" stroke-opacity="0.6"/>
<rect x="89.04" y="403.6" width="3.91" height="0.97" fill="#ff8000" stroke="#7a7a7a" stroke-width="0.3" stroke-opacity="0.6"/>
<rect x="93.85" y="499.53" width="3.91" height="0.97" fill="#003800" stroke="#7a7a7a" stroke-width="0.3" stroke-opacity="0.6"/>
<rect x="93.85" y="472.11" width="3.91" height="27.42" fill="#00ee00" stroke="#7a7a7a" stroke-width="0.3" stroke-opacity="0.6"/>
<rect x="93.85" y="428.7" width="3.91" height="43.41" fill="#bdf5c3" stroke="#7a7a7a" stroke-width="0.3" stroke-opacity="0.6"/>
<rect x="93.85" y="405.93" width="3.91" height="22.77" fill="#fffa87" stroke="#7a7a7a" stroke-width="0.3" stroke-opacity="0.6"/>
<rect x="93.85" y="403.6" width="3.91" height="2.33" fill="#ff8000" stroke="#7a7a7a" stroke-width="0.3" stroke-opacity="0.6"/>
<rect x="98.66" y="499.53" width="3.91" height="0.97" fill="#bdf5c3" stroke="#7a7a7a" stroke-width="0.3" stroke-opacity="0.6"/>
<rect x="98.66" y="488.1" width="3.91" height="11.43" fill="#fffa87" stroke="#7a7a7a" stroke-width="0.3" stroke-opacity="0.6"/>
<rect x="98.66" y="415.62" width="3.91" height="72.48" fill="#ff8000" stroke="#7a7a7a" stroke-width="0.3" stroke-opacity="0.6"/>
<rect x="98.66" y="403.6" width="3.91" height="12.02" fill="#3a0000" stroke="#7a7a7a" stroke-width="0.3" stroke-opacity="0.6"/>
<rect x="103.47" y="495.36" width="3.91" height="5.14" fill="#bdf5c3" stroke="#7a7a7a" stroke-width="0.3" stroke-opacity="0.6"/>
<rect x="103.47" y="432.19" width="3.91" height="63.18" fill="#fffa87" stroke="#7a7a7a" stroke-width="0.3" stroke-opacity="0.6"/>
<rect x="103.47" y="406.7" width="3.91" height="25.48" fill="#ff8000" stroke="#7a7a7a" stroke-width="0.3" stroke-opacity="0.6"/>
<rect x="103.47" y="403.6" width="3.91" height="3.1" fill="#3a0000" stroke="#7a7a7a" stroke-width="0.3" stroke-opacity="0.6"/>
<rect x="108.28" y="499.53" width="3.91" height="0.97" fill="#003800" stroke="#7a7a7a" stroke-width="0.3" stroke-opacity="0.6"/>
<rect x="108.28" y="491.59" width="3.91" height="7.95" fill="#00ee00" stroke="#7a7a7a" stroke-width="0.3" stroke-opacity="0.6"/>
<rect x="108.28" y="426.57" width="3.91" height="65.02" fill="#bdf5c3" stroke="#7a7a7a" stroke-width="0.3" stroke-opacity="0.6"/>
<rect x="108.28" y="404.57" width="3.91" height="22" fill="#fffa87" stroke="#7a7a7a" stroke-width="0.3" stroke-opacity="0.6"/>
<rect x="108.28" y="403.6" width="3.91" height="0.97" fill="#ff8000" stroke="#7a7a7a" stroke-width="0.3" stroke-opacity="0.6"/>
<rect x="113.09" y="498.56" width="3.91" height="1.94" fill="#00ee00" stroke="#7a7a7a" stroke-width="0.3" stroke-opacity="0.6"/>
<rect x="113.09" y="486.64" width="3.91" height="11.92" fill="#bdf5c3" stroke="#7a7a7a" stroke-width="0.3" stroke-opacity="0.6"/>
<rect x="113.09" y="417.65" width="3.91" height="68.99" fill="#fffa87" stroke="#7a7a7a" stroke-width="0.3" stroke-opacity="0.6"/>
<rect x="113.09" y="403.6" width="3.91" height="14.05" fill="#ff8000" stroke="#7a7a7a" stroke-width="0.3" stroke-opacity="0.6"/>
<rect x="117.9" y="497.4" width="3.91" height="3.1" fill="#00ee00" stroke="#7a7a7a" stroke-width="0.3" stroke-opacity="0.6"/>
<rect x="117.9" y="473.56" width="3.91" height="23.84" fill="#bdf5c3" stroke="#7a7a7a" stroke-width="0.3" stroke-opacity="0.6"/>
<rect x="117.9" y="424.92" width="3.91" height="48.64" fill="#fffa87" stroke="#7a7a7a" stroke-width="0.3" stroke-opacity="0.6"/>
<rect x="117.9" y="403.6" width="3.91" height="21.32" fill="#ff8000" stroke="#7a7a7a" stroke-width="0.3" stroke-opacity="0.6"/>
<rect x="122.71" y="499.53" width="3.91" height="0.97" fill="#bdf5c3" stroke="#7a7a7a" stroke-width="0.3" stroke-opacity="0.6"/>
<rect x="122.71" y="453.5" width="3.91" height="46.03" fill="#fffa87" stroke="#7a7a7a" stroke-width="0.3" stroke-opacity="0.6"/>
<rect x="122.71" y="403.6" width="3.91" height="49.9" fill="#ff8000" stroke="#7a7a7a" stroke-width="0.3" stroke-opacity="0.6"/>
<rect x="127.52" y="488.68" width="3.91" height="11.82" fill="#00ee00" stroke="#7a7a7a" stroke-width="0.3" stroke-opacity="0.6"/>
<rect x="127.52" y="453.5" width="3.91" height="35.17" fill="#bdf5c3" stroke="#7a7a7a" stroke-width="0.3" stroke-opacity="0.6"/>
<rect x="127.52" y="405.93" width="3.91" height="47.58" fill="#fffa87" stroke="#7a7a7a" stroke-width="0.3" stroke-opacity="0.6"/>
<rect x="127.52" y="403.6" width="3.91" height="2.33" fill="#ff8000" stroke="#7a7a7a" stroke-width="0.3" stroke-opacity="0.6"/>
<rect x="132.33" y="498.56" width="3.91" height="1.94" fill="#00ee00" stroke="#7a7a7a" stroke-width="0.3" stroke-opacity="0.6"/>
<rect x="132.33" y="484.51" width="3.91" height="14.05" fill="#bdf5c3" stroke="#7a7a7a" stroke-width="0.3" stroke-opacity="0.6"/>
<rect x="132.33" y="439.84" width="3.91" height="44.67" fill="#fffa87" stroke="#7a7a7a" stroke-width="0.3" stroke-opacity="0.6"/>
<rect x="132.33" y="405.93" width="3.91" height="33.91" fill="#ff8000" stroke="#7a7a7a" stroke-width="0.3" stroke-opacity="0.6"/>
<rect x="132.33" y="403.6" width="3.91" height="2.33" fill="#3a0000" stroke="#7a7a7a" stroke-width="0.3" stroke-opacity="0.6"/>
<rect x="137.14" y="497.4" width="3.91" height="3.1" fill="#bdf5c3" stroke="#7a7a7a" stroke-width="0.3" stroke-opacity="0.6"/>
<rect x="137.14" y="480.83" width="3.91" height="16.57" fill="#fffa87" stroke="#7a7a7a" stroke-width="0.3" stroke-opacity="0.6"/>
<rect x="137.14" y="425.98" width="3.91" height="54.85" fill="#ff8000" stroke="#7a7a7a" stroke-width="0.3" stroke-opacity="0.6"/>
<rect x="137.14" y="403.6" width="3.91" height="22.38" fill="#3a0000" stroke="#7a7a7a" stroke-width="0.3" stroke-opacity="0.6"/>
<rect x="141.95" y="494.3" width="3.91" height="6.2" fill="#00ee00" stroke="#7a7a7a" stroke-width="0.3" stroke-opacity="0.6"/>
<rect x="141.95" y="483.35" width="3.91" height="10.95" fill="#bdf5c3" stroke="#7a7a7a" stroke-width="0.3" stroke-opacity="0.6"/>
<rect x="141.95" y="448.08" width="3.91" height="35.27" fill="#fffa87" stroke="#7a7a7a" stroke-width="0.3" stroke-opacity="0.6"/>
<rect x="141.95" y="404.57" width="3.91" height="43.51" fill="#ff8000" stroke="#7a7a7a" stroke-width="0.3" stroke-opacity="0.6"/>
<rect x="141.95" y="403.6" width="3.91" height="0.97" fill="#3a0000" stroke="#7a7a7a" stroke-width="0.3" stroke-opacity="0.6"/>
<rect x="146.76" y="498.56" width="3.91" height="1.94" fill="#00ee00" stroke="#7a7a7a" stroke-width="0.3" stroke-opacity="0.6"/>
<rect x="146.76" y="472.59" width="3.91" height="25.97" fill="#bdf5c3" stroke="#7a7a7a" stroke-width="0.3" stroke-opacity="0.6"/>
<rect x="146.76" y="412.51" width="3.91" height="60.08" fill="#fffa87" stroke="#7a7a7a" stroke-width="0.3" stroke-opacity="0.6"/>
<rect x="146.76" y="403.6" width="3.91" height="8.91" fill="#ff8000" stroke="#7a7a7a" stroke-width="0.3" stroke-opacity="0.6"/>
<rect x="151.57" y="498.56" width="3.91" height="1.94" fill="#bdf5c3" stroke="#7a7a7a" stroke-width="0.3" stroke-opacity="0.6"/>
<rect x="151.57" y="474.24" width="3.91" height="24.32" fill="#fffa87" stroke="#7a7a7a" stroke-width="0.3" stroke-opacity="0.6"/>
<rect x="151.57" y="417.65" width="3.91" height="56.59" fill="#ff8000" stroke="#7a7a7a" stroke-width="0.3" stroke-opacity="0.6"/>
<rect x="151.57" y="403.6" width="3.91" height="14.05" fill="#3a0000" stroke="#7a7a7a" stroke-width="0.3" stroke-opacity="0.6"/>
<path d="M18.5 403.6V500.5H158.57" fill="none" stroke="#a8a8a8" stroke-width="0.6"/>
<path d="M17.2 500.5h1.3M17.2 490.81h1.3M17.2 481.12h1.3M17.2 471.43h1.3M17.2 461.74h1.3M17.2 452.05h1.3M17.2 442.36h1.3M17.2 432.67h1.3M17.2 422.98h1.3M17.2 413.29h1.3M17.2 403.6h1.3M23.65 500.5v1M28.46 500.5v1M33.27 500.5v1M38.08 500.5v1M42.89 500.5v1M47.7 500.5v1M52.52 500.5v1M57.32 500.5v1M62.13 500.5v1M66.94 500.5v1M71.75 500.5v1M76.56 500.5v1M81.38 500.5v1M86.18 500.5v1M90.99 500.5v1M95.8 500.5v1M100.61 500.5v1M105.42 500.5v1M110.23 500.5v1M115.04 500.5v1M119.85 500.5v1M124.66 500.5v1M129.47 500.5v1M134.28 500.5v1M139.09 500.5v1M143.91 500.5v1M148.72 500.5v1M153.52 500.5v1M158.57 500.5v1" stroke="#a8a8a8" stroke-width="0.5"/>
<g font-family="'Liberation Sans', sans-serif" font-size="5.6" fill="#222" stroke="#222" stroke-width="0.14" text-anchor="end"><text x="16.9" y="502.5">0.0</text><text x="16.9" y="492.81">0.1</text><text x="16.9" y="483.12">0.2</text><text x="16.9" y="473.43">0.3</text><text x="16.9" y="463.74">0.4</text><text x="16.9" y="454.05">0.5</text><text x="16.9" y="444.36">0.6</text><text x="16.9" y="434.67">0.7</text><text x="16.9" y="424.98">0.8</text><text x="16.9" y="415.29">0.9</text><text x="16.9" y="405.6">1.0</text></g>
<g font-family="'Liberation Sans', sans-serif" font-size="5.6" fill="#222" stroke="#222" stroke-width="0.14" text-anchor="middle"><text x="23.65" y="507.6">82</text><text x="42.89" y="507.6">86</text><text x="62.13" y="507.6">90</text><text x="81.38" y="507.6">94</text><text x="100.61" y="507.6">98</text><text x="119.85" y="507.6">02</text><text x="139.09" y="507.6">06</text></g>
<text font-family="'Liberation Sans', sans-serif" font-size="6.8" font-weight="bold" fill="#111" text-anchor="middle" x="88.38" y="513.72">Year</text>
<text font-family="'Liberation Sans', sans-serif" font-size="6.2" font-weight="bold" fill="#111" text-anchor="middle" transform="translate(7.29 451.66) rotate(-90)">Percentage</text>
<rect x="13.45" y="517.47" width="24" height="3.8" fill="#003800"/>
<rect x="37.4" y="517.47" width="24" height="3.8" fill="#00ee00"/>
<rect x="61.35" y="517.47" width="24" height="3.8" fill="#bdf5c3"/>
<rect x="85.3" y="517.47" width="24" height="3.8" fill="#fffa87"/>
<rect x="109.25" y="517.47" width="24" height="3.8" fill="#ff8000"/>
<rect x="133.2" y="517.47" width="24" height="3.8" fill="#3a0000"/>
<text font-family="'Liberation Sans', sans-serif" font-size="6.1" fill="#222" stroke="#222" stroke-width="0.25" x="8.18" y="521.17" text-anchor="middle">σ</text>
<g font-family="'Liberation Sans', sans-serif" font-size="5.6" font-weight="bold" fill="#222" text-anchor="middle"><text x="36.8" y="527.57">-2</text><text x="60.75" y="527.57">-1</text><text x="84.7" y="527.57">0</text><text x="108.65" y="527.57">1</text><text x="132.6" y="527.57">2</text></g>
<rect x="264.5" y="403.2" width="135.26" height="97.3" fill="#c4c4c4"/>
<rect x="265.1" y="420.81" width="3.92" height="79.69" fill="#00ee00" stroke="#7a7a7a" stroke-width="0.3" stroke-opacity="0.6"/>
<rect x="265.1" y="403.2" width="3.92" height="17.61" fill="#bdf5c3" stroke="#7a7a7a" stroke-width="0.3" stroke-opacity="0.6"/>
<rect x="269.92" y="420.81" width="3.92" height="79.69" fill="#bdf5c3" stroke="#7a7a7a" stroke-width="0.3" stroke-opacity="0.6"/>
<rect x="269.92" y="403.2" width="3.92" height="17.61" fill="#fffa87" stroke="#7a7a7a" stroke-width="0.3" stroke-opacity="0.6"/>
<rect x="274.74" y="462.16" width="3.92" height="38.34" fill="#003800" stroke="#7a7a7a" stroke-width="0.3" stroke-opacity="0.6"/>
<rect x="274.74" y="420.81" width="3.92" height="41.35" fill="#00ee00" stroke="#7a7a7a" stroke-width="0.3" stroke-opacity="0.6"/>
<rect x="274.74" y="403.2" width="3.92" height="17.61" fill="#bdf5c3" stroke="#7a7a7a" stroke-width="0.3" stroke-opacity="0.6"/>
<rect x="279.56" y="447.28" width="3.92" height="53.22" fill="#00ee00" stroke="#7a7a7a" stroke-width="0.3" stroke-opacity="0.6"/>
<rect x="279.56" y="403.2" width="3.92" height="44.08" fill="#bdf5c3" stroke="#7a7a7a" stroke-width="0.3" stroke-opacity="0.6"/>
<rect x="284.38" y="492.23" width="3.92" height="8.27" fill="#00ee00" stroke="#7a7a7a" stroke-width="0.3" stroke-opacity="0.6"/>
<rect x="284.38" y="403.2" width="3.92" height="89.03" fill="#bdf5c3" stroke="#7a7a7a" stroke-width="0.3" stroke-opacity="0.6"/>
<rect x="289.2" y="488.73" width="3.92" height="11.77" fill="#00ee00" stroke="#7a7a7a" stroke-width="0.3" stroke-opacity="0.6"/>
<rect x="289.2" y="426.55" width="3.92" height="62.17" fill="#bdf5c3" stroke="#7a7a7a" stroke-width="0.3" stroke-opacity="0.6"/>
<rect x="289.2" y="403.2" width="3.92" height="23.35" fill="#fffa87" stroke="#7a7a7a" stroke-width="0.3" stroke-opacity="0.6"/>
<rect x="294.02" y="482.89" width="3.92" height="17.61" fill="#00ee00" stroke="#7a7a7a" stroke-width="0.3" stroke-opacity="0.6"/>
<rect x="294.02" y="417.7" width="3.92" height="65.19" fill="#bdf5c3" stroke="#7a7a7a" stroke-width="0.3" stroke-opacity="0.6"/>
<rect x="294.02" y="403.2" width="3.92" height="14.5" fill="#fffa87" stroke="#7a7a7a" stroke-width="0.3" stroke-opacity="0.6"/>
<rect x="298.84" y="412.05" width="3.92" height="88.45" fill="#00ee00" stroke="#7a7a7a" stroke-width="0.3" stroke-opacity="0.6"/>
<rect x="298.84" y="403.2" width="3.92" height="8.85" fill="#bdf5c3" stroke="#7a7a7a" stroke-width="0.3" stroke-opacity="0.6"/>
<rect x="303.66" y="486" width="3.92" height="14.5" fill="#bdf5c3" stroke="#7a7a7a" stroke-width="0.3" stroke-opacity="0.6"/>
<rect x="303.66" y="417.7" width="3.92" height="68.3" fill="#fffa87" stroke="#7a7a7a" stroke-width="0.3" stroke-opacity="0.6"/>
<rect x="303.66" y="403.2" width="3.92" height="14.5" fill="#ff8000" stroke="#7a7a7a" stroke-width="0.3" stroke-opacity="0.6"/>
<rect x="308.48" y="477.15" width="3.92" height="23.35" fill="#00ee00" stroke="#7a7a7a" stroke-width="0.3" stroke-opacity="0.6"/>
<rect x="308.48" y="403.2" width="3.92" height="73.95" fill="#bdf5c3" stroke="#7a7a7a" stroke-width="0.3" stroke-opacity="0.6"/>
<rect x="313.3" y="492.23" width="3.92" height="8.27" fill="#00ee00" stroke="#7a7a7a" stroke-width="0.3" stroke-opacity="0.6"/>
<rect x="313.3" y="414.58" width="3.92" height="77.65" fill="#bdf5c3" stroke="#7a7a7a" stroke-width="0.3" stroke-opacity="0.6"/>
<rect x="313.3" y="403.2" width="3.92" height="11.38" fill="#fffa87" stroke="#7a7a7a" stroke-width="0.3" stroke-opacity="0.6"/>
<rect x="318.12" y="414.97" width="3.92" height="85.53" fill="#00ee00" stroke="#7a7a7a" stroke-width="0.3" stroke-opacity="0.6"/>
<rect x="318.12" y="406.31" width="3.92" height="8.66" fill="#bdf5c3" stroke="#7a7a7a" stroke-width="0.3" stroke-opacity="0.6"/>
<rect x="318.12" y="403.2" width="3.92" height="3.11" fill="#fffa87" stroke="#7a7a7a" stroke-width="0.3" stroke-opacity="0.6"/>
<rect x="322.94" y="474.23" width="3.92" height="26.27" fill="#bdf5c3" stroke="#7a7a7a" stroke-width="0.3" stroke-opacity="0.6"/>
<rect x="322.94" y="403.2" width="3.92" height="71.03" fill="#fffa87" stroke="#7a7a7a" stroke-width="0.3" stroke-opacity="0.6"/>
<rect x="327.76" y="480.46" width="3.92" height="20.04" fill="#bdf5c3" stroke="#7a7a7a" stroke-width="0.3" stroke-opacity="0.6"/>
<rect x="327.76" y="405.92" width="3.92" height="74.53" fill="#fffa87" stroke="#7a7a7a" stroke-width="0.3" stroke-opacity="0.6"/>
<rect x="327.76" y="403.2" width="3.92" height="2.72" fill="#ff8000" stroke="#7a7a7a" stroke-width="0.3" stroke-opacity="0.6"/>
<rect x="332.58" y="468" width="3.92" height="32.5" fill="#00ee00" stroke="#7a7a7a" stroke-width="0.3" stroke-opacity="0.6"/>
<rect x="332.58" y="406.31" width="3.92" height="61.69" fill="#bdf5c3" stroke="#7a7a7a" stroke-width="0.3" stroke-opacity="0.6"/>
<rect x="332.58" y="403.2" width="3.92" height="3.11" fill="#fffa87" stroke="#7a7a7a" stroke-width="0.3" stroke-opacity="0.6"/>
<rect x="337.4" y="456.42" width="3.92" height="44.08" fill="#bdf5c3" stroke="#7a7a7a" stroke-width="0.3" stroke-opacity="0.6"/>
<rect x="337.4" y="408.75" width="3.92" height="47.68" fill="#fffa87" stroke="#7a7a7a" stroke-width="0.3" stroke-opacity="0.6"/>
<rect x="337.4" y="403.2" width="3.92" height="5.55" fill="#ff8000" stroke="#7a7a7a" stroke-width="0.3" stroke-opacity="0.6"/>
<rect x="342.22" y="494.95" width="3.92" height="5.55" fill="#fffa87" stroke="#7a7a7a" stroke-width="0.3" stroke-opacity="0.6"/>
<rect x="342.22" y="411.47" width="3.92" height="83.48" fill="#ff8000" stroke="#7a7a7a" stroke-width="0.3" stroke-opacity="0.6"/>
<rect x="342.22" y="403.2" width="3.92" height="8.27" fill="#3a0000" stroke="#7a7a7a" stroke-width="0.3" stroke-opacity="0.6"/>
<rect x="347.04" y="492.23" width="3.92" height="8.27" fill="#bdf5c3" stroke="#7a7a7a" stroke-width="0.3" stroke-opacity="0.6"/>
<rect x="347.04" y="414.97" width="3.92" height="77.26" fill="#fffa87" stroke="#7a7a7a" stroke-width="0.3" stroke-opacity="0.6"/>
<rect x="347.04" y="403.2" width="3.92" height="11.77" fill="#ff8000" stroke="#7a7a7a" stroke-width="0.3" stroke-opacity="0.6"/>
<rect x="351.86" y="497.78" width="3.92" height="2.72" fill="#00ee00" stroke="#7a7a7a" stroke-width="0.3" stroke-opacity="0.6"/>
<rect x="351.86" y="447.28" width="3.92" height="50.5" fill="#bdf5c3" stroke="#7a7a7a" stroke-width="0.3" stroke-opacity="0.6"/>
<rect x="351.86" y="403.2" width="3.92" height="44.08" fill="#fffa87" stroke="#7a7a7a" stroke-width="0.3" stroke-opacity="0.6"/>
<rect x="356.68" y="423.92" width="3.92" height="76.58" fill="#fffa87" stroke="#7a7a7a" stroke-width="0.3" stroke-opacity="0.6"/>
<rect x="356.68" y="403.2" width="3.92" height="20.72" fill="#ff8000" stroke="#7a7a7a" stroke-width="0.3" stroke-opacity="0.6"/>
<rect x="361.5" y="489.12" width="3.92" height="11.38" fill="#bdf5c3" stroke="#7a7a7a" stroke-width="0.3" stroke-opacity="0.6"/>
<rect x="361.5" y="426.55" width="3.92" height="62.56" fill="#fffa87" stroke="#7a7a7a" stroke-width="0.3" stroke-opacity="0.6"/>
<rect x="361.5" y="403.2" width="3.92" height="23.35" fill="#ff8000" stroke="#7a7a7a" stroke-width="0.3" stroke-opacity="0.6"/>
<rect x="366.32" y="474.23" width="3.92" height="26.27" fill="#bdf5c3" stroke="#7a7a7a" stroke-width="0.3" stroke-opacity="0.6"/>
<rect x="366.32" y="408.75" width="3.92" height="65.48" fill="#fffa87" stroke="#7a7a7a" stroke-width="0.3" stroke-opacity="0.6"/>
<rect x="366.32" y="403.2" width="3.92" height="5.55" fill="#ff8000" stroke="#7a7a7a" stroke-width="0.3" stroke-opacity="0.6"/>
<rect x="371.14" y="494.95" width="3.92" height="5.55" fill="#bdf5c3" stroke="#7a7a7a" stroke-width="0.3" stroke-opacity="0.6"/>
<rect x="371.14" y="457.01" width="3.92" height="37.95" fill="#fffa87" stroke="#7a7a7a" stroke-width="0.3" stroke-opacity="0.6"/>
<rect x="371.14" y="405.92" width="3.92" height="51.08" fill="#ff8000" stroke="#7a7a7a" stroke-width="0.3" stroke-opacity="0.6"/>
<rect x="371.14" y="403.2" width="3.92" height="2.72" fill="#3a0000" stroke="#7a7a7a" stroke-width="0.3" stroke-opacity="0.6"/>
<rect x="375.96" y="492.23" width="3.92" height="8.27" fill="#bdf5c3" stroke="#7a7a7a" stroke-width="0.3" stroke-opacity="0.6"/>
<rect x="375.96" y="417.7" width="3.92" height="74.53" fill="#fffa87" stroke="#7a7a7a" stroke-width="0.3" stroke-opacity="0.6"/>
<rect x="375.96" y="403.2" width="3.92" height="14.5" fill="#ff8000" stroke="#7a7a7a" stroke-width="0.3" stroke-opacity="0.6"/>
<rect x="380.78" y="489.12" width="3.92" height="11.38" fill="#fffa87" stroke="#7a7a7a" stroke-width="0.3" stroke-opacity="0.6"/>
<rect x="380.78" y="429.47" width="3.92" height="59.64" fill="#ff8000" stroke="#7a7a7a" stroke-width="0.3" stroke-opacity="0.6"/>
<rect x="380.78" y="403.2" width="3.92" height="26.27" fill="#3a0000" stroke="#7a7a7a" stroke-width="0.3" stroke-opacity="0.6"/>
<rect x="385.6" y="494.95" width="3.92" height="5.55" fill="#bdf5c3" stroke="#7a7a7a" stroke-width="0.3" stroke-opacity="0.6"/>
<rect x="385.6" y="480.46" width="3.92" height="14.5" fill="#fffa87" stroke="#7a7a7a" stroke-width="0.3" stroke-opacity="0.6"/>
<rect x="385.6" y="414.58" width="3.92" height="65.87" fill="#ff8000" stroke="#7a7a7a" stroke-width="0.3" stroke-opacity="0.6"/>
<rect x="385.6" y="403.2" width="3.92" height="11.38" fill="#3a0000" stroke="#7a7a7a" stroke-width="0.3" stroke-opacity="0.6"/>
<rect x="390.42" y="492.23" width="3.92" height="8.27" fill="#bdf5c3" stroke="#7a7a7a" stroke-width="0.3" stroke-opacity="0.6"/>
<rect x="390.42" y="420.81" width="3.92" height="71.42" fill="#fffa87" stroke="#7a7a7a" stroke-width="0.3" stroke-opacity="0.6"/>
<rect x="390.42" y="403.2" width="3.92" height="17.61" fill="#ff8000" stroke="#7a7a7a" stroke-width="0.3" stroke-opacity="0.6"/>
<rect x="395.24" y="462.65" width="3.92" height="37.85" fill="#fffa87" stroke="#7a7a7a" stroke-width="0.3" stroke-opacity="0.6"/>
<rect x="395.24" y="403.2" width="3.92" height="59.45" fill="#ff8000" stroke="#7a7a7a" stroke-width="0.3" stroke-opacity="0.6"/>
<path d="M261.9 403.2V500.5H402.25" fill="none" stroke="#a8a8a8" stroke-width="0.6"/>
<path d="M260.6 500.5h1.3M260.6 490.77h1.3M260.6 481.04h1.3M260.6 471.31h1.3M260.6 461.58h1.3M260.6 451.85h1.3M260.6 442.12h1.3M260.6 432.39h1.3M260.6 422.66h1.3M260.6 412.93h1.3M260.6 403.2h1.3M267.06 500.5v1M271.88 500.5v1M276.7 500.5v1M281.52 500.5v1M286.34 500.5v1M291.16 500.5v1M295.98 500.5v1M300.8 500.5v1M305.62 500.5v1M310.44 500.5v1M315.26 500.5v1M320.08 500.5v1M324.9 500.5v1M329.72 500.5v1M334.54 500.5v1M339.36 500.5v1M344.18 500.5v1M349 500.5v1M353.82 500.5v1M358.64 500.5v1M363.46 500.5v1M368.28 500.5v1M373.1 500.5v1M377.92 500.5v1M382.74 500.5v1M387.56 500.5v1M392.38 500.5v1M397.2 500.5v1M402.25 500.5v1" stroke="#a8a8a8" stroke-width="0.5"/>
<g font-family="'Liberation Sans', sans-serif" font-size="5.6" fill="#222" stroke="#222" stroke-width="0.14" text-anchor="end"><text x="260.3" y="502.5">0.0</text><text x="260.3" y="492.77">0.1</text><text x="260.3" y="483.04">0.2</text><text x="260.3" y="473.31">0.3</text><text x="260.3" y="463.58">0.4</text><text x="260.3" y="453.85">0.5</text><text x="260.3" y="444.12">0.6</text><text x="260.3" y="434.39">0.7</text><text x="260.3" y="424.66">0.8</text><text x="260.3" y="414.93">0.9</text><text x="260.3" y="405.2">1.0</text></g>
<g font-family="'Liberation Sans', sans-serif" font-size="5.6" fill="#222" stroke="#222" stroke-width="0.14" text-anchor="middle"><text x="267.06" y="507.63">82</text><text x="286.34" y="507.63">86</text><text x="305.62" y="507.63">90</text><text x="324.9" y="507.63">94</text><text x="344.18" y="507.63">98</text><text x="363.46" y="507.63">02</text><text x="382.74" y="507.63">06</text></g>
<text font-family="'Liberation Sans', sans-serif" font-size="6.8" font-weight="bold" fill="#111" text-anchor="middle" x="331.92" y="513.78">Year</text>
<text font-family="'Liberation Sans', sans-serif" font-size="6.2" font-weight="bold" fill="#111" text-anchor="middle" transform="translate(250.66 451.45) rotate(-90)">Percentage</text>
<rect x="256.83" y="517.54" width="24.05" height="3.8" fill="#003800"/>
<rect x="280.83" y="517.54" width="24.05" height="3.8" fill="#00ee00"/>
<rect x="304.84" y="517.54" width="24.05" height="3.8" fill="#bdf5c3"/>
<rect x="328.84" y="517.54" width="24.05" height="3.8" fill="#fffa87"/>
<rect x="352.84" y="517.54" width="24.05" height="3.8" fill="#ff8000"/>
<rect x="376.84" y="517.54" width="24.05" height="3.8" fill="#3a0000"/>
<text font-family="'Liberation Sans', sans-serif" font-size="6.1" fill="#222" stroke="#222" stroke-width="0.25" x="251.56" y="521.24" text-anchor="middle">σ</text>
<g font-family="'Liberation Sans', sans-serif" font-size="5.6" font-weight="bold" fill="#222" text-anchor="middle"><text x="280.23" y="527.64">-2</text><text x="304.24" y="527.64">-1</text><text x="328.24" y="527.64">0</text><text x="352.24" y="527.64">1</text><text x="376.24" y="527.64">2</text></g>
<rect x="749.8" y="403.2" width="134.7" height="97.1" fill="#c4c4c4"/>
<rect x="750.4" y="490.3" width="3.9" height="10" fill="#00ee00" stroke="#7a7a7a" stroke-width="0.3" stroke-opacity="0.6"/>
<rect x="750.4" y="403.2" width="3.9" height="87.1" fill="#bdf5c3" stroke="#7a7a7a" stroke-width="0.3" stroke-opacity="0.6"/>
<rect x="755.2" y="446.8" width="3.9" height="53.5" fill="#00ee00" stroke="#7a7a7a" stroke-width="0.3" stroke-opacity="0.6"/>
<rect x="755.2" y="405.24" width="3.9" height="41.56" fill="#bdf5c3" stroke="#7a7a7a" stroke-width="0.3" stroke-opacity="0.6"/>
<rect x="755.2" y="403.2" width="3.9" height="2.04" fill="#ff8000" stroke="#7a7a7a" stroke-width="0.3" stroke-opacity="0.6"/>
<rect x="760" y="454.66" width="3.9" height="45.64" fill="#003800" stroke="#7a7a7a" stroke-width="0.3" stroke-opacity="0.6"/>
<rect x="760" y="403.2" width="3.9" height="51.46" fill="#00ee00" stroke="#7a7a7a" stroke-width="0.3" stroke-opacity="0.6"/>
<rect x="764.8" y="410.87" width="3.9" height="89.43" fill="#00ee00" stroke="#7a7a7a" stroke-width="0.3" stroke-opacity="0.6"/>
<rect x="764.8" y="403.2" width="3.9" height="7.67" fill="#bdf5c3" stroke="#7a7a7a" stroke-width="0.3" stroke-opacity="0.6"/>
<rect x="769.6" y="484.76" width="3.9" height="15.54" fill="#00ee00" stroke="#7a7a7a" stroke-width="0.3" stroke-opacity="0.6"/>
<rect x="769.6" y="409.41" width="3.9" height="75.35" fill="#bdf5c3" stroke="#7a7a7a" stroke-width="0.3" stroke-opacity="0.6"/>
<rect x="769.6" y="403.2" width="3.9" height="6.21" fill="#fffa87" stroke="#7a7a7a" stroke-width="0.3" stroke-opacity="0.6"/>
<rect x="774.4" y="496.61" width="3.9" height="3.69" fill="#bdf5c3" stroke="#7a7a7a" stroke-width="0.3" stroke-opacity="0.6"/>
<rect x="774.4" y="429.13" width="3.9" height="67.48" fill="#fffa87" stroke="#7a7a7a" stroke-width="0.3" stroke-opacity="0.6"/>
<rect x="774.4" y="403.2" width="3.9" height="25.93" fill="#ff8000" stroke="#7a7a7a" stroke-width="0.3" stroke-opacity="0.6"/>
<rect x="779.2" y="432.91" width="3.9" height="67.39" fill="#00ee00" stroke="#7a7a7a" stroke-width="0.3" stroke-opacity="0.6"/>
<rect x="779.2" y="403.2" width="3.9" height="29.71" fill="#bdf5c3" stroke="#7a7a7a" stroke-width="0.3" stroke-opacity="0.6"/>
<rect x="784" y="490.3" width="3.9" height="10" fill="#00ee00" stroke="#7a7a7a" stroke-width="0.3" stroke-opacity="0.6"/>
<rect x="784" y="405.24" width="3.9" height="85.06" fill="#bdf5c3" stroke="#7a7a7a" stroke-width="0.3" stroke-opacity="0.6"/>
<rect x="784" y="403.2" width="3.9" height="2.04" fill="#fffa87" stroke="#7a7a7a" stroke-width="0.3" stroke-opacity="0.6"/>
<rect x="788.8" y="468.55" width="3.9" height="31.75" fill="#bdf5c3" stroke="#7a7a7a" stroke-width="0.3" stroke-opacity="0.6"/>
<rect x="788.8" y="405.24" width="3.9" height="63.31" fill="#fffa87" stroke="#7a7a7a" stroke-width="0.3" stroke-opacity="0.6"/>
<rect x="788.8" y="403.2" width="3.9" height="2.04" fill="#ff8000" stroke="#7a7a7a" stroke-width="0.3" stroke-opacity="0.6"/>
<rect x="793.6" y="488.26" width="3.9" height="12.04" fill="#bdf5c3" stroke="#7a7a7a" stroke-width="0.3" stroke-opacity="0.6"/>
<rect x="793.6" y="418.74" width="3.9" height="69.52" fill="#fffa87" stroke="#7a7a7a" stroke-width="0.3" stroke-opacity="0.6"/>
<rect x="793.6" y="403.2" width="3.9" height="15.54" fill="#ff8000" stroke="#7a7a7a" stroke-width="0.3" stroke-opacity="0.6"/>
<rect x="798.4" y="470.59" width="3.9" height="29.71" fill="#00ee00" stroke="#7a7a7a" stroke-width="0.3" stroke-opacity="0.6"/>
<rect x="798.4" y="407.38" width="3.9" height="63.21" fill="#bdf5c3" stroke="#7a7a7a" stroke-width="0.3" stroke-opacity="0.6"/>
<rect x="798.4" y="403.2" width="3.9" height="4.18" fill="#fffa87" stroke="#7a7a7a" stroke-width="0.3" stroke-opacity="0.6"/>
<rect x="803.2" y="490.3" width="3.9" height="10" fill="#00ee00" stroke="#7a7a7a" stroke-width="0.3" stroke-opacity="0.6"/>
<rect x="803.2" y="410.87" width="3.9" height="79.43" fill="#bdf5c3" stroke="#7a7a7a" stroke-width="0.3" stroke-opacity="0.6"/>
<rect x="803.2" y="403.2" width="3.9" height="7.67" fill="#fffa87" stroke="#7a7a7a" stroke-width="0.3" stroke-opacity="0.6"/>
<rect x="808" y="468.55" width="3.9" height="31.75" fill="#bdf5c3" stroke="#7a7a7a" stroke-width="0.3" stroke-opacity="0.6"/>
<rect x="808" y="403.2" width="3.9" height="65.35" fill="#fffa87" stroke="#7a7a7a" stroke-width="0.3" stroke-opacity="0.6"/>
<rect x="812.8" y="468.55" width="3.9" height="31.75" fill="#00ee00" stroke="#7a7a7a" stroke-width="0.3" stroke-opacity="0.6"/>
<rect x="812.8" y="405.24" width="3.9" height="63.31" fill="#bdf5c3" stroke="#7a7a7a" stroke-width="0.3" stroke-opacity="0.6"/>
<rect x="812.8" y="403.2" width="3.9" height="2.04" fill="#fffa87" stroke="#7a7a7a" stroke-width="0.3" stroke-opacity="0.6"/>
<rect x="817.6" y="450.88" width="3.9" height="49.42" fill="#00ee00" stroke="#7a7a7a" stroke-width="0.3" stroke-opacity="0.6"/>
<rect x="817.6" y="409.41" width="3.9" height="41.46" fill="#bdf5c3" stroke="#7a7a7a" stroke-width="0.3" stroke-opacity="0.6"/>
<rect x="817.6" y="403.2" width="3.9" height="6.21" fill="#fffa87" stroke="#7a7a7a" stroke-width="0.3" stroke-opacity="0.6"/>
<rect x="822.4" y="498.65" width="3.9" height="1.65" fill="#00ee00" stroke="#7a7a7a" stroke-width="0.3" stroke-opacity="0.6"/>
<rect x="822.4" y="440.58" width="3.9" height="58.07" fill="#bdf5c3" stroke="#7a7a7a" stroke-width="0.3" stroke-opacity="0.6"/>
<rect x="822.4" y="403.2" width="3.9" height="37.38" fill="#fffa87" stroke="#7a7a7a" stroke-width="0.3" stroke-opacity="0.6"/>
<rect x="827.2" y="496.61" width="3.9" height="3.69" fill="#fffa87" stroke="#7a7a7a" stroke-width="0.3" stroke-opacity="0.6"/>
<rect x="827.2" y="421.26" width="3.9" height="75.35" fill="#ff8000" stroke="#7a7a7a" stroke-width="0.3" stroke-opacity="0.6"/>
<rect x="827.2" y="403.2" width="3.9" height="18.06" fill="#3a0000" stroke="#7a7a7a" stroke-width="0.3" stroke-opacity="0.6"/>
<rect x="832" y="496.61" width="3.9" height="3.69" fill="#bdf5c3" stroke="#7a7a7a" stroke-width="0.3" stroke-opacity="0.6"/>
<rect x="832" y="412.91" width="3.9" height="83.7" fill="#fffa87" stroke="#7a7a7a" stroke-width="0.3" stroke-opacity="0.6"/>
<rect x="832" y="403.2" width="3.9" height="9.71" fill="#ff8000" stroke="#7a7a7a" stroke-width="0.3" stroke-opacity="0.6"/>
<rect x="836.8" y="476.41" width="3.9" height="23.89" fill="#bdf5c3" stroke="#7a7a7a" stroke-width="0.3" stroke-opacity="0.6"/>
<rect x="836.8" y="406.7" width="3.9" height="69.72" fill="#fffa87" stroke="#7a7a7a" stroke-width="0.3" stroke-opacity="0.6"/>
<rect x="836.8" y="403.2" width="3.9" height="3.5" fill="#ff8000" stroke="#7a7a7a" stroke-width="0.3" stroke-opacity="0.6"/>
<rect x="841.6" y="486.8" width="3.9" height="13.5" fill="#bdf5c3" stroke="#7a7a7a" stroke-width="0.3" stroke-opacity="0.6"/>
<rect x="841.6" y="408.83" width="3.9" height="77.97" fill="#fffa87" stroke="#7a7a7a" stroke-width="0.3" stroke-opacity="0.6"/>
<rect x="841.6" y="403.2" width="3.9" height="5.63" fill="#ff8000" stroke="#7a7a7a" stroke-width="0.3" stroke-opacity="0.6"/>
<rect x="846.4" y="459.23" width="3.9" height="41.07" fill="#fffa87" stroke="#7a7a7a" stroke-width="0.3" stroke-opacity="0.6"/>
<rect x="846.4" y="403.2" width="3.9" height="56.03" fill="#ff8000" stroke="#7a7a7a" stroke-width="0.3" stroke-opacity="0.6"/>
<rect x="851.2" y="483.11" width="3.9" height="17.19" fill="#fffa87" stroke="#7a7a7a" stroke-width="0.3" stroke-opacity="0.6"/>
<rect x="851.2" y="404.66" width="3.9" height="78.46" fill="#ff8000" stroke="#7a7a7a" stroke-width="0.3" stroke-opacity="0.6"/>
<rect x="851.2" y="403.2" width="3.9" height="1.46" fill="#3a0000" stroke="#7a7a7a" stroke-width="0.3" stroke-opacity="0.6"/>
<rect x="856" y="478.55" width="3.9" height="21.75" fill="#bdf5c3" stroke="#7a7a7a" stroke-width="0.3" stroke-opacity="0.6"/>
<rect x="856" y="408.83" width="3.9" height="69.72" fill="#fffa87" stroke="#7a7a7a" stroke-width="0.3" stroke-opacity="0.6"/>
<rect x="856" y="403.2" width="3.9" height="5.63" fill="#ff8000" stroke="#7a7a7a" stroke-width="0.3" stroke-opacity="0.6"/>
<rect x="860.8" y="480.59" width="3.9" height="19.71" fill="#bdf5c3" stroke="#7a7a7a" stroke-width="0.3" stroke-opacity="0.6"/>
<rect x="860.8" y="410.87" width="3.9" height="69.72" fill="#fffa87" stroke="#7a7a7a" stroke-width="0.3" stroke-opacity="0.6"/>
<rect x="860.8" y="404.66" width="3.9" height="6.21" fill="#ff8000" stroke="#7a7a7a" stroke-width="0.3" stroke-opacity="0.6"/>
<rect x="860.8" y="403.2" width="3.9" height="1.46" fill="#3a0000" stroke="#7a7a7a" stroke-width="0.3" stroke-opacity="0.6"/>
<rect x="865.6" y="498.65" width="3.9" height="1.65" fill="#bdf5c3" stroke="#7a7a7a" stroke-width="0.3" stroke-opacity="0.6"/>
<rect x="865.6" y="468.94" width="3.9" height="29.71" fill="#fffa87" stroke="#7a7a7a" stroke-width="0.3" stroke-opacity="0.6"/>
<rect x="865.6" y="404.66" width="3.9" height="64.28" fill="#ff8000" stroke="#7a7a7a" stroke-width="0.3" stroke-opacity="0.6"/>
<rect x="865.6" y="403.2" width="3.9" height="1.46" fill="#3a0000" stroke="#7a7a7a" stroke-width="0.3" stroke-opacity="0.6"/>
<rect x="870.4" y="490.3" width="3.9" height="10" fill="#bdf5c3" stroke="#7a7a7a" stroke-width="0.3" stroke-opacity="0.6"/>
<rect x="870.4" y="460.68" width="3.9" height="29.62" fill="#fffa87" stroke="#7a7a7a" stroke-width="0.3" stroke-opacity="0.6"/>
<rect x="870.4" y="404.66" width="3.9" height="56.03" fill="#ff8000" stroke="#7a7a7a" stroke-width="0.3" stroke-opacity="0.6"/>
<rect x="870.4" y="403.2" width="3.9" height="1.46" fill="#3a0000" stroke="#7a7a7a" stroke-width="0.3" stroke-opacity="0.6"/>
<rect x="875.2" y="470.59" width="3.9" height="29.71" fill="#00ee00" stroke="#7a7a7a" stroke-width="0.3" stroke-opacity="0.6"/>
<rect x="875.2" y="424.56" width="3.9" height="46.03" fill="#bdf5c3" stroke="#7a7a7a" stroke-width="0.3" stroke-opacity="0.6"/>
<rect x="875.2" y="403.2" width="3.9" height="21.36" fill="#fffa87" stroke="#7a7a7a" stroke-width="0.3" stroke-opacity="0.6"/>
<rect x="880" y="490.3" width="3.9" height="10" fill="#bdf5c3" stroke="#7a7a7a" stroke-width="0.3" stroke-opacity="0.6"/>
<rect x="880" y="457.19" width="3.9" height="33.11" fill="#fffa87" stroke="#7a7a7a" stroke-width="0.3" stroke-opacity="0.6"/>
<rect x="880" y="410.87" width="3.9" height="46.32" fill="#ff8000" stroke="#7a7a7a" stroke-width="0.3" stroke-opacity="0.6"/>
<rect x="880" y="403.2" width="3.9" height="7.67" fill="#3a0000" stroke="#7a7a7a" stroke-width="0.3" stroke-opacity="0.6"/>
<path d="M747.2 403.2V500.3H886.98" fill="none" stroke="#a8a8a8" stroke-width="0.6"/>
<path d="M745.9 500.3h1.3M745.9 490.59h1.3M745.9 480.88h1.3M745.9 471.17h1.3M745.9 461.46h1.3M745.9 451.75h1.3M745.9 442.04h1.3M745.9 432.33h1.3M745.9 422.62h1.3M745.9 412.91h1.3M745.9 403.2h1.3M752.35 500.3v1M757.15 500.3v1M761.95 500.3v1M766.75 500.3v1M771.55 500.3v1M776.35 500.3v1M781.15 500.3v1M785.95 500.3v1M790.75 500.3v1M795.55 500.3v1M800.35 500.3v1M805.15 500.3v1M809.95 500.3v1M814.75 500.3v1M819.55 500.3v1M824.35 500.3v1M829.15 500.3v1M833.95 500.3v1M838.75 500.3v1M843.55 500.3v1M848.35 500.3v1M853.15 500.3v1M857.95 500.3v1M862.75 500.3v1M867.55 500.3v1M872.35 500.3v1M877.15 500.3v1M881.95 500.3v1M886.98 500.3v1" stroke="#a8a8a8" stroke-width="0.5"/>
<g font-family="'Liberation Sans', sans-serif" font-size="5.6" fill="#222" stroke="#222" stroke-width="0.14" text-anchor="end"><text x="745.6" y="502.3">0.0</text><text x="745.6" y="492.59">0.1</text><text x="745.6" y="482.88">0.2</text><text x="745.6" y="473.17">0.3</text><text x="745.6" y="463.46">0.4</text><text x="745.6" y="453.75">0.5</text><text x="745.6" y="444.04">0.6</text><text x="745.6" y="434.33">0.7</text><text x="745.6" y="424.62">0.8</text><text x="745.6" y="414.91">0.9</text><text x="745.6" y="405.2">1.0</text></g>
<g font-family="'Liberation Sans', sans-serif" font-size="5.6" fill="#222" stroke="#222" stroke-width="0.14" text-anchor="middle"><text x="752.35" y="507.42">82</text><text x="771.55" y="507.42">86</text><text x="790.75" y="507.42">90</text><text x="809.95" y="507.42">94</text><text x="829.15" y="507.42">98</text><text x="848.35" y="507.42">02</text><text x="867.55" y="507.42">06</text></g>
<text font-family="'Liberation Sans', sans-serif" font-size="6.8" font-weight="bold" fill="#111" text-anchor="middle" x="816.95" y="513.55">Year</text>
<text font-family="'Liberation Sans', sans-serif" font-size="6.2" font-weight="bold" fill="#111" text-anchor="middle" transform="translate(736.02 451.35) rotate(-90)">Percentage</text>
<rect x="742.17" y="517.31" width="23.95" height="3.8" fill="#003800"/>
<rect x="766.07" y="517.31" width="23.95" height="3.8" fill="#00ee00"/>
<rect x="789.97" y="517.31" width="23.95" height="3.8" fill="#bdf5c3"/>
<rect x="813.87" y="517.31" width="23.95" height="3.8" fill="#fffa87"/>
<rect x="837.77" y="517.31" width="23.95" height="3.8" fill="#ff8000"/>
<rect x="861.67" y="517.31" width="23.95" height="3.8" fill="#3a0000"/>
<text font-family="'Liberation Sans', sans-serif" font-size="6.1" fill="#222" stroke="#222" stroke-width="0.25" x="736.91" y="521.01" text-anchor="middle">σ</text>
<g font-family="'Liberation Sans', sans-serif" font-size="5.6" font-weight="bold" fill="#222" text-anchor="middle"><text x="765.47" y="527.41">-2</text><text x="789.37" y="527.41">-1</text><text x="813.27" y="527.41">0</text><text x="837.17" y="527.41">1</text><text x="861.07" y="527.41">2</text></g>
</svg>
</body></html>
